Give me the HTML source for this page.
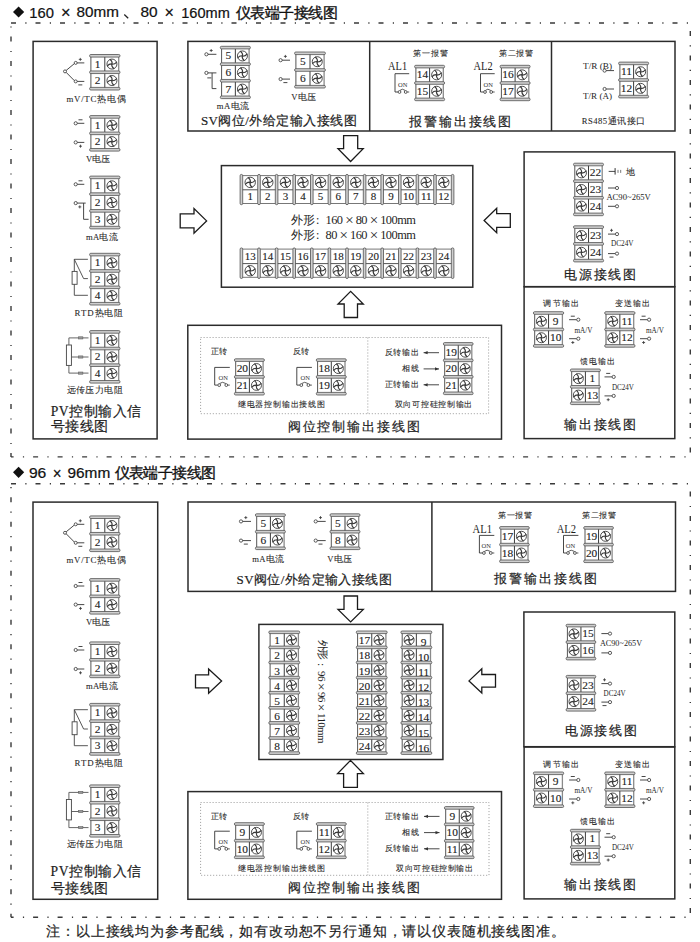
<!DOCTYPE html>
<html><head><meta charset="utf-8"><title>wiring</title>
<style>html,body{margin:0;padding:0;background:#fff;overflow:hidden;width:700px;height:942px;} svg{display:block;}</style></head>
<body><svg width="700" height="942" viewBox="0 0 700 942">

<rect width="700" height="942" fill="#fff"/>
<polygon points="18.6,6.4 24.2,12 18.6,17.6 13,12" fill="#111"/>
<text x="0" y="0" transform="translate(29.35,12.65) scale(1.0545,1)" font-size="14" font-family="'Liberation Sans', sans-serif" fill="#111" stroke="#111" stroke-width="0.2" dominant-baseline="central">160</text>
<text x="0" y="0" transform="translate(60.94,12.65) scale(0.9625,1)" font-size="17" font-family="'Liberation Sans', sans-serif" fill="#111" stroke="#111" stroke-width="0.2" dominant-baseline="central">×</text>
<text x="0" y="0" transform="translate(76.51,12.65) scale(1.0892,1)" font-size="14" font-family="'Liberation Sans', sans-serif" fill="#111" stroke="#111" stroke-width="0.2" dominant-baseline="central">80mm</text>
<text x="0" y="0" transform="translate(140.5,12.65) scale(1.1000,1)" font-size="14" font-family="'Liberation Sans', sans-serif" fill="#111" stroke="#111" stroke-width="0.2" dominant-baseline="central">80</text>
<text x="0" y="0" transform="translate(164.45,12.65) scale(0.9500,1)" font-size="17" font-family="'Liberation Sans', sans-serif" fill="#111" stroke="#111" stroke-width="0.2" dominant-baseline="central">×</text>
<text x="0" y="0" transform="translate(181.26,12.65) scale(1.0400,1)" font-size="14" font-family="'Liberation Sans', sans-serif" fill="#111" stroke="#111" stroke-width="0.2" dominant-baseline="central">160mm</text>
<line x1="124.3" y1="14.6" x2="128.2" y2="18.2" stroke="#222" stroke-width="1.3" />
<text x="235.5" y="12.9" font-size="14.5" text-anchor="start" font-family="'Liberation Sans', sans-serif" fill="#111" font-weight="normal" dominant-baseline="central" stroke="#111" stroke-width="0.35" textLength="102.5" lengthAdjust="spacing">仪表端子接线图</text>
<path d="M11,23 H690.3" stroke="#3a3a3a" stroke-width="1.4" fill="none" stroke-dasharray="5 9.3 1.2 9" stroke-dashoffset="0"/>
<path d="M11,23 V456.9" stroke="#3a3a3a" stroke-width="1.4" fill="none" stroke-dasharray="5 9.3 1.2 9" stroke-dashoffset="10.9"/>
<path d="M690.3,23 V456.9" stroke="#3a3a3a" stroke-width="1.4" fill="none" stroke-dasharray="5 9.3 1.2 9" stroke-dashoffset="16.6"/>
<path d="M11,456.9 H690.3" stroke="#3a3a3a" stroke-width="1.4" fill="none" stroke-dasharray="5 9.3 1.2 9" stroke-dashoffset="2.4"/>
<rect x="33.1" y="41.4" width="124" height="397.5" stroke="#2b2b2b" stroke-width="1.5" fill="none"/>
<rect x="90.8" y="54.55" width="28" height="32.9" fill="#fff" stroke="none"/>
<line x1="90.9" y1="55.55" x2="90.9" y2="88.45" stroke="#555" stroke-width="1" />
<line x1="118.7" y1="55.55" x2="118.7" y2="88.45" stroke="#8a8a8a" stroke-width="1.3" />
<line x1="104.8" y1="55.55" x2="104.8" y2="88.45" stroke="#3c3c3c" stroke-width="1" />
<rect x="89.6" y="54.5" width="30.4" height="2.6" rx="1.2" fill="#cfcfcf" stroke="#505050" stroke-width="0.8"/>
<rect x="89.6" y="70.95" width="30.4" height="2.6" rx="1.2" fill="#cfcfcf" stroke="#505050" stroke-width="0.8"/>
<rect x="89.6" y="87.4" width="30.4" height="2.6" rx="1.2" fill="#cfcfcf" stroke="#505050" stroke-width="0.8"/>
<g transform="translate(111.95,64.07)"><circle r="5" fill="none" stroke="#3a3a3a" stroke-width="0.9"/><path d="M0.2,0.2 C0.4,-1.8 0.2,-3.2 -1.8,-4.5 M-0.2,0.2 C1.8,0.4 3.2,0.2 4.5,-1.8 M-0.2,-0.2 C-0.4,1.8 -0.2,3.2 1.8,4.5 M0.2,-0.2 C-1.8,-0.4 -3.2,-0.2 -4.5,1.8" transform="scale(1)" fill="none" stroke="#3a3a3a" stroke-width="1.1" stroke-linecap="round"/></g>
<text x="97.65" y="63.57" font-size="11.4" text-anchor="middle" font-family="'Liberation Serif', serif" fill="#222" font-weight="normal" dominant-baseline="central" stroke="#222" stroke-width="0.12">1</text>
<g transform="translate(111.95,80.52)"><circle r="5" fill="none" stroke="#3a3a3a" stroke-width="0.9"/><path d="M0.2,0.2 C0.4,-1.8 0.2,-3.2 -1.8,-4.5 M-0.2,0.2 C1.8,0.4 3.2,0.2 4.5,-1.8 M-0.2,-0.2 C-0.4,1.8 -0.2,3.2 1.8,4.5 M0.2,-0.2 C-1.8,-0.4 -3.2,-0.2 -4.5,1.8" transform="scale(1)" fill="none" stroke="#3a3a3a" stroke-width="1.1" stroke-linecap="round"/></g>
<text x="97.65" y="80.02" font-size="11.4" text-anchor="middle" font-family="'Liberation Serif', serif" fill="#222" font-weight="normal" dominant-baseline="central" stroke="#222" stroke-width="0.12">2</text>
<circle cx="65" cy="71.4" r="1.5" fill="#fff" stroke="#333" stroke-width="0.8"/>
<line x1="66.2" y1="70.4" x2="74.5" y2="63.5" stroke="#333" stroke-width="0.9" />
<line x1="66.2" y1="72.4" x2="74.5" y2="80.8" stroke="#333" stroke-width="0.9" />
<circle cx="75.7" cy="62.9" r="1.5" fill="#fff" stroke="#333" stroke-width="0.8"/>
<circle cx="75.7" cy="81.4" r="1.5" fill="#fff" stroke="#333" stroke-width="0.8"/>
<line x1="77.2" y1="62.9" x2="84.3" y2="62.9" stroke="#333" stroke-width="0.9" />
<line x1="77.2" y1="81.4" x2="84.3" y2="81.4" stroke="#333" stroke-width="0.9" />
<line x1="78.8" y1="59.4" x2="81.8" y2="59.4" stroke="#333" stroke-width="0.8" />
<line x1="80.3" y1="57.9" x2="80.3" y2="60.9" stroke="#333" stroke-width="0.8" />
<line x1="78.3" y1="84.9" x2="82.3" y2="84.9" stroke="#333" stroke-width="0.9" />
<text x="96" y="99" font-size="8.84" text-anchor="middle" font-family="'Liberation Serif', serif" fill="#1e1e1e" font-weight="normal" dominant-baseline="central"  textLength="59" lengthAdjust="spacing" stroke="#1e1e1e" stroke-width="0.08">mV/TC热电偶</text>
<rect x="90.8" y="115.65" width="28" height="32.9" fill="#fff" stroke="none"/>
<line x1="90.9" y1="116.65" x2="90.9" y2="149.55" stroke="#555" stroke-width="1" />
<line x1="118.7" y1="116.65" x2="118.7" y2="149.55" stroke="#8a8a8a" stroke-width="1.3" />
<line x1="104.8" y1="116.65" x2="104.8" y2="149.55" stroke="#3c3c3c" stroke-width="1" />
<rect x="89.6" y="115.6" width="30.4" height="2.6" rx="1.2" fill="#cfcfcf" stroke="#505050" stroke-width="0.8"/>
<rect x="89.6" y="132.05" width="30.4" height="2.6" rx="1.2" fill="#cfcfcf" stroke="#505050" stroke-width="0.8"/>
<rect x="89.6" y="148.5" width="30.4" height="2.6" rx="1.2" fill="#cfcfcf" stroke="#505050" stroke-width="0.8"/>
<g transform="translate(111.95,125.17)"><circle r="5" fill="none" stroke="#3a3a3a" stroke-width="0.9"/><path d="M0.2,0.2 C0.4,-1.8 0.2,-3.2 -1.8,-4.5 M-0.2,0.2 C1.8,0.4 3.2,0.2 4.5,-1.8 M-0.2,-0.2 C-0.4,1.8 -0.2,3.2 1.8,4.5 M0.2,-0.2 C-1.8,-0.4 -3.2,-0.2 -4.5,1.8" transform="scale(1)" fill="none" stroke="#3a3a3a" stroke-width="1.1" stroke-linecap="round"/></g>
<text x="97.65" y="124.67" font-size="11.4" text-anchor="middle" font-family="'Liberation Serif', serif" fill="#222" font-weight="normal" dominant-baseline="central" stroke="#222" stroke-width="0.12">1</text>
<g transform="translate(111.95,141.62)"><circle r="5" fill="none" stroke="#3a3a3a" stroke-width="0.9"/><path d="M0.2,0.2 C0.4,-1.8 0.2,-3.2 -1.8,-4.5 M-0.2,0.2 C1.8,0.4 3.2,0.2 4.5,-1.8 M-0.2,-0.2 C-0.4,1.8 -0.2,3.2 1.8,4.5 M0.2,-0.2 C-1.8,-0.4 -3.2,-0.2 -4.5,1.8" transform="scale(1)" fill="none" stroke="#3a3a3a" stroke-width="1.1" stroke-linecap="round"/></g>
<text x="97.65" y="141.12" font-size="11.4" text-anchor="middle" font-family="'Liberation Serif', serif" fill="#222" font-weight="normal" dominant-baseline="central" stroke="#222" stroke-width="0.12">2</text>
<circle cx="75.7" cy="123.3" r="1.6" fill="#fff" stroke="#333" stroke-width="0.8"/>
<line x1="77.3" y1="123.3" x2="84.3" y2="123.3" stroke="#333" stroke-width="0.9" />
<line x1="78.5" y1="119.8" x2="82.5" y2="119.8" stroke="#333" stroke-width="0.9" />
<circle cx="75.7" cy="142.4" r="1.6" fill="#fff" stroke="#333" stroke-width="0.8"/>
<line x1="77.3" y1="142.4" x2="84.3" y2="142.4" stroke="#333" stroke-width="0.9" />
<line x1="79" y1="146.2" x2="82" y2="146.2" stroke="#333" stroke-width="0.8" />
<line x1="80.5" y1="144.7" x2="80.5" y2="147.7" stroke="#333" stroke-width="0.8" />
<text x="98.2" y="159.3" font-size="8.65" text-anchor="middle" font-family="'Liberation Serif', serif" fill="#1e1e1e" font-weight="normal" dominant-baseline="central"  textLength="24.5" lengthAdjust="spacing" stroke="#1e1e1e" stroke-width="0.08">V电压</text>
<rect x="90.8" y="176.15" width="28" height="50.19" fill="#fff" stroke="none"/>
<line x1="90.9" y1="177.15" x2="90.9" y2="227.34" stroke="#555" stroke-width="1" />
<line x1="118.7" y1="177.15" x2="118.7" y2="227.34" stroke="#8a8a8a" stroke-width="1.3" />
<line x1="104.8" y1="177.15" x2="104.8" y2="227.34" stroke="#3c3c3c" stroke-width="1" />
<rect x="89.6" y="176.1" width="30.4" height="2.6" rx="1.2" fill="#cfcfcf" stroke="#505050" stroke-width="0.8"/>
<rect x="89.6" y="192.83" width="30.4" height="2.6" rx="1.2" fill="#cfcfcf" stroke="#505050" stroke-width="0.8"/>
<rect x="89.6" y="209.56" width="30.4" height="2.6" rx="1.2" fill="#cfcfcf" stroke="#505050" stroke-width="0.8"/>
<rect x="89.6" y="226.29" width="30.4" height="2.6" rx="1.2" fill="#cfcfcf" stroke="#505050" stroke-width="0.8"/>
<g transform="translate(111.95,185.82)"><circle r="5" fill="none" stroke="#3a3a3a" stroke-width="0.9"/><path d="M0.2,0.2 C0.4,-1.8 0.2,-3.2 -1.8,-4.5 M-0.2,0.2 C1.8,0.4 3.2,0.2 4.5,-1.8 M-0.2,-0.2 C-0.4,1.8 -0.2,3.2 1.8,4.5 M0.2,-0.2 C-1.8,-0.4 -3.2,-0.2 -4.5,1.8" transform="scale(1)" fill="none" stroke="#3a3a3a" stroke-width="1.1" stroke-linecap="round"/></g>
<text x="97.65" y="185.32" font-size="11.4" text-anchor="middle" font-family="'Liberation Serif', serif" fill="#222" font-weight="normal" dominant-baseline="central" stroke="#222" stroke-width="0.12">1</text>
<g transform="translate(111.95,202.55)"><circle r="5" fill="none" stroke="#3a3a3a" stroke-width="0.9"/><path d="M0.2,0.2 C0.4,-1.8 0.2,-3.2 -1.8,-4.5 M-0.2,0.2 C1.8,0.4 3.2,0.2 4.5,-1.8 M-0.2,-0.2 C-0.4,1.8 -0.2,3.2 1.8,4.5 M0.2,-0.2 C-1.8,-0.4 -3.2,-0.2 -4.5,1.8" transform="scale(1)" fill="none" stroke="#3a3a3a" stroke-width="1.1" stroke-linecap="round"/></g>
<text x="97.65" y="202.05" font-size="11.4" text-anchor="middle" font-family="'Liberation Serif', serif" fill="#222" font-weight="normal" dominant-baseline="central" stroke="#222" stroke-width="0.12">2</text>
<g transform="translate(111.95,219.28)"><circle r="5" fill="none" stroke="#3a3a3a" stroke-width="0.9"/><path d="M0.2,0.2 C0.4,-1.8 0.2,-3.2 -1.8,-4.5 M-0.2,0.2 C1.8,0.4 3.2,0.2 4.5,-1.8 M-0.2,-0.2 C-0.4,1.8 -0.2,3.2 1.8,4.5 M0.2,-0.2 C-1.8,-0.4 -3.2,-0.2 -4.5,1.8" transform="scale(1)" fill="none" stroke="#3a3a3a" stroke-width="1.1" stroke-linecap="round"/></g>
<text x="97.65" y="218.78" font-size="11.4" text-anchor="middle" font-family="'Liberation Serif', serif" fill="#222" font-weight="normal" dominant-baseline="central" stroke="#222" stroke-width="0.12">3</text>
<circle cx="75.7" cy="184.3" r="1.6" fill="#fff" stroke="#333" stroke-width="0.8"/>
<line x1="77.3" y1="184.3" x2="84.3" y2="184.3" stroke="#333" stroke-width="0.9" />
<line x1="78.5" y1="180.8" x2="82.5" y2="180.8" stroke="#333" stroke-width="0.9" />
<circle cx="75.7" cy="203.1" r="1.6" fill="#fff" stroke="#333" stroke-width="0.8"/>
<polyline points="77.3,203.1 85.7,203.1" stroke="#333" stroke-width="0.9" fill="none" stroke-linejoin="miter" />
<polyline points="83.6,203.1 83.6,219.3 88.6,219.3" stroke="#333" stroke-width="0.9" fill="none" stroke-linejoin="miter" />
<line x1="78.3" y1="206.9" x2="81.3" y2="206.9" stroke="#333" stroke-width="0.8" />
<line x1="79.8" y1="205.4" x2="79.8" y2="208.4" stroke="#333" stroke-width="0.8" />
<text x="101.8" y="236.9" font-size="8.65" text-anchor="middle" font-family="'Liberation Serif', serif" fill="#1e1e1e" font-weight="normal" dominant-baseline="central"  textLength="31.5" lengthAdjust="spacing" stroke="#1e1e1e" stroke-width="0.08">mA电流</text>
<rect x="90.8" y="253.35" width="28" height="49.11" fill="#fff" stroke="none"/>
<line x1="90.9" y1="254.35" x2="90.9" y2="303.46" stroke="#555" stroke-width="1" />
<line x1="118.7" y1="254.35" x2="118.7" y2="303.46" stroke="#8a8a8a" stroke-width="1.3" />
<line x1="104.8" y1="254.35" x2="104.8" y2="303.46" stroke="#3c3c3c" stroke-width="1" />
<rect x="89.6" y="253.3" width="30.4" height="2.6" rx="1.2" fill="#cfcfcf" stroke="#505050" stroke-width="0.8"/>
<rect x="89.6" y="269.67" width="30.4" height="2.6" rx="1.2" fill="#cfcfcf" stroke="#505050" stroke-width="0.8"/>
<rect x="89.6" y="286.04" width="30.4" height="2.6" rx="1.2" fill="#cfcfcf" stroke="#505050" stroke-width="0.8"/>
<rect x="89.6" y="302.41" width="30.4" height="2.6" rx="1.2" fill="#cfcfcf" stroke="#505050" stroke-width="0.8"/>
<g transform="translate(111.95,262.83)"><circle r="5" fill="none" stroke="#3a3a3a" stroke-width="0.9"/><path d="M0.2,0.2 C0.4,-1.8 0.2,-3.2 -1.8,-4.5 M-0.2,0.2 C1.8,0.4 3.2,0.2 4.5,-1.8 M-0.2,-0.2 C-0.4,1.8 -0.2,3.2 1.8,4.5 M0.2,-0.2 C-1.8,-0.4 -3.2,-0.2 -4.5,1.8" transform="scale(1)" fill="none" stroke="#3a3a3a" stroke-width="1.1" stroke-linecap="round"/></g>
<text x="97.65" y="262.33" font-size="11.4" text-anchor="middle" font-family="'Liberation Serif', serif" fill="#222" font-weight="normal" dominant-baseline="central" stroke="#222" stroke-width="0.12">1</text>
<g transform="translate(111.95,279.2)"><circle r="5" fill="none" stroke="#3a3a3a" stroke-width="0.9"/><path d="M0.2,0.2 C0.4,-1.8 0.2,-3.2 -1.8,-4.5 M-0.2,0.2 C1.8,0.4 3.2,0.2 4.5,-1.8 M-0.2,-0.2 C-0.4,1.8 -0.2,3.2 1.8,4.5 M0.2,-0.2 C-1.8,-0.4 -3.2,-0.2 -4.5,1.8" transform="scale(1)" fill="none" stroke="#3a3a3a" stroke-width="1.1" stroke-linecap="round"/></g>
<text x="97.65" y="278.7" font-size="11.4" text-anchor="middle" font-family="'Liberation Serif', serif" fill="#222" font-weight="normal" dominant-baseline="central" stroke="#222" stroke-width="0.12">2</text>
<g transform="translate(111.95,295.57)"><circle r="5" fill="none" stroke="#3a3a3a" stroke-width="0.9"/><path d="M0.2,0.2 C0.4,-1.8 0.2,-3.2 -1.8,-4.5 M-0.2,0.2 C1.8,0.4 3.2,0.2 4.5,-1.8 M-0.2,-0.2 C-0.4,1.8 -0.2,3.2 1.8,4.5 M0.2,-0.2 C-1.8,-0.4 -3.2,-0.2 -4.5,1.8" transform="scale(1)" fill="none" stroke="#3a3a3a" stroke-width="1.1" stroke-linecap="round"/></g>
<text x="97.65" y="295.07" font-size="11.4" text-anchor="middle" font-family="'Liberation Serif', serif" fill="#222" font-weight="normal" dominant-baseline="central" stroke="#222" stroke-width="0.12">4</text>
<polyline points="87.9,259.3 74.3,259.3 74.3,271.4" stroke="#444" stroke-width="0.9" fill="none" stroke-linejoin="miter" />
<polyline points="74.3,259.3 83.6,278.6 87.9,278.6" stroke="#444" stroke-width="0.9" fill="none" stroke-linejoin="miter" />
<rect x="72.1" y="271.4" width="5" height="12.9" fill="#fff" stroke="#444" stroke-width="0.9"/>
<polyline points="74.3,284.3 74.3,295.3 87.9,295.3" stroke="#444" stroke-width="0.9" fill="none" stroke-linejoin="miter" />
<text x="99" y="312.9" font-size="8.84" text-anchor="middle" font-family="'Liberation Serif', serif" fill="#1e1e1e" font-weight="normal" dominant-baseline="central"  textLength="48.8" lengthAdjust="spacing" stroke="#1e1e1e" stroke-width="0.08">RTD热电阻</text>
<rect x="90.8" y="330.65" width="28" height="49.89" fill="#fff" stroke="none"/>
<line x1="90.9" y1="331.65" x2="90.9" y2="381.54" stroke="#555" stroke-width="1" />
<line x1="118.7" y1="331.65" x2="118.7" y2="381.54" stroke="#8a8a8a" stroke-width="1.3" />
<line x1="104.8" y1="331.65" x2="104.8" y2="381.54" stroke="#3c3c3c" stroke-width="1" />
<rect x="89.6" y="330.6" width="30.4" height="2.6" rx="1.2" fill="#cfcfcf" stroke="#505050" stroke-width="0.8"/>
<rect x="89.6" y="347.23" width="30.4" height="2.6" rx="1.2" fill="#cfcfcf" stroke="#505050" stroke-width="0.8"/>
<rect x="89.6" y="363.86" width="30.4" height="2.6" rx="1.2" fill="#cfcfcf" stroke="#505050" stroke-width="0.8"/>
<rect x="89.6" y="380.49" width="30.4" height="2.6" rx="1.2" fill="#cfcfcf" stroke="#505050" stroke-width="0.8"/>
<g transform="translate(111.95,340.26)"><circle r="5" fill="none" stroke="#3a3a3a" stroke-width="0.9"/><path d="M0.2,0.2 C0.4,-1.8 0.2,-3.2 -1.8,-4.5 M-0.2,0.2 C1.8,0.4 3.2,0.2 4.5,-1.8 M-0.2,-0.2 C-0.4,1.8 -0.2,3.2 1.8,4.5 M0.2,-0.2 C-1.8,-0.4 -3.2,-0.2 -4.5,1.8" transform="scale(1)" fill="none" stroke="#3a3a3a" stroke-width="1.1" stroke-linecap="round"/></g>
<text x="97.65" y="339.76" font-size="11.4" text-anchor="middle" font-family="'Liberation Serif', serif" fill="#222" font-weight="normal" dominant-baseline="central" stroke="#222" stroke-width="0.12">1</text>
<g transform="translate(111.95,356.89)"><circle r="5" fill="none" stroke="#3a3a3a" stroke-width="0.9"/><path d="M0.2,0.2 C0.4,-1.8 0.2,-3.2 -1.8,-4.5 M-0.2,0.2 C1.8,0.4 3.2,0.2 4.5,-1.8 M-0.2,-0.2 C-0.4,1.8 -0.2,3.2 1.8,4.5 M0.2,-0.2 C-1.8,-0.4 -3.2,-0.2 -4.5,1.8" transform="scale(1)" fill="none" stroke="#3a3a3a" stroke-width="1.1" stroke-linecap="round"/></g>
<text x="97.65" y="356.39" font-size="11.4" text-anchor="middle" font-family="'Liberation Serif', serif" fill="#222" font-weight="normal" dominant-baseline="central" stroke="#222" stroke-width="0.12">2</text>
<g transform="translate(111.95,373.52)"><circle r="5" fill="none" stroke="#3a3a3a" stroke-width="0.9"/><path d="M0.2,0.2 C0.4,-1.8 0.2,-3.2 -1.8,-4.5 M-0.2,0.2 C1.8,0.4 3.2,0.2 4.5,-1.8 M-0.2,-0.2 C-0.4,1.8 -0.2,3.2 1.8,4.5 M0.2,-0.2 C-1.8,-0.4 -3.2,-0.2 -4.5,1.8" transform="scale(1)" fill="none" stroke="#3a3a3a" stroke-width="1.1" stroke-linecap="round"/></g>
<text x="97.65" y="373.02" font-size="11.4" text-anchor="middle" font-family="'Liberation Serif', serif" fill="#222" font-weight="normal" dominant-baseline="central" stroke="#222" stroke-width="0.12">4</text>
<rect x="66.4" y="345" width="5" height="20.4" fill="#fff" stroke="#444" stroke-width="0.9"/>
<polyline points="68.9,345 68.9,337.9 88.5,337.9" stroke="#555" stroke-width="0.9" fill="none" stroke-linejoin="miter" />
<line x1="71.4" y1="357" x2="88.5" y2="357" stroke="#555" stroke-width="0.9" />
<polyline points="68.9,365.4 68.9,373.1 88.5,373.1" stroke="#555" stroke-width="0.9" fill="none" stroke-linejoin="miter" />
<rect x="78.6" y="336.8" width="4.3" height="2.2" fill="#999" stroke="#555" stroke-width="0.5"/>
<rect x="78.6" y="355.9" width="4.3" height="2.2" fill="#999" stroke="#555" stroke-width="0.5"/>
<rect x="78.6" y="372" width="4.3" height="2.2" fill="#999" stroke="#555" stroke-width="0.5"/>
<text x="94.5" y="390" font-size="8.56" text-anchor="middle" font-family="'Liberation Serif', serif" fill="#1e1e1e" font-weight="normal" dominant-baseline="central"  textLength="56" lengthAdjust="spacing" stroke="#1e1e1e" stroke-width="0.08">远传压力电阻</text>
<text x="50.7" y="411.4" font-size="13.6" text-anchor="start" font-family="'Liberation Serif', serif" fill="#1e1e1e" font-weight="normal" dominant-baseline="central"  textLength="90.5" lengthAdjust="spacing" stroke="#1e1e1e" stroke-width="0.2">PV控制输入信</text>
<text x="50.7" y="426.4" font-size="13.6" text-anchor="start" font-family="'Liberation Serif', serif" fill="#1e1e1e" font-weight="normal" dominant-baseline="central"  textLength="57.6" lengthAdjust="spacing" stroke="#1e1e1e" stroke-width="0.2">号接线图</text>
<rect x="187.9" y="41.4" width="487.1" height="89.6" stroke="#2b2b2b" stroke-width="1.5" fill="none"/>
<line x1="369.7" y1="41.4" x2="369.7" y2="131" stroke="#2b2b2b" stroke-width="1.5" />
<line x1="551.5" y1="41.4" x2="551.5" y2="131" stroke="#2b2b2b" stroke-width="1.5" />
<rect x="221.5" y="46.35" width="27.7" height="49.71" fill="#fff" stroke="none"/>
<line x1="221.6" y1="47.35" x2="221.6" y2="97.06" stroke="#555" stroke-width="1" />
<line x1="249.1" y1="47.35" x2="249.1" y2="97.06" stroke="#8a8a8a" stroke-width="1.3" />
<line x1="235.35" y1="47.35" x2="235.35" y2="97.06" stroke="#3c3c3c" stroke-width="1" />
<rect x="220.3" y="46.3" width="30.1" height="2.6" rx="1.2" fill="#cfcfcf" stroke="#505050" stroke-width="0.8"/>
<rect x="220.3" y="62.87" width="30.1" height="2.6" rx="1.2" fill="#cfcfcf" stroke="#505050" stroke-width="0.8"/>
<rect x="220.3" y="79.44" width="30.1" height="2.6" rx="1.2" fill="#cfcfcf" stroke="#505050" stroke-width="0.8"/>
<rect x="220.3" y="96.01" width="30.1" height="2.6" rx="1.2" fill="#cfcfcf" stroke="#505050" stroke-width="0.8"/>
<g transform="translate(242.43,55.94)"><circle r="5" fill="none" stroke="#3a3a3a" stroke-width="0.9"/><path d="M0.2,0.2 C0.4,-1.8 0.2,-3.2 -1.8,-4.5 M-0.2,0.2 C1.8,0.4 3.2,0.2 4.5,-1.8 M-0.2,-0.2 C-0.4,1.8 -0.2,3.2 1.8,4.5 M0.2,-0.2 C-1.8,-0.4 -3.2,-0.2 -4.5,1.8" transform="scale(1)" fill="none" stroke="#3a3a3a" stroke-width="1.1" stroke-linecap="round"/></g>
<text x="228.28" y="55.44" font-size="11.4" text-anchor="middle" font-family="'Liberation Serif', serif" fill="#222" font-weight="normal" dominant-baseline="central" stroke="#222" stroke-width="0.12">5</text>
<g transform="translate(242.43,72.5)"><circle r="5" fill="none" stroke="#3a3a3a" stroke-width="0.9"/><path d="M0.2,0.2 C0.4,-1.8 0.2,-3.2 -1.8,-4.5 M-0.2,0.2 C1.8,0.4 3.2,0.2 4.5,-1.8 M-0.2,-0.2 C-0.4,1.8 -0.2,3.2 1.8,4.5 M0.2,-0.2 C-1.8,-0.4 -3.2,-0.2 -4.5,1.8" transform="scale(1)" fill="none" stroke="#3a3a3a" stroke-width="1.1" stroke-linecap="round"/></g>
<text x="228.28" y="72" font-size="11.4" text-anchor="middle" font-family="'Liberation Serif', serif" fill="#222" font-weight="normal" dominant-baseline="central" stroke="#222" stroke-width="0.12">6</text>
<g transform="translate(242.43,89.08)"><circle r="5" fill="none" stroke="#3a3a3a" stroke-width="0.9"/><path d="M0.2,0.2 C0.4,-1.8 0.2,-3.2 -1.8,-4.5 M-0.2,0.2 C1.8,0.4 3.2,0.2 4.5,-1.8 M-0.2,-0.2 C-0.4,1.8 -0.2,3.2 1.8,4.5 M0.2,-0.2 C-1.8,-0.4 -3.2,-0.2 -4.5,1.8" transform="scale(1)" fill="none" stroke="#3a3a3a" stroke-width="1.1" stroke-linecap="round"/></g>
<text x="228.28" y="88.58" font-size="11.4" text-anchor="middle" font-family="'Liberation Serif', serif" fill="#222" font-weight="normal" dominant-baseline="central" stroke="#222" stroke-width="0.12">7</text>
<circle cx="206.4" cy="54.3" r="1.6" fill="#fff" stroke="#333" stroke-width="0.8"/>
<line x1="208" y1="54.3" x2="216.4" y2="54.3" stroke="#333" stroke-width="0.9" />
<line x1="209.7" y1="50.5" x2="212.7" y2="50.5" stroke="#333" stroke-width="0.8" />
<line x1="211.2" y1="49" x2="211.2" y2="52" stroke="#333" stroke-width="0.8" />
<circle cx="206.4" cy="72.9" r="1.6" fill="#fff" stroke="#333" stroke-width="0.8"/>
<line x1="208" y1="72.9" x2="216.4" y2="72.9" stroke="#333" stroke-width="0.9" />
<polyline points="212.1,72.9 212.1,88.6 216.4,88.6" stroke="#333" stroke-width="0.9" fill="none" stroke-linejoin="miter" />
<line x1="207.3" y1="77.9" x2="211.3" y2="77.9" stroke="#333" stroke-width="0.9" />
<text x="233" y="105.7" font-size="8.65" text-anchor="middle" font-family="'Liberation Serif', serif" fill="#1e1e1e" font-weight="normal" dominant-baseline="central"  textLength="32.4" lengthAdjust="spacing" stroke="#1e1e1e" stroke-width="0.08">mA电流</text>
<rect x="295.8" y="52.05" width="28.4" height="33.4" fill="#fff" stroke="none"/>
<line x1="295.9" y1="53.05" x2="295.9" y2="86.45" stroke="#555" stroke-width="1" />
<line x1="324.1" y1="53.05" x2="324.1" y2="86.45" stroke="#8a8a8a" stroke-width="1.3" />
<line x1="310" y1="53.05" x2="310" y2="86.45" stroke="#3c3c3c" stroke-width="1" />
<rect x="294.6" y="52" width="30.8" height="2.6" rx="1.2" fill="#cfcfcf" stroke="#505050" stroke-width="0.8"/>
<rect x="294.6" y="68.7" width="30.8" height="2.6" rx="1.2" fill="#cfcfcf" stroke="#505050" stroke-width="0.8"/>
<rect x="294.6" y="85.4" width="30.8" height="2.6" rx="1.2" fill="#cfcfcf" stroke="#505050" stroke-width="0.8"/>
<g transform="translate(317.25,61.7)"><circle r="5" fill="none" stroke="#3a3a3a" stroke-width="0.9"/><path d="M0.2,0.2 C0.4,-1.8 0.2,-3.2 -1.8,-4.5 M-0.2,0.2 C1.8,0.4 3.2,0.2 4.5,-1.8 M-0.2,-0.2 C-0.4,1.8 -0.2,3.2 1.8,4.5 M0.2,-0.2 C-1.8,-0.4 -3.2,-0.2 -4.5,1.8" transform="scale(1)" fill="none" stroke="#3a3a3a" stroke-width="1.1" stroke-linecap="round"/></g>
<text x="302.75" y="61.2" font-size="11.4" text-anchor="middle" font-family="'Liberation Serif', serif" fill="#222" font-weight="normal" dominant-baseline="central" stroke="#222" stroke-width="0.12">5</text>
<g transform="translate(317.25,78.4)"><circle r="5" fill="none" stroke="#3a3a3a" stroke-width="0.9"/><path d="M0.2,0.2 C0.4,-1.8 0.2,-3.2 -1.8,-4.5 M-0.2,0.2 C1.8,0.4 3.2,0.2 4.5,-1.8 M-0.2,-0.2 C-0.4,1.8 -0.2,3.2 1.8,4.5 M0.2,-0.2 C-1.8,-0.4 -3.2,-0.2 -4.5,1.8" transform="scale(1)" fill="none" stroke="#3a3a3a" stroke-width="1.1" stroke-linecap="round"/></g>
<text x="302.75" y="77.9" font-size="11.4" text-anchor="middle" font-family="'Liberation Serif', serif" fill="#222" font-weight="normal" dominant-baseline="central" stroke="#222" stroke-width="0.12">6</text>
<circle cx="280.6" cy="60.2" r="1.6" fill="#fff" stroke="#333" stroke-width="0.8"/>
<line x1="282.2" y1="60.2" x2="290" y2="60.2" stroke="#333" stroke-width="0.9" />
<line x1="283.9" y1="56.4" x2="286.9" y2="56.4" stroke="#333" stroke-width="0.8" />
<line x1="285.4" y1="54.9" x2="285.4" y2="57.9" stroke="#333" stroke-width="0.8" />
<circle cx="280.6" cy="79.1" r="1.6" fill="#fff" stroke="#333" stroke-width="0.8"/>
<line x1="282.2" y1="79.1" x2="290" y2="79.1" stroke="#333" stroke-width="0.9" />
<line x1="283.4" y1="82.6" x2="287.4" y2="82.6" stroke="#333" stroke-width="0.9" />
<text x="303.7" y="96.6" font-size="8.65" text-anchor="middle" font-family="'Liberation Serif', serif" fill="#1e1e1e" font-weight="normal" dominant-baseline="central"  textLength="25" lengthAdjust="spacing" stroke="#1e1e1e" stroke-width="0.08">V电压</text>
<text x="278.7" y="120.5" font-size="13" text-anchor="middle" font-family="'Liberation Serif', serif" fill="#1e1e1e" font-weight="normal" dominant-baseline="central"  textLength="155.6" lengthAdjust="spacing" stroke="#1e1e1e" stroke-width="0.2">SV阀位/外给定输入接线图</text>
<rect x="415.8" y="65.35" width="27.6" height="32.8" fill="#fff" stroke="none"/>
<line x1="415.9" y1="66.35" x2="415.9" y2="99.15" stroke="#555" stroke-width="1" />
<line x1="443.3" y1="66.35" x2="443.3" y2="99.15" stroke="#8a8a8a" stroke-width="1.3" />
<line x1="429.6" y1="66.35" x2="429.6" y2="99.15" stroke="#3c3c3c" stroke-width="1" />
<rect x="414.6" y="65.3" width="30" height="2.6" rx="1.2" fill="#cfcfcf" stroke="#505050" stroke-width="0.8"/>
<rect x="414.6" y="81.7" width="30" height="2.6" rx="1.2" fill="#cfcfcf" stroke="#505050" stroke-width="0.8"/>
<rect x="414.6" y="98.1" width="30" height="2.6" rx="1.2" fill="#cfcfcf" stroke="#505050" stroke-width="0.8"/>
<g transform="translate(436.65,74.85)"><circle r="5" fill="none" stroke="#3a3a3a" stroke-width="0.9"/><path d="M0.2,0.2 C0.4,-1.8 0.2,-3.2 -1.8,-4.5 M-0.2,0.2 C1.8,0.4 3.2,0.2 4.5,-1.8 M-0.2,-0.2 C-0.4,1.8 -0.2,3.2 1.8,4.5 M0.2,-0.2 C-1.8,-0.4 -3.2,-0.2 -4.5,1.8" transform="scale(1)" fill="none" stroke="#3a3a3a" stroke-width="1.1" stroke-linecap="round"/></g>
<text x="422.55" y="74.35" font-size="11.4" text-anchor="middle" font-family="'Liberation Serif', serif" fill="#222" font-weight="normal" dominant-baseline="central" stroke="#222" stroke-width="0.12">14</text>
<g transform="translate(436.65,91.25)"><circle r="5" fill="none" stroke="#3a3a3a" stroke-width="0.9"/><path d="M0.2,0.2 C0.4,-1.8 0.2,-3.2 -1.8,-4.5 M-0.2,0.2 C1.8,0.4 3.2,0.2 4.5,-1.8 M-0.2,-0.2 C-0.4,1.8 -0.2,3.2 1.8,4.5 M0.2,-0.2 C-1.8,-0.4 -3.2,-0.2 -4.5,1.8" transform="scale(1)" fill="none" stroke="#3a3a3a" stroke-width="1.1" stroke-linecap="round"/></g>
<text x="422.55" y="90.75" font-size="11.4" text-anchor="middle" font-family="'Liberation Serif', serif" fill="#222" font-weight="normal" dominant-baseline="central" stroke="#222" stroke-width="0.12">15</text>
<text x="430.4" y="53.5" font-size="7.81" text-anchor="middle" font-family="'Liberation Serif', serif" fill="#1e1e1e" font-weight="normal" dominant-baseline="central"  textLength="34.4" lengthAdjust="spacing" stroke="#1e1e1e" stroke-width="0.08">第一报警</text>
<text x="397.6" y="66.4" font-size="12" text-anchor="middle" font-family="'Liberation Serif', serif" fill="#1e1e1e" font-weight="normal" dominant-baseline="central"  textLength="19" lengthAdjust="spacingAndGlyphs">AL1</text>
<polyline points="409.2,73.7 395,73.7 395,92 398,92" stroke="#333" stroke-width="0.9" fill="none" stroke-linejoin="miter" />
<circle cx="399.5" cy="92" r="1.4" fill="#fff" stroke="#333" stroke-width="0.8"/>
<circle cx="405.7" cy="92" r="1.4" fill="#fff" stroke="#333" stroke-width="0.8"/>
<path d="M400,90.4 Q402.1,88 405.2,90.4" stroke="#333" stroke-width="0.8" fill="none"/>
<line x1="407.2" y1="92" x2="409.2" y2="92" stroke="#333" stroke-width="0.8" />
<text x="402.8" y="84.3" font-size="6.5" text-anchor="middle" font-family="'Liberation Serif', serif" fill="#333" font-weight="normal" dominant-baseline="central" >ON</text>
<rect x="501.3" y="65.35" width="27.6" height="32.8" fill="#fff" stroke="none"/>
<line x1="501.4" y1="66.35" x2="501.4" y2="99.15" stroke="#555" stroke-width="1" />
<line x1="528.8" y1="66.35" x2="528.8" y2="99.15" stroke="#8a8a8a" stroke-width="1.3" />
<line x1="515.1" y1="66.35" x2="515.1" y2="99.15" stroke="#3c3c3c" stroke-width="1" />
<rect x="500.1" y="65.3" width="30" height="2.6" rx="1.2" fill="#cfcfcf" stroke="#505050" stroke-width="0.8"/>
<rect x="500.1" y="81.7" width="30" height="2.6" rx="1.2" fill="#cfcfcf" stroke="#505050" stroke-width="0.8"/>
<rect x="500.1" y="98.1" width="30" height="2.6" rx="1.2" fill="#cfcfcf" stroke="#505050" stroke-width="0.8"/>
<g transform="translate(522.15,74.85)"><circle r="5" fill="none" stroke="#3a3a3a" stroke-width="0.9"/><path d="M0.2,0.2 C0.4,-1.8 0.2,-3.2 -1.8,-4.5 M-0.2,0.2 C1.8,0.4 3.2,0.2 4.5,-1.8 M-0.2,-0.2 C-0.4,1.8 -0.2,3.2 1.8,4.5 M0.2,-0.2 C-1.8,-0.4 -3.2,-0.2 -4.5,1.8" transform="scale(1)" fill="none" stroke="#3a3a3a" stroke-width="1.1" stroke-linecap="round"/></g>
<text x="508.05" y="74.35" font-size="11.4" text-anchor="middle" font-family="'Liberation Serif', serif" fill="#222" font-weight="normal" dominant-baseline="central" stroke="#222" stroke-width="0.12">16</text>
<g transform="translate(522.15,91.25)"><circle r="5" fill="none" stroke="#3a3a3a" stroke-width="0.9"/><path d="M0.2,0.2 C0.4,-1.8 0.2,-3.2 -1.8,-4.5 M-0.2,0.2 C1.8,0.4 3.2,0.2 4.5,-1.8 M-0.2,-0.2 C-0.4,1.8 -0.2,3.2 1.8,4.5 M0.2,-0.2 C-1.8,-0.4 -3.2,-0.2 -4.5,1.8" transform="scale(1)" fill="none" stroke="#3a3a3a" stroke-width="1.1" stroke-linecap="round"/></g>
<text x="508.05" y="90.75" font-size="11.4" text-anchor="middle" font-family="'Liberation Serif', serif" fill="#222" font-weight="normal" dominant-baseline="central" stroke="#222" stroke-width="0.12">17</text>
<text x="515.9" y="53.5" font-size="7.81" text-anchor="middle" font-family="'Liberation Serif', serif" fill="#1e1e1e" font-weight="normal" dominant-baseline="central"  textLength="34.4" lengthAdjust="spacing" stroke="#1e1e1e" stroke-width="0.08">第二报警</text>
<text x="483.1" y="66.4" font-size="12" text-anchor="middle" font-family="'Liberation Serif', serif" fill="#1e1e1e" font-weight="normal" dominant-baseline="central"  textLength="19" lengthAdjust="spacingAndGlyphs">AL2</text>
<polyline points="494.7,73.7 480.5,73.7 480.5,92 483.5,92" stroke="#333" stroke-width="0.9" fill="none" stroke-linejoin="miter" />
<circle cx="485" cy="92" r="1.4" fill="#fff" stroke="#333" stroke-width="0.8"/>
<circle cx="491.2" cy="92" r="1.4" fill="#fff" stroke="#333" stroke-width="0.8"/>
<path d="M485.5,90.4 Q487.6,88 490.7,90.4" stroke="#333" stroke-width="0.8" fill="none"/>
<line x1="492.7" y1="92" x2="494.7" y2="92" stroke="#333" stroke-width="0.8" />
<text x="488.3" y="84.3" font-size="6.5" text-anchor="middle" font-family="'Liberation Serif', serif" fill="#333" font-weight="normal" dominant-baseline="central" >ON</text>
<text x="460.3" y="121.1" font-size="13.2" text-anchor="middle" font-family="'Liberation Serif', serif" fill="#1e1e1e" font-weight="normal" dominant-baseline="central"  textLength="101.8" lengthAdjust="spacing" stroke="#1e1e1e" stroke-width="0.2">报警输出接线图</text>
<rect x="619.8" y="62.15" width="27.6" height="33.2" fill="#fff" stroke="none"/>
<line x1="619.9" y1="63.15" x2="619.9" y2="96.35" stroke="#555" stroke-width="1" />
<line x1="647.3" y1="63.15" x2="647.3" y2="96.35" stroke="#8a8a8a" stroke-width="1.3" />
<line x1="633.6" y1="63.15" x2="633.6" y2="96.35" stroke="#3c3c3c" stroke-width="1" />
<rect x="618.6" y="62.1" width="30" height="2.6" rx="1.2" fill="#cfcfcf" stroke="#505050" stroke-width="0.8"/>
<rect x="618.6" y="78.7" width="30" height="2.6" rx="1.2" fill="#cfcfcf" stroke="#505050" stroke-width="0.8"/>
<rect x="618.6" y="95.3" width="30" height="2.6" rx="1.2" fill="#cfcfcf" stroke="#505050" stroke-width="0.8"/>
<g transform="translate(640.65,71.75)"><circle r="5" fill="none" stroke="#3a3a3a" stroke-width="0.9"/><path d="M0.2,0.2 C0.4,-1.8 0.2,-3.2 -1.8,-4.5 M-0.2,0.2 C1.8,0.4 3.2,0.2 4.5,-1.8 M-0.2,-0.2 C-0.4,1.8 -0.2,3.2 1.8,4.5 M0.2,-0.2 C-1.8,-0.4 -3.2,-0.2 -4.5,1.8" transform="scale(1)" fill="none" stroke="#3a3a3a" stroke-width="1.1" stroke-linecap="round"/></g>
<text x="626.55" y="71.25" font-size="11.4" text-anchor="middle" font-family="'Liberation Serif', serif" fill="#222" font-weight="normal" dominant-baseline="central" stroke="#222" stroke-width="0.12">11</text>
<g transform="translate(640.65,88.35)"><circle r="5" fill="none" stroke="#3a3a3a" stroke-width="0.9"/><path d="M0.2,0.2 C0.4,-1.8 0.2,-3.2 -1.8,-4.5 M-0.2,0.2 C1.8,0.4 3.2,0.2 4.5,-1.8 M-0.2,-0.2 C-0.4,1.8 -0.2,3.2 1.8,4.5 M0.2,-0.2 C-1.8,-0.4 -3.2,-0.2 -4.5,1.8" transform="scale(1)" fill="none" stroke="#3a3a3a" stroke-width="1.1" stroke-linecap="round"/></g>
<text x="626.55" y="87.85" font-size="11.4" text-anchor="middle" font-family="'Liberation Serif', serif" fill="#222" font-weight="normal" dominant-baseline="central" stroke="#222" stroke-width="0.12">12</text>
<text x="597.5" y="66.6" font-size="8" text-anchor="middle" font-family="'Liberation Serif', serif" fill="#1e1e1e" font-weight="normal" dominant-baseline="central"  textLength="29" lengthAdjust="spacingAndGlyphs">T/R (B)</text>
<text x="597.5" y="96.5" font-size="8" text-anchor="middle" font-family="'Liberation Serif', serif" fill="#1e1e1e" font-weight="normal" dominant-baseline="central"  textLength="29" lengthAdjust="spacingAndGlyphs">T/R (A)</text>
<circle cx="604.6" cy="70.6" r="1.6" fill="#fff" stroke="#333" stroke-width="0.8"/>
<line x1="606.2" y1="70.6" x2="614" y2="70.6" stroke="#333" stroke-width="0.9" />
<circle cx="604.6" cy="89.0" r="1.6" fill="#fff" stroke="#333" stroke-width="0.8"/>
<line x1="606.2" y1="89" x2="614" y2="89" stroke="#333" stroke-width="0.9" />
<text x="613.4" y="120.8" font-size="8.65" text-anchor="middle" font-family="'Liberation Serif', serif" fill="#1e1e1e" font-weight="normal" dominant-baseline="central"  textLength="63.5" lengthAdjust="spacing" stroke="#1e1e1e" stroke-width="0.08">RS485通讯接口</text>
<rect x="221.4" y="165.6" width="251.4" height="121.6" stroke="#2b2b2b" stroke-width="1.5" fill="none"/>
<rect x="241.4" y="174.4" width="211.2" height="30.3" fill="#fff"/>
<line x1="241.4" y1="175.6" x2="452.6" y2="175.6" stroke="#777" stroke-width="1" />
<line x1="241.4" y1="203.5" x2="452.6" y2="203.5" stroke="#777" stroke-width="1" />
<line x1="241.4" y1="189.8" x2="452.6" y2="189.8" stroke="#555" stroke-width="1" />
<rect x="240.1" y="174.4" width="2.6" height="30.3" rx="1.3" fill="#cfcfcf" stroke="#505050" stroke-width="0.8"/>
<rect x="257.7" y="174.4" width="2.6" height="30.3" rx="1.3" fill="#cfcfcf" stroke="#505050" stroke-width="0.8"/>
<rect x="275.3" y="174.4" width="2.6" height="30.3" rx="1.3" fill="#cfcfcf" stroke="#505050" stroke-width="0.8"/>
<rect x="292.9" y="174.4" width="2.6" height="30.3" rx="1.3" fill="#cfcfcf" stroke="#505050" stroke-width="0.8"/>
<rect x="310.5" y="174.4" width="2.6" height="30.3" rx="1.3" fill="#cfcfcf" stroke="#505050" stroke-width="0.8"/>
<rect x="328.1" y="174.4" width="2.6" height="30.3" rx="1.3" fill="#cfcfcf" stroke="#505050" stroke-width="0.8"/>
<rect x="345.7" y="174.4" width="2.6" height="30.3" rx="1.3" fill="#cfcfcf" stroke="#505050" stroke-width="0.8"/>
<rect x="363.3" y="174.4" width="2.6" height="30.3" rx="1.3" fill="#cfcfcf" stroke="#505050" stroke-width="0.8"/>
<rect x="380.9" y="174.4" width="2.6" height="30.3" rx="1.3" fill="#cfcfcf" stroke="#505050" stroke-width="0.8"/>
<rect x="398.5" y="174.4" width="2.6" height="30.3" rx="1.3" fill="#cfcfcf" stroke="#505050" stroke-width="0.8"/>
<rect x="416.1" y="174.4" width="2.6" height="30.3" rx="1.3" fill="#cfcfcf" stroke="#505050" stroke-width="0.8"/>
<rect x="433.7" y="174.4" width="2.6" height="30.3" rx="1.3" fill="#cfcfcf" stroke="#505050" stroke-width="0.8"/>
<rect x="451.3" y="174.4" width="2.6" height="30.3" rx="1.3" fill="#cfcfcf" stroke="#505050" stroke-width="0.8"/>
<g transform="translate(250.2,182.4)"><circle r="5.2" fill="none" stroke="#3a3a3a" stroke-width="0.9"/><path d="M0.2,0.2 C0.4,-1.8 0.2,-3.2 -1.8,-4.5 M-0.2,0.2 C1.8,0.4 3.2,0.2 4.5,-1.8 M-0.2,-0.2 C-0.4,1.8 -0.2,3.2 1.8,4.5 M0.2,-0.2 C-1.8,-0.4 -3.2,-0.2 -4.5,1.8" transform="scale(1.04)" fill="none" stroke="#3a3a3a" stroke-width="1.1" stroke-linecap="round"/></g>
<text x="250.2" y="196.15" font-size="11" text-anchor="middle" font-family="'Liberation Serif', serif" fill="#222" font-weight="normal" dominant-baseline="central" stroke="#222" stroke-width="0.12">1</text>
<g transform="translate(267.8,182.4)"><circle r="5.2" fill="none" stroke="#3a3a3a" stroke-width="0.9"/><path d="M0.2,0.2 C0.4,-1.8 0.2,-3.2 -1.8,-4.5 M-0.2,0.2 C1.8,0.4 3.2,0.2 4.5,-1.8 M-0.2,-0.2 C-0.4,1.8 -0.2,3.2 1.8,4.5 M0.2,-0.2 C-1.8,-0.4 -3.2,-0.2 -4.5,1.8" transform="scale(1.04)" fill="none" stroke="#3a3a3a" stroke-width="1.1" stroke-linecap="round"/></g>
<text x="267.8" y="196.15" font-size="11" text-anchor="middle" font-family="'Liberation Serif', serif" fill="#222" font-weight="normal" dominant-baseline="central" stroke="#222" stroke-width="0.12">2</text>
<g transform="translate(285.4,182.4)"><circle r="5.2" fill="none" stroke="#3a3a3a" stroke-width="0.9"/><path d="M0.2,0.2 C0.4,-1.8 0.2,-3.2 -1.8,-4.5 M-0.2,0.2 C1.8,0.4 3.2,0.2 4.5,-1.8 M-0.2,-0.2 C-0.4,1.8 -0.2,3.2 1.8,4.5 M0.2,-0.2 C-1.8,-0.4 -3.2,-0.2 -4.5,1.8" transform="scale(1.04)" fill="none" stroke="#3a3a3a" stroke-width="1.1" stroke-linecap="round"/></g>
<text x="285.4" y="196.15" font-size="11" text-anchor="middle" font-family="'Liberation Serif', serif" fill="#222" font-weight="normal" dominant-baseline="central" stroke="#222" stroke-width="0.12">3</text>
<g transform="translate(303,182.4)"><circle r="5.2" fill="none" stroke="#3a3a3a" stroke-width="0.9"/><path d="M0.2,0.2 C0.4,-1.8 0.2,-3.2 -1.8,-4.5 M-0.2,0.2 C1.8,0.4 3.2,0.2 4.5,-1.8 M-0.2,-0.2 C-0.4,1.8 -0.2,3.2 1.8,4.5 M0.2,-0.2 C-1.8,-0.4 -3.2,-0.2 -4.5,1.8" transform="scale(1.04)" fill="none" stroke="#3a3a3a" stroke-width="1.1" stroke-linecap="round"/></g>
<text x="303" y="196.15" font-size="11" text-anchor="middle" font-family="'Liberation Serif', serif" fill="#222" font-weight="normal" dominant-baseline="central" stroke="#222" stroke-width="0.12">4</text>
<g transform="translate(320.6,182.4)"><circle r="5.2" fill="none" stroke="#3a3a3a" stroke-width="0.9"/><path d="M0.2,0.2 C0.4,-1.8 0.2,-3.2 -1.8,-4.5 M-0.2,0.2 C1.8,0.4 3.2,0.2 4.5,-1.8 M-0.2,-0.2 C-0.4,1.8 -0.2,3.2 1.8,4.5 M0.2,-0.2 C-1.8,-0.4 -3.2,-0.2 -4.5,1.8" transform="scale(1.04)" fill="none" stroke="#3a3a3a" stroke-width="1.1" stroke-linecap="round"/></g>
<text x="320.6" y="196.15" font-size="11" text-anchor="middle" font-family="'Liberation Serif', serif" fill="#222" font-weight="normal" dominant-baseline="central" stroke="#222" stroke-width="0.12">5</text>
<g transform="translate(338.2,182.4)"><circle r="5.2" fill="none" stroke="#3a3a3a" stroke-width="0.9"/><path d="M0.2,0.2 C0.4,-1.8 0.2,-3.2 -1.8,-4.5 M-0.2,0.2 C1.8,0.4 3.2,0.2 4.5,-1.8 M-0.2,-0.2 C-0.4,1.8 -0.2,3.2 1.8,4.5 M0.2,-0.2 C-1.8,-0.4 -3.2,-0.2 -4.5,1.8" transform="scale(1.04)" fill="none" stroke="#3a3a3a" stroke-width="1.1" stroke-linecap="round"/></g>
<text x="338.2" y="196.15" font-size="11" text-anchor="middle" font-family="'Liberation Serif', serif" fill="#222" font-weight="normal" dominant-baseline="central" stroke="#222" stroke-width="0.12">6</text>
<g transform="translate(355.8,182.4)"><circle r="5.2" fill="none" stroke="#3a3a3a" stroke-width="0.9"/><path d="M0.2,0.2 C0.4,-1.8 0.2,-3.2 -1.8,-4.5 M-0.2,0.2 C1.8,0.4 3.2,0.2 4.5,-1.8 M-0.2,-0.2 C-0.4,1.8 -0.2,3.2 1.8,4.5 M0.2,-0.2 C-1.8,-0.4 -3.2,-0.2 -4.5,1.8" transform="scale(1.04)" fill="none" stroke="#3a3a3a" stroke-width="1.1" stroke-linecap="round"/></g>
<text x="355.8" y="196.15" font-size="11" text-anchor="middle" font-family="'Liberation Serif', serif" fill="#222" font-weight="normal" dominant-baseline="central" stroke="#222" stroke-width="0.12">7</text>
<g transform="translate(373.4,182.4)"><circle r="5.2" fill="none" stroke="#3a3a3a" stroke-width="0.9"/><path d="M0.2,0.2 C0.4,-1.8 0.2,-3.2 -1.8,-4.5 M-0.2,0.2 C1.8,0.4 3.2,0.2 4.5,-1.8 M-0.2,-0.2 C-0.4,1.8 -0.2,3.2 1.8,4.5 M0.2,-0.2 C-1.8,-0.4 -3.2,-0.2 -4.5,1.8" transform="scale(1.04)" fill="none" stroke="#3a3a3a" stroke-width="1.1" stroke-linecap="round"/></g>
<text x="373.4" y="196.15" font-size="11" text-anchor="middle" font-family="'Liberation Serif', serif" fill="#222" font-weight="normal" dominant-baseline="central" stroke="#222" stroke-width="0.12">8</text>
<g transform="translate(391,182.4)"><circle r="5.2" fill="none" stroke="#3a3a3a" stroke-width="0.9"/><path d="M0.2,0.2 C0.4,-1.8 0.2,-3.2 -1.8,-4.5 M-0.2,0.2 C1.8,0.4 3.2,0.2 4.5,-1.8 M-0.2,-0.2 C-0.4,1.8 -0.2,3.2 1.8,4.5 M0.2,-0.2 C-1.8,-0.4 -3.2,-0.2 -4.5,1.8" transform="scale(1.04)" fill="none" stroke="#3a3a3a" stroke-width="1.1" stroke-linecap="round"/></g>
<text x="391" y="196.15" font-size="11" text-anchor="middle" font-family="'Liberation Serif', serif" fill="#222" font-weight="normal" dominant-baseline="central" stroke="#222" stroke-width="0.12">9</text>
<g transform="translate(408.6,182.4)"><circle r="5.2" fill="none" stroke="#3a3a3a" stroke-width="0.9"/><path d="M0.2,0.2 C0.4,-1.8 0.2,-3.2 -1.8,-4.5 M-0.2,0.2 C1.8,0.4 3.2,0.2 4.5,-1.8 M-0.2,-0.2 C-0.4,1.8 -0.2,3.2 1.8,4.5 M0.2,-0.2 C-1.8,-0.4 -3.2,-0.2 -4.5,1.8" transform="scale(1.04)" fill="none" stroke="#3a3a3a" stroke-width="1.1" stroke-linecap="round"/></g>
<text x="408.6" y="196.15" font-size="11" text-anchor="middle" font-family="'Liberation Serif', serif" fill="#222" font-weight="normal" dominant-baseline="central" stroke="#222" stroke-width="0.12">10</text>
<g transform="translate(426.2,182.4)"><circle r="5.2" fill="none" stroke="#3a3a3a" stroke-width="0.9"/><path d="M0.2,0.2 C0.4,-1.8 0.2,-3.2 -1.8,-4.5 M-0.2,0.2 C1.8,0.4 3.2,0.2 4.5,-1.8 M-0.2,-0.2 C-0.4,1.8 -0.2,3.2 1.8,4.5 M0.2,-0.2 C-1.8,-0.4 -3.2,-0.2 -4.5,1.8" transform="scale(1.04)" fill="none" stroke="#3a3a3a" stroke-width="1.1" stroke-linecap="round"/></g>
<text x="426.2" y="196.15" font-size="11" text-anchor="middle" font-family="'Liberation Serif', serif" fill="#222" font-weight="normal" dominant-baseline="central" stroke="#222" stroke-width="0.12">11</text>
<g transform="translate(443.8,182.4)"><circle r="5.2" fill="none" stroke="#3a3a3a" stroke-width="0.9"/><path d="M0.2,0.2 C0.4,-1.8 0.2,-3.2 -1.8,-4.5 M-0.2,0.2 C1.8,0.4 3.2,0.2 4.5,-1.8 M-0.2,-0.2 C-0.4,1.8 -0.2,3.2 1.8,4.5 M0.2,-0.2 C-1.8,-0.4 -3.2,-0.2 -4.5,1.8" transform="scale(1.04)" fill="none" stroke="#3a3a3a" stroke-width="1.1" stroke-linecap="round"/></g>
<text x="443.8" y="196.15" font-size="11" text-anchor="middle" font-family="'Liberation Serif', serif" fill="#222" font-weight="normal" dominant-baseline="central" stroke="#222" stroke-width="0.12">12</text>
<rect x="241.4" y="247.9" width="211.2" height="30.6" fill="#fff"/>
<line x1="241.4" y1="249.1" x2="452.6" y2="249.1" stroke="#777" stroke-width="1" />
<line x1="241.4" y1="277.3" x2="452.6" y2="277.3" stroke="#777" stroke-width="1" />
<line x1="241.4" y1="263.6" x2="452.6" y2="263.6" stroke="#555" stroke-width="1" />
<rect x="240.1" y="247.9" width="2.6" height="30.6" rx="1.3" fill="#cfcfcf" stroke="#505050" stroke-width="0.8"/>
<rect x="257.7" y="247.9" width="2.6" height="30.6" rx="1.3" fill="#cfcfcf" stroke="#505050" stroke-width="0.8"/>
<rect x="275.3" y="247.9" width="2.6" height="30.6" rx="1.3" fill="#cfcfcf" stroke="#505050" stroke-width="0.8"/>
<rect x="292.9" y="247.9" width="2.6" height="30.6" rx="1.3" fill="#cfcfcf" stroke="#505050" stroke-width="0.8"/>
<rect x="310.5" y="247.9" width="2.6" height="30.6" rx="1.3" fill="#cfcfcf" stroke="#505050" stroke-width="0.8"/>
<rect x="328.1" y="247.9" width="2.6" height="30.6" rx="1.3" fill="#cfcfcf" stroke="#505050" stroke-width="0.8"/>
<rect x="345.7" y="247.9" width="2.6" height="30.6" rx="1.3" fill="#cfcfcf" stroke="#505050" stroke-width="0.8"/>
<rect x="363.3" y="247.9" width="2.6" height="30.6" rx="1.3" fill="#cfcfcf" stroke="#505050" stroke-width="0.8"/>
<rect x="380.9" y="247.9" width="2.6" height="30.6" rx="1.3" fill="#cfcfcf" stroke="#505050" stroke-width="0.8"/>
<rect x="398.5" y="247.9" width="2.6" height="30.6" rx="1.3" fill="#cfcfcf" stroke="#505050" stroke-width="0.8"/>
<rect x="416.1" y="247.9" width="2.6" height="30.6" rx="1.3" fill="#cfcfcf" stroke="#505050" stroke-width="0.8"/>
<rect x="433.7" y="247.9" width="2.6" height="30.6" rx="1.3" fill="#cfcfcf" stroke="#505050" stroke-width="0.8"/>
<rect x="451.3" y="247.9" width="2.6" height="30.6" rx="1.3" fill="#cfcfcf" stroke="#505050" stroke-width="0.8"/>
<text x="250.2" y="256.35" font-size="11" text-anchor="middle" font-family="'Liberation Serif', serif" fill="#222" font-weight="normal" dominant-baseline="central" stroke="#222" stroke-width="0.12">13</text>
<g transform="translate(250.2,270.75)"><circle r="5.2" fill="none" stroke="#3a3a3a" stroke-width="0.9"/><path d="M0.2,0.2 C0.4,-1.8 0.2,-3.2 -1.8,-4.5 M-0.2,0.2 C1.8,0.4 3.2,0.2 4.5,-1.8 M-0.2,-0.2 C-0.4,1.8 -0.2,3.2 1.8,4.5 M0.2,-0.2 C-1.8,-0.4 -3.2,-0.2 -4.5,1.8" transform="scale(1.04)" fill="none" stroke="#3a3a3a" stroke-width="1.1" stroke-linecap="round"/></g>
<text x="267.8" y="256.35" font-size="11" text-anchor="middle" font-family="'Liberation Serif', serif" fill="#222" font-weight="normal" dominant-baseline="central" stroke="#222" stroke-width="0.12">14</text>
<g transform="translate(267.8,270.75)"><circle r="5.2" fill="none" stroke="#3a3a3a" stroke-width="0.9"/><path d="M0.2,0.2 C0.4,-1.8 0.2,-3.2 -1.8,-4.5 M-0.2,0.2 C1.8,0.4 3.2,0.2 4.5,-1.8 M-0.2,-0.2 C-0.4,1.8 -0.2,3.2 1.8,4.5 M0.2,-0.2 C-1.8,-0.4 -3.2,-0.2 -4.5,1.8" transform="scale(1.04)" fill="none" stroke="#3a3a3a" stroke-width="1.1" stroke-linecap="round"/></g>
<text x="285.4" y="256.35" font-size="11" text-anchor="middle" font-family="'Liberation Serif', serif" fill="#222" font-weight="normal" dominant-baseline="central" stroke="#222" stroke-width="0.12">15</text>
<g transform="translate(285.4,270.75)"><circle r="5.2" fill="none" stroke="#3a3a3a" stroke-width="0.9"/><path d="M0.2,0.2 C0.4,-1.8 0.2,-3.2 -1.8,-4.5 M-0.2,0.2 C1.8,0.4 3.2,0.2 4.5,-1.8 M-0.2,-0.2 C-0.4,1.8 -0.2,3.2 1.8,4.5 M0.2,-0.2 C-1.8,-0.4 -3.2,-0.2 -4.5,1.8" transform="scale(1.04)" fill="none" stroke="#3a3a3a" stroke-width="1.1" stroke-linecap="round"/></g>
<text x="303" y="256.35" font-size="11" text-anchor="middle" font-family="'Liberation Serif', serif" fill="#222" font-weight="normal" dominant-baseline="central" stroke="#222" stroke-width="0.12">16</text>
<g transform="translate(303,270.75)"><circle r="5.2" fill="none" stroke="#3a3a3a" stroke-width="0.9"/><path d="M0.2,0.2 C0.4,-1.8 0.2,-3.2 -1.8,-4.5 M-0.2,0.2 C1.8,0.4 3.2,0.2 4.5,-1.8 M-0.2,-0.2 C-0.4,1.8 -0.2,3.2 1.8,4.5 M0.2,-0.2 C-1.8,-0.4 -3.2,-0.2 -4.5,1.8" transform="scale(1.04)" fill="none" stroke="#3a3a3a" stroke-width="1.1" stroke-linecap="round"/></g>
<text x="320.6" y="256.35" font-size="11" text-anchor="middle" font-family="'Liberation Serif', serif" fill="#222" font-weight="normal" dominant-baseline="central" stroke="#222" stroke-width="0.12">17</text>
<g transform="translate(320.6,270.75)"><circle r="5.2" fill="none" stroke="#3a3a3a" stroke-width="0.9"/><path d="M0.2,0.2 C0.4,-1.8 0.2,-3.2 -1.8,-4.5 M-0.2,0.2 C1.8,0.4 3.2,0.2 4.5,-1.8 M-0.2,-0.2 C-0.4,1.8 -0.2,3.2 1.8,4.5 M0.2,-0.2 C-1.8,-0.4 -3.2,-0.2 -4.5,1.8" transform="scale(1.04)" fill="none" stroke="#3a3a3a" stroke-width="1.1" stroke-linecap="round"/></g>
<text x="338.2" y="256.35" font-size="11" text-anchor="middle" font-family="'Liberation Serif', serif" fill="#222" font-weight="normal" dominant-baseline="central" stroke="#222" stroke-width="0.12">18</text>
<g transform="translate(338.2,270.75)"><circle r="5.2" fill="none" stroke="#3a3a3a" stroke-width="0.9"/><path d="M0.2,0.2 C0.4,-1.8 0.2,-3.2 -1.8,-4.5 M-0.2,0.2 C1.8,0.4 3.2,0.2 4.5,-1.8 M-0.2,-0.2 C-0.4,1.8 -0.2,3.2 1.8,4.5 M0.2,-0.2 C-1.8,-0.4 -3.2,-0.2 -4.5,1.8" transform="scale(1.04)" fill="none" stroke="#3a3a3a" stroke-width="1.1" stroke-linecap="round"/></g>
<text x="355.8" y="256.35" font-size="11" text-anchor="middle" font-family="'Liberation Serif', serif" fill="#222" font-weight="normal" dominant-baseline="central" stroke="#222" stroke-width="0.12">19</text>
<g transform="translate(355.8,270.75)"><circle r="5.2" fill="none" stroke="#3a3a3a" stroke-width="0.9"/><path d="M0.2,0.2 C0.4,-1.8 0.2,-3.2 -1.8,-4.5 M-0.2,0.2 C1.8,0.4 3.2,0.2 4.5,-1.8 M-0.2,-0.2 C-0.4,1.8 -0.2,3.2 1.8,4.5 M0.2,-0.2 C-1.8,-0.4 -3.2,-0.2 -4.5,1.8" transform="scale(1.04)" fill="none" stroke="#3a3a3a" stroke-width="1.1" stroke-linecap="round"/></g>
<text x="373.4" y="256.35" font-size="11" text-anchor="middle" font-family="'Liberation Serif', serif" fill="#222" font-weight="normal" dominant-baseline="central" stroke="#222" stroke-width="0.12">20</text>
<g transform="translate(373.4,270.75)"><circle r="5.2" fill="none" stroke="#3a3a3a" stroke-width="0.9"/><path d="M0.2,0.2 C0.4,-1.8 0.2,-3.2 -1.8,-4.5 M-0.2,0.2 C1.8,0.4 3.2,0.2 4.5,-1.8 M-0.2,-0.2 C-0.4,1.8 -0.2,3.2 1.8,4.5 M0.2,-0.2 C-1.8,-0.4 -3.2,-0.2 -4.5,1.8" transform="scale(1.04)" fill="none" stroke="#3a3a3a" stroke-width="1.1" stroke-linecap="round"/></g>
<text x="391" y="256.35" font-size="11" text-anchor="middle" font-family="'Liberation Serif', serif" fill="#222" font-weight="normal" dominant-baseline="central" stroke="#222" stroke-width="0.12">21</text>
<g transform="translate(391,270.75)"><circle r="5.2" fill="none" stroke="#3a3a3a" stroke-width="0.9"/><path d="M0.2,0.2 C0.4,-1.8 0.2,-3.2 -1.8,-4.5 M-0.2,0.2 C1.8,0.4 3.2,0.2 4.5,-1.8 M-0.2,-0.2 C-0.4,1.8 -0.2,3.2 1.8,4.5 M0.2,-0.2 C-1.8,-0.4 -3.2,-0.2 -4.5,1.8" transform="scale(1.04)" fill="none" stroke="#3a3a3a" stroke-width="1.1" stroke-linecap="round"/></g>
<text x="408.6" y="256.35" font-size="11" text-anchor="middle" font-family="'Liberation Serif', serif" fill="#222" font-weight="normal" dominant-baseline="central" stroke="#222" stroke-width="0.12">22</text>
<g transform="translate(408.6,270.75)"><circle r="5.2" fill="none" stroke="#3a3a3a" stroke-width="0.9"/><path d="M0.2,0.2 C0.4,-1.8 0.2,-3.2 -1.8,-4.5 M-0.2,0.2 C1.8,0.4 3.2,0.2 4.5,-1.8 M-0.2,-0.2 C-0.4,1.8 -0.2,3.2 1.8,4.5 M0.2,-0.2 C-1.8,-0.4 -3.2,-0.2 -4.5,1.8" transform="scale(1.04)" fill="none" stroke="#3a3a3a" stroke-width="1.1" stroke-linecap="round"/></g>
<text x="426.2" y="256.35" font-size="11" text-anchor="middle" font-family="'Liberation Serif', serif" fill="#222" font-weight="normal" dominant-baseline="central" stroke="#222" stroke-width="0.12">23</text>
<g transform="translate(426.2,270.75)"><circle r="5.2" fill="none" stroke="#3a3a3a" stroke-width="0.9"/><path d="M0.2,0.2 C0.4,-1.8 0.2,-3.2 -1.8,-4.5 M-0.2,0.2 C1.8,0.4 3.2,0.2 4.5,-1.8 M-0.2,-0.2 C-0.4,1.8 -0.2,3.2 1.8,4.5 M0.2,-0.2 C-1.8,-0.4 -3.2,-0.2 -4.5,1.8" transform="scale(1.04)" fill="none" stroke="#3a3a3a" stroke-width="1.1" stroke-linecap="round"/></g>
<text x="443.8" y="256.35" font-size="11" text-anchor="middle" font-family="'Liberation Serif', serif" fill="#222" font-weight="normal" dominant-baseline="central" stroke="#222" stroke-width="0.12">24</text>
<g transform="translate(443.8,270.75)"><circle r="5.2" fill="none" stroke="#3a3a3a" stroke-width="0.9"/><path d="M0.2,0.2 C0.4,-1.8 0.2,-3.2 -1.8,-4.5 M-0.2,0.2 C1.8,0.4 3.2,0.2 4.5,-1.8 M-0.2,-0.2 C-0.4,1.8 -0.2,3.2 1.8,4.5 M0.2,-0.2 C-1.8,-0.4 -3.2,-0.2 -4.5,1.8" transform="scale(1.04)" fill="none" stroke="#3a3a3a" stroke-width="1.1" stroke-linecap="round"/></g>
<text x="290.8" y="220" font-size="12.2" text-anchor="start" font-family="'Liberation Serif', serif" fill="#1e1e1e" font-weight="normal" dominant-baseline="central"  textLength="24.5" lengthAdjust="spacing">外形</text>
<text x="316" y="220" font-size="12" text-anchor="start" font-family="'Liberation Serif', serif" fill="#1e1e1e" font-weight="normal" dominant-baseline="central" >:</text>
<text x="325.5" y="220" font-size="12.4" text-anchor="start" font-family="'Liberation Serif', serif" fill="#1e1e1e" font-weight="normal" dominant-baseline="central"  textLength="90.5" lengthAdjust="spacing">160 <tspan font-size="15">×</tspan> 80 <tspan font-size="15">×</tspan> 100mm</text>
<text x="290.8" y="235" font-size="12.2" text-anchor="start" font-family="'Liberation Serif', serif" fill="#1e1e1e" font-weight="normal" dominant-baseline="central"  textLength="24.5" lengthAdjust="spacing">外形</text>
<text x="316" y="235" font-size="12" text-anchor="start" font-family="'Liberation Serif', serif" fill="#1e1e1e" font-weight="normal" dominant-baseline="central" >:</text>
<text x="325.5" y="235" font-size="12.4" text-anchor="start" font-family="'Liberation Serif', serif" fill="#1e1e1e" font-weight="normal" dominant-baseline="central"  textLength="90.5" lengthAdjust="spacing">80 <tspan font-size="15">×</tspan> 160 <tspan font-size="15">×</tspan> 100mm</text>
<polygon points="180.2,213.8 194,213.8 194,208.5 206.6,220.9 194,233.3 194,227.9 180.2,227.9" stroke="#1a1a1a" stroke-width="1.3" fill="none" stroke-linejoin="miter" />
<polygon points="343.6,135.7 343.6,148.6 338,148.6 350.6,161.5 363.2,148.6 357.7,148.6 357.7,135.7" stroke="#1a1a1a" stroke-width="1.3" fill="none" stroke-linejoin="miter" />
<polygon points="344.2,317.5 344.2,304 338,304 350.65,291.4 363.3,304 357.5,304 357.5,317.5" stroke="#1a1a1a" stroke-width="1.3" fill="none" stroke-linejoin="miter" />
<polygon points="510.3,213.7 496.7,213.7 496.7,208.3 484.1,220.5 496.7,232.7 496.7,227.4 510.3,227.4" stroke="#1a1a1a" stroke-width="1.3" fill="none" stroke-linejoin="miter" />
<rect x="524.1" y="151.9" width="150.7" height="134.8" stroke="#2b2b2b" stroke-width="1.5" fill="none"/>
<rect x="574.7" y="163.25" width="27.6" height="49.89" fill="#fff" stroke="none"/>
<line x1="574.8" y1="164.25" x2="574.8" y2="214.14" stroke="#555" stroke-width="1" />
<line x1="602.2" y1="164.25" x2="602.2" y2="214.14" stroke="#8a8a8a" stroke-width="1.3" />
<line x1="588.5" y1="164.25" x2="588.5" y2="214.14" stroke="#3c3c3c" stroke-width="1" />
<rect x="573.5" y="163.2" width="30" height="2.6" rx="1.2" fill="#cfcfcf" stroke="#505050" stroke-width="0.8"/>
<rect x="573.5" y="179.83" width="30" height="2.6" rx="1.2" fill="#cfcfcf" stroke="#505050" stroke-width="0.8"/>
<rect x="573.5" y="196.46" width="30" height="2.6" rx="1.2" fill="#cfcfcf" stroke="#505050" stroke-width="0.8"/>
<rect x="573.5" y="213.09" width="30" height="2.6" rx="1.2" fill="#cfcfcf" stroke="#505050" stroke-width="0.8"/>
<g transform="translate(581.45,172.87)"><circle r="5" fill="none" stroke="#3a3a3a" stroke-width="0.9"/><path d="M0.2,0.2 C0.4,-1.8 0.2,-3.2 -1.8,-4.5 M-0.2,0.2 C1.8,0.4 3.2,0.2 4.5,-1.8 M-0.2,-0.2 C-0.4,1.8 -0.2,3.2 1.8,4.5 M0.2,-0.2 C-1.8,-0.4 -3.2,-0.2 -4.5,1.8" transform="scale(1)" fill="none" stroke="#3a3a3a" stroke-width="1.1" stroke-linecap="round"/></g>
<text x="595.55" y="172.37" font-size="11.4" text-anchor="middle" font-family="'Liberation Serif', serif" fill="#222" font-weight="normal" dominant-baseline="central" stroke="#222" stroke-width="0.12">22</text>
<g transform="translate(581.45,189.5)"><circle r="5" fill="none" stroke="#3a3a3a" stroke-width="0.9"/><path d="M0.2,0.2 C0.4,-1.8 0.2,-3.2 -1.8,-4.5 M-0.2,0.2 C1.8,0.4 3.2,0.2 4.5,-1.8 M-0.2,-0.2 C-0.4,1.8 -0.2,3.2 1.8,4.5 M0.2,-0.2 C-1.8,-0.4 -3.2,-0.2 -4.5,1.8" transform="scale(1)" fill="none" stroke="#3a3a3a" stroke-width="1.1" stroke-linecap="round"/></g>
<text x="595.55" y="189" font-size="11.4" text-anchor="middle" font-family="'Liberation Serif', serif" fill="#222" font-weight="normal" dominant-baseline="central" stroke="#222" stroke-width="0.12">23</text>
<g transform="translate(581.45,206.12)"><circle r="5" fill="none" stroke="#3a3a3a" stroke-width="0.9"/><path d="M0.2,0.2 C0.4,-1.8 0.2,-3.2 -1.8,-4.5 M-0.2,0.2 C1.8,0.4 3.2,0.2 4.5,-1.8 M-0.2,-0.2 C-0.4,1.8 -0.2,3.2 1.8,4.5 M0.2,-0.2 C-1.8,-0.4 -3.2,-0.2 -4.5,1.8" transform="scale(1)" fill="none" stroke="#3a3a3a" stroke-width="1.1" stroke-linecap="round"/></g>
<text x="595.55" y="205.62" font-size="11.4" text-anchor="middle" font-family="'Liberation Serif', serif" fill="#222" font-weight="normal" dominant-baseline="central" stroke="#222" stroke-width="0.12">24</text>
<line x1="608.7" y1="171.4" x2="615.1" y2="171.4" stroke="#333" stroke-width="0.9" />
<line x1="615.1" y1="168.1" x2="615.1" y2="174.6" stroke="#333" stroke-width="1" />
<line x1="618" y1="169.9" x2="618" y2="172.9" stroke="#555" stroke-width="0.8" />
<line x1="620.7" y1="169.9" x2="620.7" y2="172.9" stroke="#555" stroke-width="0.8" />
<text x="630.9" y="172" font-size="9.3" text-anchor="middle" font-family="'Liberation Serif', serif" fill="#1e1e1e" font-weight="normal" dominant-baseline="central"  stroke="#1e1e1e" stroke-width="0.08">地</text>
<line x1="608" y1="188" x2="615.4" y2="188" stroke="#333" stroke-width="0.9" />
<circle cx="617" cy="188" r="1.6" fill="#fff" stroke="#333" stroke-width="0.8"/>
<line x1="608" y1="206.3" x2="615.4" y2="206.3" stroke="#333" stroke-width="0.9" />
<circle cx="617" cy="206.3" r="1.6" fill="#fff" stroke="#333" stroke-width="0.8"/>
<text x="628.6" y="197.1" font-size="8.2" text-anchor="middle" font-family="'Liberation Serif', serif" fill="#1e1e1e" font-weight="normal" dominant-baseline="central"  textLength="44.4" lengthAdjust="spacingAndGlyphs">AC90~265V</text>
<rect x="574.7" y="225.85" width="27.7" height="33.5" fill="#fff" stroke="none"/>
<line x1="574.8" y1="226.85" x2="574.8" y2="260.35" stroke="#555" stroke-width="1" />
<line x1="602.3" y1="226.85" x2="602.3" y2="260.35" stroke="#8a8a8a" stroke-width="1.3" />
<line x1="588.55" y1="226.85" x2="588.55" y2="260.35" stroke="#3c3c3c" stroke-width="1" />
<rect x="573.5" y="225.8" width="30.1" height="2.6" rx="1.2" fill="#cfcfcf" stroke="#505050" stroke-width="0.8"/>
<rect x="573.5" y="242.55" width="30.1" height="2.6" rx="1.2" fill="#cfcfcf" stroke="#505050" stroke-width="0.8"/>
<rect x="573.5" y="259.3" width="30.1" height="2.6" rx="1.2" fill="#cfcfcf" stroke="#505050" stroke-width="0.8"/>
<g transform="translate(581.48,235.53)"><circle r="5" fill="none" stroke="#3a3a3a" stroke-width="0.9"/><path d="M0.2,0.2 C0.4,-1.8 0.2,-3.2 -1.8,-4.5 M-0.2,0.2 C1.8,0.4 3.2,0.2 4.5,-1.8 M-0.2,-0.2 C-0.4,1.8 -0.2,3.2 1.8,4.5 M0.2,-0.2 C-1.8,-0.4 -3.2,-0.2 -4.5,1.8" transform="scale(1)" fill="none" stroke="#3a3a3a" stroke-width="1.1" stroke-linecap="round"/></g>
<text x="595.62" y="235.03" font-size="11.4" text-anchor="middle" font-family="'Liberation Serif', serif" fill="#222" font-weight="normal" dominant-baseline="central" stroke="#222" stroke-width="0.12">23</text>
<g transform="translate(581.48,252.28)"><circle r="5" fill="none" stroke="#3a3a3a" stroke-width="0.9"/><path d="M0.2,0.2 C0.4,-1.8 0.2,-3.2 -1.8,-4.5 M-0.2,0.2 C1.8,0.4 3.2,0.2 4.5,-1.8 M-0.2,-0.2 C-0.4,1.8 -0.2,3.2 1.8,4.5 M0.2,-0.2 C-1.8,-0.4 -3.2,-0.2 -4.5,1.8" transform="scale(1)" fill="none" stroke="#3a3a3a" stroke-width="1.1" stroke-linecap="round"/></g>
<text x="595.62" y="251.78" font-size="11.4" text-anchor="middle" font-family="'Liberation Serif', serif" fill="#222" font-weight="normal" dominant-baseline="central" stroke="#222" stroke-width="0.12">24</text>
<line x1="608" y1="234.1" x2="615.4" y2="234.1" stroke="#333" stroke-width="0.9" />
<circle cx="617" cy="234.1" r="1.6" fill="#fff" stroke="#333" stroke-width="0.8"/>
<line x1="610" y1="230.3" x2="613" y2="230.3" stroke="#333" stroke-width="0.8" />
<line x1="611.5" y1="228.8" x2="611.5" y2="231.8" stroke="#333" stroke-width="0.8" />
<line x1="608" y1="253.6" x2="615.4" y2="253.6" stroke="#333" stroke-width="0.9" />
<circle cx="617" cy="253.6" r="1.6" fill="#fff" stroke="#333" stroke-width="0.8"/>
<line x1="609.5" y1="257.1" x2="613.5" y2="257.1" stroke="#333" stroke-width="0.9" />
<text x="622.3" y="243.3" font-size="8.6" text-anchor="middle" font-family="'Liberation Serif', serif" fill="#1e1e1e" font-weight="normal" dominant-baseline="central"  textLength="22.7" lengthAdjust="spacingAndGlyphs">DC24V</text>
<text x="600" y="274.8" font-size="13.2" text-anchor="middle" font-family="'Liberation Serif', serif" fill="#1e1e1e" font-weight="normal" dominant-baseline="central"  textLength="71.8" lengthAdjust="spacing" stroke="#1e1e1e" stroke-width="0.2">电源接线图</text>
<rect x="524.1" y="286.7" width="150.7" height="151.9" stroke="#2b2b2b" stroke-width="1.5" fill="none"/>
<rect x="534.6" y="311.75" width="27.9" height="32.9" fill="#fff" stroke="none"/>
<line x1="534.7" y1="312.75" x2="534.7" y2="345.65" stroke="#555" stroke-width="1" />
<line x1="562.4" y1="312.75" x2="562.4" y2="345.65" stroke="#8a8a8a" stroke-width="1.3" />
<line x1="548.55" y1="312.75" x2="548.55" y2="345.65" stroke="#3c3c3c" stroke-width="1" />
<rect x="533.4" y="311.7" width="30.3" height="2.6" rx="1.2" fill="#cfcfcf" stroke="#505050" stroke-width="0.8"/>
<rect x="533.4" y="328.15" width="30.3" height="2.6" rx="1.2" fill="#cfcfcf" stroke="#505050" stroke-width="0.8"/>
<rect x="533.4" y="344.6" width="30.3" height="2.6" rx="1.2" fill="#cfcfcf" stroke="#505050" stroke-width="0.8"/>
<g transform="translate(541.43,321.28)"><circle r="5" fill="none" stroke="#3a3a3a" stroke-width="0.9"/><path d="M0.2,0.2 C0.4,-1.8 0.2,-3.2 -1.8,-4.5 M-0.2,0.2 C1.8,0.4 3.2,0.2 4.5,-1.8 M-0.2,-0.2 C-0.4,1.8 -0.2,3.2 1.8,4.5 M0.2,-0.2 C-1.8,-0.4 -3.2,-0.2 -4.5,1.8" transform="scale(1)" fill="none" stroke="#3a3a3a" stroke-width="1.1" stroke-linecap="round"/></g>
<text x="555.68" y="320.78" font-size="11.4" text-anchor="middle" font-family="'Liberation Serif', serif" fill="#222" font-weight="normal" dominant-baseline="central" stroke="#222" stroke-width="0.12">9</text>
<g transform="translate(541.43,337.73)"><circle r="5" fill="none" stroke="#3a3a3a" stroke-width="0.9"/><path d="M0.2,0.2 C0.4,-1.8 0.2,-3.2 -1.8,-4.5 M-0.2,0.2 C1.8,0.4 3.2,0.2 4.5,-1.8 M-0.2,-0.2 C-0.4,1.8 -0.2,3.2 1.8,4.5 M0.2,-0.2 C-1.8,-0.4 -3.2,-0.2 -4.5,1.8" transform="scale(1)" fill="none" stroke="#3a3a3a" stroke-width="1.1" stroke-linecap="round"/></g>
<text x="555.68" y="337.23" font-size="11.4" text-anchor="middle" font-family="'Liberation Serif', serif" fill="#222" font-weight="normal" dominant-baseline="central" stroke="#222" stroke-width="0.12">10</text>
<text x="561.1" y="303.7" font-size="8" text-anchor="middle" font-family="'Liberation Serif', serif" fill="#1e1e1e" font-weight="normal" dominant-baseline="central"  textLength="35.3" lengthAdjust="spacing" stroke="#1e1e1e" stroke-width="0.08">调节输出</text>
<line x1="569.1" y1="319.7" x2="576.7" y2="319.7" stroke="#333" stroke-width="0.9" />
<circle cx="578.3" cy="319.7" r="1.6" fill="#fff" stroke="#333" stroke-width="0.8"/>
<line x1="570.8" y1="316.2" x2="574.8" y2="316.2" stroke="#333" stroke-width="0.9" />
<line x1="569.1" y1="338.7" x2="576.7" y2="338.7" stroke="#333" stroke-width="0.9" />
<circle cx="578.3" cy="338.7" r="1.6" fill="#fff" stroke="#333" stroke-width="0.8"/>
<line x1="571.3" y1="342.5" x2="574.3" y2="342.5" stroke="#333" stroke-width="0.8" />
<line x1="572.8" y1="341" x2="572.8" y2="344" stroke="#333" stroke-width="0.8" />
<text x="583.5" y="330.3" font-size="8.4" text-anchor="middle" font-family="'Liberation Serif', serif" fill="#1e1e1e" font-weight="normal" dominant-baseline="central"  textLength="18" lengthAdjust="spacingAndGlyphs">mA/V</text>
<rect x="605.9" y="311.75" width="27.9" height="32.9" fill="#fff" stroke="none"/>
<line x1="606" y1="312.75" x2="606" y2="345.65" stroke="#555" stroke-width="1" />
<line x1="633.7" y1="312.75" x2="633.7" y2="345.65" stroke="#8a8a8a" stroke-width="1.3" />
<line x1="619.85" y1="312.75" x2="619.85" y2="345.65" stroke="#3c3c3c" stroke-width="1" />
<rect x="604.7" y="311.7" width="30.3" height="2.6" rx="1.2" fill="#cfcfcf" stroke="#505050" stroke-width="0.8"/>
<rect x="604.7" y="328.15" width="30.3" height="2.6" rx="1.2" fill="#cfcfcf" stroke="#505050" stroke-width="0.8"/>
<rect x="604.7" y="344.6" width="30.3" height="2.6" rx="1.2" fill="#cfcfcf" stroke="#505050" stroke-width="0.8"/>
<g transform="translate(612.73,321.28)"><circle r="5" fill="none" stroke="#3a3a3a" stroke-width="0.9"/><path d="M0.2,0.2 C0.4,-1.8 0.2,-3.2 -1.8,-4.5 M-0.2,0.2 C1.8,0.4 3.2,0.2 4.5,-1.8 M-0.2,-0.2 C-0.4,1.8 -0.2,3.2 1.8,4.5 M0.2,-0.2 C-1.8,-0.4 -3.2,-0.2 -4.5,1.8" transform="scale(1)" fill="none" stroke="#3a3a3a" stroke-width="1.1" stroke-linecap="round"/></g>
<text x="626.98" y="320.78" font-size="11.4" text-anchor="middle" font-family="'Liberation Serif', serif" fill="#222" font-weight="normal" dominant-baseline="central" stroke="#222" stroke-width="0.12">11</text>
<g transform="translate(612.73,337.73)"><circle r="5" fill="none" stroke="#3a3a3a" stroke-width="0.9"/><path d="M0.2,0.2 C0.4,-1.8 0.2,-3.2 -1.8,-4.5 M-0.2,0.2 C1.8,0.4 3.2,0.2 4.5,-1.8 M-0.2,-0.2 C-0.4,1.8 -0.2,3.2 1.8,4.5 M0.2,-0.2 C-1.8,-0.4 -3.2,-0.2 -4.5,1.8" transform="scale(1)" fill="none" stroke="#3a3a3a" stroke-width="1.1" stroke-linecap="round"/></g>
<text x="626.98" y="337.23" font-size="11.4" text-anchor="middle" font-family="'Liberation Serif', serif" fill="#222" font-weight="normal" dominant-baseline="central" stroke="#222" stroke-width="0.12">12</text>
<text x="632.5" y="303.7" font-size="8" text-anchor="middle" font-family="'Liberation Serif', serif" fill="#1e1e1e" font-weight="normal" dominant-baseline="central"  textLength="35.3" lengthAdjust="spacing" stroke="#1e1e1e" stroke-width="0.08">变送输出</text>
<line x1="640" y1="319.7" x2="647.5" y2="319.7" stroke="#333" stroke-width="0.9" />
<circle cx="649.1" cy="319.7" r="1.6" fill="#fff" stroke="#333" stroke-width="0.8"/>
<line x1="641.6" y1="316.2" x2="645.6" y2="316.2" stroke="#333" stroke-width="0.9" />
<line x1="640" y1="338.7" x2="647.5" y2="338.7" stroke="#333" stroke-width="0.9" />
<circle cx="649.1" cy="338.7" r="1.6" fill="#fff" stroke="#333" stroke-width="0.8"/>
<line x1="642.1" y1="342.5" x2="645.1" y2="342.5" stroke="#333" stroke-width="0.8" />
<line x1="643.6" y1="341" x2="643.6" y2="344" stroke="#333" stroke-width="0.8" />
<text x="654.9" y="330.3" font-size="8.4" text-anchor="middle" font-family="'Liberation Serif', serif" fill="#1e1e1e" font-weight="normal" dominant-baseline="central"  textLength="18" lengthAdjust="spacingAndGlyphs">mA/V</text>
<rect x="571.6" y="369.05" width="27.6" height="33" fill="#fff" stroke="none"/>
<line x1="571.7" y1="370.05" x2="571.7" y2="403.05" stroke="#555" stroke-width="1" />
<line x1="599.1" y1="370.05" x2="599.1" y2="403.05" stroke="#8a8a8a" stroke-width="1.3" />
<line x1="585.4" y1="370.05" x2="585.4" y2="403.05" stroke="#3c3c3c" stroke-width="1" />
<rect x="570.4" y="369" width="30" height="2.6" rx="1.2" fill="#cfcfcf" stroke="#505050" stroke-width="0.8"/>
<rect x="570.4" y="385.5" width="30" height="2.6" rx="1.2" fill="#cfcfcf" stroke="#505050" stroke-width="0.8"/>
<rect x="570.4" y="402" width="30" height="2.6" rx="1.2" fill="#cfcfcf" stroke="#505050" stroke-width="0.8"/>
<g transform="translate(578.35,378.6)"><circle r="5" fill="none" stroke="#3a3a3a" stroke-width="0.9"/><path d="M0.2,0.2 C0.4,-1.8 0.2,-3.2 -1.8,-4.5 M-0.2,0.2 C1.8,0.4 3.2,0.2 4.5,-1.8 M-0.2,-0.2 C-0.4,1.8 -0.2,3.2 1.8,4.5 M0.2,-0.2 C-1.8,-0.4 -3.2,-0.2 -4.5,1.8" transform="scale(1)" fill="none" stroke="#3a3a3a" stroke-width="1.1" stroke-linecap="round"/></g>
<text x="592.45" y="378.1" font-size="11.4" text-anchor="middle" font-family="'Liberation Serif', serif" fill="#222" font-weight="normal" dominant-baseline="central" stroke="#222" stroke-width="0.12">1</text>
<g transform="translate(578.35,395.1)"><circle r="5" fill="none" stroke="#3a3a3a" stroke-width="0.9"/><path d="M0.2,0.2 C0.4,-1.8 0.2,-3.2 -1.8,-4.5 M-0.2,0.2 C1.8,0.4 3.2,0.2 4.5,-1.8 M-0.2,-0.2 C-0.4,1.8 -0.2,3.2 1.8,4.5 M0.2,-0.2 C-1.8,-0.4 -3.2,-0.2 -4.5,1.8" transform="scale(1)" fill="none" stroke="#3a3a3a" stroke-width="1.1" stroke-linecap="round"/></g>
<text x="592.45" y="394.6" font-size="11.4" text-anchor="middle" font-family="'Liberation Serif', serif" fill="#222" font-weight="normal" dominant-baseline="central" stroke="#222" stroke-width="0.12">13</text>
<text x="597.7" y="361.6" font-size="8" text-anchor="middle" font-family="'Liberation Serif', serif" fill="#1e1e1e" font-weight="normal" dominant-baseline="central"  textLength="35.3" lengthAdjust="spacing" stroke="#1e1e1e" stroke-width="0.08">馈电输出</text>
<line x1="604.5" y1="376.9" x2="612.1" y2="376.9" stroke="#333" stroke-width="0.9" />
<circle cx="613.7" cy="376.9" r="1.6" fill="#fff" stroke="#333" stroke-width="0.8"/>
<line x1="606.2" y1="373.4" x2="610.2" y2="373.4" stroke="#333" stroke-width="0.9" />
<line x1="604.5" y1="395.9" x2="612.1" y2="395.9" stroke="#333" stroke-width="0.9" />
<circle cx="613.7" cy="395.9" r="1.6" fill="#fff" stroke="#333" stroke-width="0.8"/>
<line x1="606.7" y1="399.7" x2="609.7" y2="399.7" stroke="#333" stroke-width="0.8" />
<line x1="608.2" y1="398.2" x2="608.2" y2="401.2" stroke="#333" stroke-width="0.8" />
<text x="622.9" y="386.7" font-size="8.6" text-anchor="middle" font-family="'Liberation Serif', serif" fill="#1e1e1e" font-weight="normal" dominant-baseline="central"  textLength="22" lengthAdjust="spacingAndGlyphs">DC24V</text>
<text x="600" y="424" font-size="13.2" text-anchor="middle" font-family="'Liberation Serif', serif" fill="#1e1e1e" font-weight="normal" dominant-baseline="central"  textLength="71.8" lengthAdjust="spacing" stroke="#1e1e1e" stroke-width="0.2">输出接线图</text>
<rect x="187.8" y="325.3" width="313.7" height="113.8" stroke="#2b2b2b" stroke-width="1.5" fill="none"/>
<rect x="200.6" y="337.5" width="288" height="76.2" stroke="#9a9a9a" stroke-width="1" fill="none" stroke-dasharray="1 2"/>
<line x1="367.8" y1="337.5" x2="367.8" y2="413.7" stroke="#9a9a9a" stroke-width="1" fill="none" stroke-dasharray="1 2"/>
<rect x="235.6" y="358.85" width="27.6" height="33.6" fill="#fff" stroke="none"/>
<line x1="235.7" y1="359.85" x2="235.7" y2="393.45" stroke="#555" stroke-width="1" />
<line x1="263.1" y1="359.85" x2="263.1" y2="393.45" stroke="#8a8a8a" stroke-width="1.3" />
<line x1="249.4" y1="359.85" x2="249.4" y2="393.45" stroke="#3c3c3c" stroke-width="1" />
<rect x="234.4" y="358.8" width="30" height="2.6" rx="1.2" fill="#cfcfcf" stroke="#505050" stroke-width="0.8"/>
<rect x="234.4" y="375.6" width="30" height="2.6" rx="1.2" fill="#cfcfcf" stroke="#505050" stroke-width="0.8"/>
<rect x="234.4" y="392.4" width="30" height="2.6" rx="1.2" fill="#cfcfcf" stroke="#505050" stroke-width="0.8"/>
<g transform="translate(256.45,368.55)"><circle r="5" fill="none" stroke="#3a3a3a" stroke-width="0.9"/><path d="M0.2,0.2 C0.4,-1.8 0.2,-3.2 -1.8,-4.5 M-0.2,0.2 C1.8,0.4 3.2,0.2 4.5,-1.8 M-0.2,-0.2 C-0.4,1.8 -0.2,3.2 1.8,4.5 M0.2,-0.2 C-1.8,-0.4 -3.2,-0.2 -4.5,1.8" transform="scale(1)" fill="none" stroke="#3a3a3a" stroke-width="1.1" stroke-linecap="round"/></g>
<text x="242.35" y="368.05" font-size="11.4" text-anchor="middle" font-family="'Liberation Serif', serif" fill="#222" font-weight="normal" dominant-baseline="central" stroke="#222" stroke-width="0.12">20</text>
<g transform="translate(256.45,385.35)"><circle r="5" fill="none" stroke="#3a3a3a" stroke-width="0.9"/><path d="M0.2,0.2 C0.4,-1.8 0.2,-3.2 -1.8,-4.5 M-0.2,0.2 C1.8,0.4 3.2,0.2 4.5,-1.8 M-0.2,-0.2 C-0.4,1.8 -0.2,3.2 1.8,4.5 M0.2,-0.2 C-1.8,-0.4 -3.2,-0.2 -4.5,1.8" transform="scale(1)" fill="none" stroke="#3a3a3a" stroke-width="1.1" stroke-linecap="round"/></g>
<text x="242.35" y="384.85" font-size="11.4" text-anchor="middle" font-family="'Liberation Serif', serif" fill="#222" font-weight="normal" dominant-baseline="central" stroke="#222" stroke-width="0.12">21</text>
<text x="218.9" y="351.6" font-size="8.37" text-anchor="middle" font-family="'Liberation Serif', serif" fill="#1e1e1e" font-weight="normal" dominant-baseline="central"  stroke="#1e1e1e" stroke-width="0.08">正转</text>
<polyline points="229.8,367.4 214.7,367.4 214.7,385.1 217.7,385.1" stroke="#333" stroke-width="0.9" fill="none" stroke-linejoin="miter" />
<circle cx="219.2" cy="385.1" r="1.4" fill="#fff" stroke="#333" stroke-width="0.8"/>
<circle cx="226.3" cy="385.1" r="1.4" fill="#fff" stroke="#333" stroke-width="0.8"/>
<path d="M219.7,383.5 Q222.25,381.1 225.8,383.5" stroke="#333" stroke-width="0.8" fill="none"/>
<line x1="227.8" y1="385.1" x2="229.8" y2="385.1" stroke="#333" stroke-width="0.8" />
<text x="223.2" y="377.8" font-size="6.5" text-anchor="middle" font-family="'Liberation Serif', serif" fill="#333" font-weight="normal" dominant-baseline="central" >ON</text>
<rect x="317.5" y="358.85" width="27.6" height="33.6" fill="#fff" stroke="none"/>
<line x1="317.6" y1="359.85" x2="317.6" y2="393.45" stroke="#555" stroke-width="1" />
<line x1="345" y1="359.85" x2="345" y2="393.45" stroke="#8a8a8a" stroke-width="1.3" />
<line x1="331.3" y1="359.85" x2="331.3" y2="393.45" stroke="#3c3c3c" stroke-width="1" />
<rect x="316.3" y="358.8" width="30" height="2.6" rx="1.2" fill="#cfcfcf" stroke="#505050" stroke-width="0.8"/>
<rect x="316.3" y="375.6" width="30" height="2.6" rx="1.2" fill="#cfcfcf" stroke="#505050" stroke-width="0.8"/>
<rect x="316.3" y="392.4" width="30" height="2.6" rx="1.2" fill="#cfcfcf" stroke="#505050" stroke-width="0.8"/>
<g transform="translate(338.35,368.55)"><circle r="5" fill="none" stroke="#3a3a3a" stroke-width="0.9"/><path d="M0.2,0.2 C0.4,-1.8 0.2,-3.2 -1.8,-4.5 M-0.2,0.2 C1.8,0.4 3.2,0.2 4.5,-1.8 M-0.2,-0.2 C-0.4,1.8 -0.2,3.2 1.8,4.5 M0.2,-0.2 C-1.8,-0.4 -3.2,-0.2 -4.5,1.8" transform="scale(1)" fill="none" stroke="#3a3a3a" stroke-width="1.1" stroke-linecap="round"/></g>
<text x="324.25" y="368.05" font-size="11.4" text-anchor="middle" font-family="'Liberation Serif', serif" fill="#222" font-weight="normal" dominant-baseline="central" stroke="#222" stroke-width="0.12">18</text>
<g transform="translate(338.35,385.35)"><circle r="5" fill="none" stroke="#3a3a3a" stroke-width="0.9"/><path d="M0.2,0.2 C0.4,-1.8 0.2,-3.2 -1.8,-4.5 M-0.2,0.2 C1.8,0.4 3.2,0.2 4.5,-1.8 M-0.2,-0.2 C-0.4,1.8 -0.2,3.2 1.8,4.5 M0.2,-0.2 C-1.8,-0.4 -3.2,-0.2 -4.5,1.8" transform="scale(1)" fill="none" stroke="#3a3a3a" stroke-width="1.1" stroke-linecap="round"/></g>
<text x="324.25" y="384.85" font-size="11.4" text-anchor="middle" font-family="'Liberation Serif', serif" fill="#222" font-weight="normal" dominant-baseline="central" stroke="#222" stroke-width="0.12">19</text>
<text x="301.4" y="351.6" font-size="8.37" text-anchor="middle" font-family="'Liberation Serif', serif" fill="#1e1e1e" font-weight="normal" dominant-baseline="central"  stroke="#1e1e1e" stroke-width="0.08">反转</text>
<polyline points="311.9,367.4 296.8,367.4 296.8,385.1 299.8,385.1" stroke="#333" stroke-width="0.9" fill="none" stroke-linejoin="miter" />
<circle cx="301.3" cy="385.1" r="1.4" fill="#fff" stroke="#333" stroke-width="0.8"/>
<circle cx="308.4" cy="385.1" r="1.4" fill="#fff" stroke="#333" stroke-width="0.8"/>
<path d="M301.8,383.5 Q304.35,381.1 307.9,383.5" stroke="#333" stroke-width="0.8" fill="none"/>
<line x1="309.9" y1="385.1" x2="311.9" y2="385.1" stroke="#333" stroke-width="0.8" />
<text x="305.3" y="377.8" font-size="6.5" text-anchor="middle" font-family="'Liberation Serif', serif" fill="#333" font-weight="normal" dominant-baseline="central" >ON</text>
<text x="281.4" y="404.5" font-size="8" text-anchor="middle" font-family="'Liberation Serif', serif" fill="#1e1e1e" font-weight="normal" dominant-baseline="central"  textLength="87.2" lengthAdjust="spacing" stroke="#1e1e1e" stroke-width="0.08">继电器控制输出接线图</text>
<rect x="444.6" y="342.65" width="27.3" height="49.41" fill="#fff" stroke="none"/>
<line x1="444.7" y1="343.65" x2="444.7" y2="393.06" stroke="#555" stroke-width="1" />
<line x1="471.8" y1="343.65" x2="471.8" y2="393.06" stroke="#8a8a8a" stroke-width="1.3" />
<line x1="458.25" y1="343.65" x2="458.25" y2="393.06" stroke="#3c3c3c" stroke-width="1" />
<rect x="443.4" y="342.6" width="29.7" height="2.6" rx="1.2" fill="#cfcfcf" stroke="#505050" stroke-width="0.8"/>
<rect x="443.4" y="359.07" width="29.7" height="2.6" rx="1.2" fill="#cfcfcf" stroke="#505050" stroke-width="0.8"/>
<rect x="443.4" y="375.54" width="29.7" height="2.6" rx="1.2" fill="#cfcfcf" stroke="#505050" stroke-width="0.8"/>
<rect x="443.4" y="392.01" width="29.7" height="2.6" rx="1.2" fill="#cfcfcf" stroke="#505050" stroke-width="0.8"/>
<g transform="translate(465.22,352.19)"><circle r="5" fill="none" stroke="#3a3a3a" stroke-width="0.9"/><path d="M0.2,0.2 C0.4,-1.8 0.2,-3.2 -1.8,-4.5 M-0.2,0.2 C1.8,0.4 3.2,0.2 4.5,-1.8 M-0.2,-0.2 C-0.4,1.8 -0.2,3.2 1.8,4.5 M0.2,-0.2 C-1.8,-0.4 -3.2,-0.2 -4.5,1.8" transform="scale(1)" fill="none" stroke="#3a3a3a" stroke-width="1.1" stroke-linecap="round"/></g>
<text x="451.28" y="351.69" font-size="11.4" text-anchor="middle" font-family="'Liberation Serif', serif" fill="#222" font-weight="normal" dominant-baseline="central" stroke="#222" stroke-width="0.12">19</text>
<g transform="translate(465.22,368.66)"><circle r="5" fill="none" stroke="#3a3a3a" stroke-width="0.9"/><path d="M0.2,0.2 C0.4,-1.8 0.2,-3.2 -1.8,-4.5 M-0.2,0.2 C1.8,0.4 3.2,0.2 4.5,-1.8 M-0.2,-0.2 C-0.4,1.8 -0.2,3.2 1.8,4.5 M0.2,-0.2 C-1.8,-0.4 -3.2,-0.2 -4.5,1.8" transform="scale(1)" fill="none" stroke="#3a3a3a" stroke-width="1.1" stroke-linecap="round"/></g>
<text x="451.28" y="368.16" font-size="11.4" text-anchor="middle" font-family="'Liberation Serif', serif" fill="#222" font-weight="normal" dominant-baseline="central" stroke="#222" stroke-width="0.12">20</text>
<g transform="translate(465.22,385.12)"><circle r="5" fill="none" stroke="#3a3a3a" stroke-width="0.9"/><path d="M0.2,0.2 C0.4,-1.8 0.2,-3.2 -1.8,-4.5 M-0.2,0.2 C1.8,0.4 3.2,0.2 4.5,-1.8 M-0.2,-0.2 C-0.4,1.8 -0.2,3.2 1.8,4.5 M0.2,-0.2 C-1.8,-0.4 -3.2,-0.2 -4.5,1.8" transform="scale(1)" fill="none" stroke="#3a3a3a" stroke-width="1.1" stroke-linecap="round"/></g>
<text x="451.28" y="384.62" font-size="11.4" text-anchor="middle" font-family="'Liberation Serif', serif" fill="#222" font-weight="normal" dominant-baseline="central" stroke="#222" stroke-width="0.12">21</text>
<text x="401.7" y="352.7" font-size="7.91" text-anchor="middle" font-family="'Liberation Serif', serif" fill="#1e1e1e" font-weight="normal" dominant-baseline="central"  textLength="34.4" lengthAdjust="spacing" stroke="#1e1e1e" stroke-width="0.08">反转输出</text>
<line x1="439" y1="352.7" x2="423.6" y2="352.7" stroke="#333" stroke-width="0.9" />
<polygon points="423.6,352.7 427.6,351.1 427.6,354.3" fill="#333"/>
<text x="410.7" y="368.9" font-size="7.91" text-anchor="middle" font-family="'Liberation Serif', serif" fill="#1e1e1e" font-weight="normal" dominant-baseline="central"  textLength="16.5" lengthAdjust="spacing" stroke="#1e1e1e" stroke-width="0.08">相线</text>
<line x1="423.6" y1="368.9" x2="439" y2="368.9" stroke="#333" stroke-width="0.9" />
<polygon points="439,368.9 435,367.3 435,370.5" fill="#333"/>
<text x="401.7" y="384.8" font-size="7.91" text-anchor="middle" font-family="'Liberation Serif', serif" fill="#1e1e1e" font-weight="normal" dominant-baseline="central"  textLength="34.4" lengthAdjust="spacing" stroke="#1e1e1e" stroke-width="0.08">正转输出</text>
<line x1="439" y1="384.8" x2="423.6" y2="384.8" stroke="#333" stroke-width="0.9" />
<polygon points="423.6,384.8 427.6,383.2 427.6,386.4" fill="#333"/>
<text x="433.5" y="404.3" font-size="7.91" text-anchor="middle" font-family="'Liberation Serif', serif" fill="#1e1e1e" font-weight="normal" dominant-baseline="central"  textLength="77.4" lengthAdjust="spacing" stroke="#1e1e1e" stroke-width="0.08">双向可控硅控制输出</text>
<text x="353.9" y="426.5" font-size="13.2" text-anchor="middle" font-family="'Liberation Serif', serif" fill="#1e1e1e" font-weight="normal" dominant-baseline="central"  textLength="132.6" lengthAdjust="spacing" stroke="#1e1e1e" stroke-width="0.2">阀位控制输出接线图</text>
<polygon points="18.6,466.7 24.2,472.3 18.6,477.9 13,472.3" fill="#111"/>
<text x="0" y="0" transform="translate(28.88,473) scale(1.1214,1)" font-size="14" font-family="'Liberation Sans', sans-serif" fill="#111" stroke="#111" stroke-width="0.2" dominant-baseline="central">96</text>
<text x="0" y="0" transform="translate(52.71,473) scale(0.8875,1)" font-size="17" font-family="'Liberation Sans', sans-serif" fill="#111" stroke="#111" stroke-width="0.2" dominant-baseline="central">×</text>
<text x="0" y="0" transform="translate(67.5,473) scale(1.1000,1)" font-size="14" font-family="'Liberation Sans', sans-serif" fill="#111" stroke="#111" stroke-width="0.2" dominant-baseline="central">96mm</text>
<text x="114.5" y="473.2" font-size="14.5" text-anchor="start" font-family="'Liberation Sans', sans-serif" fill="#111" font-weight="normal" dominant-baseline="central" stroke="#111" stroke-width="0.35" textLength="101.7" lengthAdjust="spacing">仪表端子接线图</text>
<path d="M11,483.7 H690.3" stroke="#3a3a3a" stroke-width="1.4" fill="none" stroke-dasharray="5 9.3 1.2 9" stroke-dashoffset="0"/>
<path d="M11,483.7 V917.2" stroke="#3a3a3a" stroke-width="1.4" fill="none" stroke-dasharray="5 9.3 1.2 9" stroke-dashoffset="10.9"/>
<path d="M690.3,483.7 V917.2" stroke="#3a3a3a" stroke-width="1.4" fill="none" stroke-dasharray="5 9.3 1.2 9" stroke-dashoffset="16.6"/>
<path d="M11,917.2 H690.3" stroke="#3a3a3a" stroke-width="1.4" fill="none" stroke-dasharray="5 9.3 1.2 9" stroke-dashoffset="2.4"/>
<rect x="33" y="502.1" width="124.7" height="397.2" stroke="#2b2b2b" stroke-width="1.5" fill="none"/>
<rect x="90.8" y="515.95" width="28" height="33.1" fill="#fff" stroke="none"/>
<line x1="90.9" y1="516.95" x2="90.9" y2="550.05" stroke="#555" stroke-width="1" />
<line x1="118.7" y1="516.95" x2="118.7" y2="550.05" stroke="#8a8a8a" stroke-width="1.3" />
<line x1="104.8" y1="516.95" x2="104.8" y2="550.05" stroke="#3c3c3c" stroke-width="1" />
<rect x="89.6" y="515.9" width="30.4" height="2.6" rx="1.2" fill="#cfcfcf" stroke="#505050" stroke-width="0.8"/>
<rect x="89.6" y="532.45" width="30.4" height="2.6" rx="1.2" fill="#cfcfcf" stroke="#505050" stroke-width="0.8"/>
<rect x="89.6" y="549" width="30.4" height="2.6" rx="1.2" fill="#cfcfcf" stroke="#505050" stroke-width="0.8"/>
<g transform="translate(111.95,525.52)"><circle r="5" fill="none" stroke="#3a3a3a" stroke-width="0.9"/><path d="M0.2,0.2 C0.4,-1.8 0.2,-3.2 -1.8,-4.5 M-0.2,0.2 C1.8,0.4 3.2,0.2 4.5,-1.8 M-0.2,-0.2 C-0.4,1.8 -0.2,3.2 1.8,4.5 M0.2,-0.2 C-1.8,-0.4 -3.2,-0.2 -4.5,1.8" transform="scale(1)" fill="none" stroke="#3a3a3a" stroke-width="1.1" stroke-linecap="round"/></g>
<text x="97.65" y="525.02" font-size="11.4" text-anchor="middle" font-family="'Liberation Serif', serif" fill="#222" font-weight="normal" dominant-baseline="central" stroke="#222" stroke-width="0.12">1</text>
<g transform="translate(111.95,542.07)"><circle r="5" fill="none" stroke="#3a3a3a" stroke-width="0.9"/><path d="M0.2,0.2 C0.4,-1.8 0.2,-3.2 -1.8,-4.5 M-0.2,0.2 C1.8,0.4 3.2,0.2 4.5,-1.8 M-0.2,-0.2 C-0.4,1.8 -0.2,3.2 1.8,4.5 M0.2,-0.2 C-1.8,-0.4 -3.2,-0.2 -4.5,1.8" transform="scale(1)" fill="none" stroke="#3a3a3a" stroke-width="1.1" stroke-linecap="round"/></g>
<text x="97.65" y="541.57" font-size="11.4" text-anchor="middle" font-family="'Liberation Serif', serif" fill="#222" font-weight="normal" dominant-baseline="central" stroke="#222" stroke-width="0.12">2</text>
<circle cx="65" cy="532.8" r="1.5" fill="#fff" stroke="#333" stroke-width="0.8"/>
<line x1="66.2" y1="531.8" x2="74.5" y2="524.9" stroke="#333" stroke-width="0.9" />
<line x1="66.2" y1="533.8" x2="74.5" y2="542.2" stroke="#333" stroke-width="0.9" />
<circle cx="75.7" cy="524.3" r="1.5" fill="#fff" stroke="#333" stroke-width="0.8"/>
<circle cx="75.7" cy="542.8" r="1.5" fill="#fff" stroke="#333" stroke-width="0.8"/>
<line x1="77.2" y1="524.3" x2="84.3" y2="524.3" stroke="#333" stroke-width="0.9" />
<line x1="77.2" y1="542.8" x2="84.3" y2="542.8" stroke="#333" stroke-width="0.9" />
<line x1="78.8" y1="520.8" x2="81.8" y2="520.8" stroke="#333" stroke-width="0.8" />
<line x1="80.3" y1="519.3" x2="80.3" y2="522.3" stroke="#333" stroke-width="0.8" />
<line x1="78.3" y1="546.3" x2="82.3" y2="546.3" stroke="#333" stroke-width="0.9" />
<text x="96" y="560.4" font-size="8.84" text-anchor="middle" font-family="'Liberation Serif', serif" fill="#1e1e1e" font-weight="normal" dominant-baseline="central"  textLength="59" lengthAdjust="spacing" stroke="#1e1e1e" stroke-width="0.08">mV/TC热电偶</text>
<rect x="90.8" y="578.65" width="28" height="32.9" fill="#fff" stroke="none"/>
<line x1="90.9" y1="579.65" x2="90.9" y2="612.55" stroke="#555" stroke-width="1" />
<line x1="118.7" y1="579.65" x2="118.7" y2="612.55" stroke="#8a8a8a" stroke-width="1.3" />
<line x1="104.8" y1="579.65" x2="104.8" y2="612.55" stroke="#3c3c3c" stroke-width="1" />
<rect x="89.6" y="578.6" width="30.4" height="2.6" rx="1.2" fill="#cfcfcf" stroke="#505050" stroke-width="0.8"/>
<rect x="89.6" y="595.05" width="30.4" height="2.6" rx="1.2" fill="#cfcfcf" stroke="#505050" stroke-width="0.8"/>
<rect x="89.6" y="611.5" width="30.4" height="2.6" rx="1.2" fill="#cfcfcf" stroke="#505050" stroke-width="0.8"/>
<g transform="translate(111.95,588.17)"><circle r="5" fill="none" stroke="#3a3a3a" stroke-width="0.9"/><path d="M0.2,0.2 C0.4,-1.8 0.2,-3.2 -1.8,-4.5 M-0.2,0.2 C1.8,0.4 3.2,0.2 4.5,-1.8 M-0.2,-0.2 C-0.4,1.8 -0.2,3.2 1.8,4.5 M0.2,-0.2 C-1.8,-0.4 -3.2,-0.2 -4.5,1.8" transform="scale(1)" fill="none" stroke="#3a3a3a" stroke-width="1.1" stroke-linecap="round"/></g>
<text x="97.65" y="587.67" font-size="11.4" text-anchor="middle" font-family="'Liberation Serif', serif" fill="#222" font-weight="normal" dominant-baseline="central" stroke="#222" stroke-width="0.12">1</text>
<g transform="translate(111.95,604.62)"><circle r="5" fill="none" stroke="#3a3a3a" stroke-width="0.9"/><path d="M0.2,0.2 C0.4,-1.8 0.2,-3.2 -1.8,-4.5 M-0.2,0.2 C1.8,0.4 3.2,0.2 4.5,-1.8 M-0.2,-0.2 C-0.4,1.8 -0.2,3.2 1.8,4.5 M0.2,-0.2 C-1.8,-0.4 -3.2,-0.2 -4.5,1.8" transform="scale(1)" fill="none" stroke="#3a3a3a" stroke-width="1.1" stroke-linecap="round"/></g>
<text x="97.65" y="604.12" font-size="11.4" text-anchor="middle" font-family="'Liberation Serif', serif" fill="#222" font-weight="normal" dominant-baseline="central" stroke="#222" stroke-width="0.12">4</text>
<circle cx="75.7" cy="586" r="1.6" fill="#fff" stroke="#333" stroke-width="0.8"/>
<line x1="77.3" y1="586" x2="84.3" y2="586" stroke="#333" stroke-width="0.9" />
<line x1="78.5" y1="582.5" x2="82.5" y2="582.5" stroke="#333" stroke-width="0.9" />
<circle cx="75.7" cy="604.6" r="1.6" fill="#fff" stroke="#333" stroke-width="0.8"/>
<line x1="77.3" y1="604.6" x2="84.3" y2="604.6" stroke="#333" stroke-width="0.9" />
<line x1="79" y1="608.4" x2="82" y2="608.4" stroke="#333" stroke-width="0.8" />
<line x1="80.5" y1="606.9" x2="80.5" y2="609.9" stroke="#333" stroke-width="0.8" />
<text x="98.2" y="622.1" font-size="8.65" text-anchor="middle" font-family="'Liberation Serif', serif" fill="#1e1e1e" font-weight="normal" dominant-baseline="central"  textLength="24.5" lengthAdjust="spacing" stroke="#1e1e1e" stroke-width="0.08">V电压</text>
<rect x="90.8" y="641.95" width="28" height="33.2" fill="#fff" stroke="none"/>
<line x1="90.9" y1="642.95" x2="90.9" y2="676.15" stroke="#555" stroke-width="1" />
<line x1="118.7" y1="642.95" x2="118.7" y2="676.15" stroke="#8a8a8a" stroke-width="1.3" />
<line x1="104.8" y1="642.95" x2="104.8" y2="676.15" stroke="#3c3c3c" stroke-width="1" />
<rect x="89.6" y="641.9" width="30.4" height="2.6" rx="1.2" fill="#cfcfcf" stroke="#505050" stroke-width="0.8"/>
<rect x="89.6" y="658.5" width="30.4" height="2.6" rx="1.2" fill="#cfcfcf" stroke="#505050" stroke-width="0.8"/>
<rect x="89.6" y="675.1" width="30.4" height="2.6" rx="1.2" fill="#cfcfcf" stroke="#505050" stroke-width="0.8"/>
<g transform="translate(111.95,651.55)"><circle r="5" fill="none" stroke="#3a3a3a" stroke-width="0.9"/><path d="M0.2,0.2 C0.4,-1.8 0.2,-3.2 -1.8,-4.5 M-0.2,0.2 C1.8,0.4 3.2,0.2 4.5,-1.8 M-0.2,-0.2 C-0.4,1.8 -0.2,3.2 1.8,4.5 M0.2,-0.2 C-1.8,-0.4 -3.2,-0.2 -4.5,1.8" transform="scale(1)" fill="none" stroke="#3a3a3a" stroke-width="1.1" stroke-linecap="round"/></g>
<text x="97.65" y="651.05" font-size="11.4" text-anchor="middle" font-family="'Liberation Serif', serif" fill="#222" font-weight="normal" dominant-baseline="central" stroke="#222" stroke-width="0.12">1</text>
<g transform="translate(111.95,668.15)"><circle r="5" fill="none" stroke="#3a3a3a" stroke-width="0.9"/><path d="M0.2,0.2 C0.4,-1.8 0.2,-3.2 -1.8,-4.5 M-0.2,0.2 C1.8,0.4 3.2,0.2 4.5,-1.8 M-0.2,-0.2 C-0.4,1.8 -0.2,3.2 1.8,4.5 M0.2,-0.2 C-1.8,-0.4 -3.2,-0.2 -4.5,1.8" transform="scale(1)" fill="none" stroke="#3a3a3a" stroke-width="1.1" stroke-linecap="round"/></g>
<text x="97.65" y="667.65" font-size="11.4" text-anchor="middle" font-family="'Liberation Serif', serif" fill="#222" font-weight="normal" dominant-baseline="central" stroke="#222" stroke-width="0.12">2</text>
<circle cx="75.7" cy="650" r="1.6" fill="#fff" stroke="#333" stroke-width="0.8"/>
<line x1="77.3" y1="650" x2="84.3" y2="650" stroke="#333" stroke-width="0.9" />
<line x1="78.5" y1="646.5" x2="82.5" y2="646.5" stroke="#333" stroke-width="0.9" />
<circle cx="75.7" cy="669" r="1.6" fill="#fff" stroke="#333" stroke-width="0.8"/>
<line x1="77.3" y1="669" x2="84.3" y2="669" stroke="#333" stroke-width="0.9" />
<line x1="79" y1="672.8" x2="82" y2="672.8" stroke="#333" stroke-width="0.8" />
<line x1="80.5" y1="671.3" x2="80.5" y2="674.3" stroke="#333" stroke-width="0.8" />
<text x="101.8" y="686.4" font-size="8.65" text-anchor="middle" font-family="'Liberation Serif', serif" fill="#1e1e1e" font-weight="normal" dominant-baseline="central"  textLength="31.5" lengthAdjust="spacing" stroke="#1e1e1e" stroke-width="0.08">mA电流</text>
<rect x="90.8" y="703.45" width="28" height="49.2" fill="#fff" stroke="none"/>
<line x1="90.9" y1="704.45" x2="90.9" y2="753.65" stroke="#555" stroke-width="1" />
<line x1="118.7" y1="704.45" x2="118.7" y2="753.65" stroke="#8a8a8a" stroke-width="1.3" />
<line x1="104.8" y1="704.45" x2="104.8" y2="753.65" stroke="#3c3c3c" stroke-width="1" />
<rect x="89.6" y="703.4" width="30.4" height="2.6" rx="1.2" fill="#cfcfcf" stroke="#505050" stroke-width="0.8"/>
<rect x="89.6" y="719.8" width="30.4" height="2.6" rx="1.2" fill="#cfcfcf" stroke="#505050" stroke-width="0.8"/>
<rect x="89.6" y="736.2" width="30.4" height="2.6" rx="1.2" fill="#cfcfcf" stroke="#505050" stroke-width="0.8"/>
<rect x="89.6" y="752.6" width="30.4" height="2.6" rx="1.2" fill="#cfcfcf" stroke="#505050" stroke-width="0.8"/>
<g transform="translate(111.95,712.95)"><circle r="5" fill="none" stroke="#3a3a3a" stroke-width="0.9"/><path d="M0.2,0.2 C0.4,-1.8 0.2,-3.2 -1.8,-4.5 M-0.2,0.2 C1.8,0.4 3.2,0.2 4.5,-1.8 M-0.2,-0.2 C-0.4,1.8 -0.2,3.2 1.8,4.5 M0.2,-0.2 C-1.8,-0.4 -3.2,-0.2 -4.5,1.8" transform="scale(1)" fill="none" stroke="#3a3a3a" stroke-width="1.1" stroke-linecap="round"/></g>
<text x="97.65" y="712.45" font-size="11.4" text-anchor="middle" font-family="'Liberation Serif', serif" fill="#222" font-weight="normal" dominant-baseline="central" stroke="#222" stroke-width="0.12">1</text>
<g transform="translate(111.95,729.35)"><circle r="5" fill="none" stroke="#3a3a3a" stroke-width="0.9"/><path d="M0.2,0.2 C0.4,-1.8 0.2,-3.2 -1.8,-4.5 M-0.2,0.2 C1.8,0.4 3.2,0.2 4.5,-1.8 M-0.2,-0.2 C-0.4,1.8 -0.2,3.2 1.8,4.5 M0.2,-0.2 C-1.8,-0.4 -3.2,-0.2 -4.5,1.8" transform="scale(1)" fill="none" stroke="#3a3a3a" stroke-width="1.1" stroke-linecap="round"/></g>
<text x="97.65" y="728.85" font-size="11.4" text-anchor="middle" font-family="'Liberation Serif', serif" fill="#222" font-weight="normal" dominant-baseline="central" stroke="#222" stroke-width="0.12">2</text>
<g transform="translate(111.95,745.75)"><circle r="5" fill="none" stroke="#3a3a3a" stroke-width="0.9"/><path d="M0.2,0.2 C0.4,-1.8 0.2,-3.2 -1.8,-4.5 M-0.2,0.2 C1.8,0.4 3.2,0.2 4.5,-1.8 M-0.2,-0.2 C-0.4,1.8 -0.2,3.2 1.8,4.5 M0.2,-0.2 C-1.8,-0.4 -3.2,-0.2 -4.5,1.8" transform="scale(1)" fill="none" stroke="#3a3a3a" stroke-width="1.1" stroke-linecap="round"/></g>
<text x="97.65" y="745.25" font-size="11.4" text-anchor="middle" font-family="'Liberation Serif', serif" fill="#222" font-weight="normal" dominant-baseline="central" stroke="#222" stroke-width="0.12">3</text>
<polyline points="87.9,709.7 74.3,709.7 74.3,721.8" stroke="#444" stroke-width="0.9" fill="none" stroke-linejoin="miter" />
<polyline points="74.3,709.7 83.6,729 87.9,729" stroke="#444" stroke-width="0.9" fill="none" stroke-linejoin="miter" />
<rect x="72.1" y="721.8" width="5" height="12.9" fill="#fff" stroke="#444" stroke-width="0.9"/>
<polyline points="74.3,734.7 74.3,745.7 87.9,745.7" stroke="#444" stroke-width="0.9" fill="none" stroke-linejoin="miter" />
<text x="99" y="763.3" font-size="8.84" text-anchor="middle" font-family="'Liberation Serif', serif" fill="#1e1e1e" font-weight="normal" dominant-baseline="central"  textLength="48.8" lengthAdjust="spacing" stroke="#1e1e1e" stroke-width="0.08">RTD热电阻</text>
<rect x="90.8" y="784.95" width="28" height="49.59" fill="#fff" stroke="none"/>
<line x1="90.9" y1="785.95" x2="90.9" y2="835.54" stroke="#555" stroke-width="1" />
<line x1="118.7" y1="785.95" x2="118.7" y2="835.54" stroke="#8a8a8a" stroke-width="1.3" />
<line x1="104.8" y1="785.95" x2="104.8" y2="835.54" stroke="#3c3c3c" stroke-width="1" />
<rect x="89.6" y="784.9" width="30.4" height="2.6" rx="1.2" fill="#cfcfcf" stroke="#505050" stroke-width="0.8"/>
<rect x="89.6" y="801.43" width="30.4" height="2.6" rx="1.2" fill="#cfcfcf" stroke="#505050" stroke-width="0.8"/>
<rect x="89.6" y="817.96" width="30.4" height="2.6" rx="1.2" fill="#cfcfcf" stroke="#505050" stroke-width="0.8"/>
<rect x="89.6" y="834.49" width="30.4" height="2.6" rx="1.2" fill="#cfcfcf" stroke="#505050" stroke-width="0.8"/>
<g transform="translate(111.95,794.51)"><circle r="5" fill="none" stroke="#3a3a3a" stroke-width="0.9"/><path d="M0.2,0.2 C0.4,-1.8 0.2,-3.2 -1.8,-4.5 M-0.2,0.2 C1.8,0.4 3.2,0.2 4.5,-1.8 M-0.2,-0.2 C-0.4,1.8 -0.2,3.2 1.8,4.5 M0.2,-0.2 C-1.8,-0.4 -3.2,-0.2 -4.5,1.8" transform="scale(1)" fill="none" stroke="#3a3a3a" stroke-width="1.1" stroke-linecap="round"/></g>
<text x="97.65" y="794.01" font-size="11.4" text-anchor="middle" font-family="'Liberation Serif', serif" fill="#222" font-weight="normal" dominant-baseline="central" stroke="#222" stroke-width="0.12">1</text>
<g transform="translate(111.95,811.04)"><circle r="5" fill="none" stroke="#3a3a3a" stroke-width="0.9"/><path d="M0.2,0.2 C0.4,-1.8 0.2,-3.2 -1.8,-4.5 M-0.2,0.2 C1.8,0.4 3.2,0.2 4.5,-1.8 M-0.2,-0.2 C-0.4,1.8 -0.2,3.2 1.8,4.5 M0.2,-0.2 C-1.8,-0.4 -3.2,-0.2 -4.5,1.8" transform="scale(1)" fill="none" stroke="#3a3a3a" stroke-width="1.1" stroke-linecap="round"/></g>
<text x="97.65" y="810.54" font-size="11.4" text-anchor="middle" font-family="'Liberation Serif', serif" fill="#222" font-weight="normal" dominant-baseline="central" stroke="#222" stroke-width="0.12">2</text>
<g transform="translate(111.95,827.57)"><circle r="5" fill="none" stroke="#3a3a3a" stroke-width="0.9"/><path d="M0.2,0.2 C0.4,-1.8 0.2,-3.2 -1.8,-4.5 M-0.2,0.2 C1.8,0.4 3.2,0.2 4.5,-1.8 M-0.2,-0.2 C-0.4,1.8 -0.2,3.2 1.8,4.5 M0.2,-0.2 C-1.8,-0.4 -3.2,-0.2 -4.5,1.8" transform="scale(1)" fill="none" stroke="#3a3a3a" stroke-width="1.1" stroke-linecap="round"/></g>
<text x="97.65" y="827.07" font-size="11.4" text-anchor="middle" font-family="'Liberation Serif', serif" fill="#222" font-weight="normal" dominant-baseline="central" stroke="#222" stroke-width="0.12">3</text>
<rect x="66.4" y="799.5" width="5" height="20.4" fill="#fff" stroke="#444" stroke-width="0.9"/>
<polyline points="68.9,799.5 68.9,792.4 88.5,792.4" stroke="#555" stroke-width="0.9" fill="none" stroke-linejoin="miter" />
<line x1="71.4" y1="811.5" x2="88.5" y2="811.5" stroke="#555" stroke-width="0.9" />
<polyline points="68.9,819.9 68.9,827.6 88.5,827.6" stroke="#555" stroke-width="0.9" fill="none" stroke-linejoin="miter" />
<rect x="78.6" y="791.3" width="4.3" height="2.2" fill="#999" stroke="#555" stroke-width="0.5"/>
<rect x="78.6" y="810.4" width="4.3" height="2.2" fill="#999" stroke="#555" stroke-width="0.5"/>
<rect x="78.6" y="826.5" width="4.3" height="2.2" fill="#999" stroke="#555" stroke-width="0.5"/>
<text x="94.5" y="844.4" font-size="8.56" text-anchor="middle" font-family="'Liberation Serif', serif" fill="#1e1e1e" font-weight="normal" dominant-baseline="central"  textLength="56" lengthAdjust="spacing" stroke="#1e1e1e" stroke-width="0.08">远传压力电阻</text>
<text x="50.6" y="871.9" font-size="13.6" text-anchor="start" font-family="'Liberation Serif', serif" fill="#1e1e1e" font-weight="normal" dominant-baseline="central"  textLength="90.5" lengthAdjust="spacing" stroke="#1e1e1e" stroke-width="0.2">PV控制输入信</text>
<text x="50.6" y="888.1" font-size="13.6" text-anchor="start" font-family="'Liberation Serif', serif" fill="#1e1e1e" font-weight="normal" dominant-baseline="central"  textLength="57.6" lengthAdjust="spacing" stroke="#1e1e1e" stroke-width="0.2">号接线图</text>
<rect x="188" y="502" width="487.5" height="89.4" stroke="#2b2b2b" stroke-width="1.5" fill="none"/>
<line x1="431.9" y1="502" x2="431.9" y2="591.4" stroke="#2b2b2b" stroke-width="1.5" />
<rect x="256.6" y="513.85" width="27.6" height="33.2" fill="#fff" stroke="none"/>
<line x1="256.7" y1="514.85" x2="256.7" y2="548.05" stroke="#555" stroke-width="1" />
<line x1="284.1" y1="514.85" x2="284.1" y2="548.05" stroke="#8a8a8a" stroke-width="1.3" />
<line x1="270.4" y1="514.85" x2="270.4" y2="548.05" stroke="#3c3c3c" stroke-width="1" />
<rect x="255.4" y="513.8" width="30" height="2.6" rx="1.2" fill="#cfcfcf" stroke="#505050" stroke-width="0.8"/>
<rect x="255.4" y="530.4" width="30" height="2.6" rx="1.2" fill="#cfcfcf" stroke="#505050" stroke-width="0.8"/>
<rect x="255.4" y="547" width="30" height="2.6" rx="1.2" fill="#cfcfcf" stroke="#505050" stroke-width="0.8"/>
<g transform="translate(277.45,523.45)"><circle r="5" fill="none" stroke="#3a3a3a" stroke-width="0.9"/><path d="M0.2,0.2 C0.4,-1.8 0.2,-3.2 -1.8,-4.5 M-0.2,0.2 C1.8,0.4 3.2,0.2 4.5,-1.8 M-0.2,-0.2 C-0.4,1.8 -0.2,3.2 1.8,4.5 M0.2,-0.2 C-1.8,-0.4 -3.2,-0.2 -4.5,1.8" transform="scale(1)" fill="none" stroke="#3a3a3a" stroke-width="1.1" stroke-linecap="round"/></g>
<text x="263.35" y="522.95" font-size="11.4" text-anchor="middle" font-family="'Liberation Serif', serif" fill="#222" font-weight="normal" dominant-baseline="central" stroke="#222" stroke-width="0.12">5</text>
<g transform="translate(277.45,540.05)"><circle r="5" fill="none" stroke="#3a3a3a" stroke-width="0.9"/><path d="M0.2,0.2 C0.4,-1.8 0.2,-3.2 -1.8,-4.5 M-0.2,0.2 C1.8,0.4 3.2,0.2 4.5,-1.8 M-0.2,-0.2 C-0.4,1.8 -0.2,3.2 1.8,4.5 M0.2,-0.2 C-1.8,-0.4 -3.2,-0.2 -4.5,1.8" transform="scale(1)" fill="none" stroke="#3a3a3a" stroke-width="1.1" stroke-linecap="round"/></g>
<text x="263.35" y="539.55" font-size="11.4" text-anchor="middle" font-family="'Liberation Serif', serif" fill="#222" font-weight="normal" dominant-baseline="central" stroke="#222" stroke-width="0.12">6</text>
<circle cx="241" cy="521.4" r="1.6" fill="#fff" stroke="#333" stroke-width="0.8"/>
<line x1="242.6" y1="521.4" x2="251" y2="521.4" stroke="#333" stroke-width="0.9" />
<line x1="244.3" y1="517.6" x2="247.3" y2="517.6" stroke="#333" stroke-width="0.8" />
<line x1="245.8" y1="516.1" x2="245.8" y2="519.1" stroke="#333" stroke-width="0.8" />
<circle cx="241" cy="540.6" r="1.6" fill="#fff" stroke="#333" stroke-width="0.8"/>
<line x1="242.6" y1="540.6" x2="251" y2="540.6" stroke="#333" stroke-width="0.9" />
<line x1="243.8" y1="544.1" x2="247.8" y2="544.1" stroke="#333" stroke-width="0.9" />
<text x="268" y="559" font-size="8.65" text-anchor="middle" font-family="'Liberation Serif', serif" fill="#1e1e1e" font-weight="normal" dominant-baseline="central"  textLength="31.6" lengthAdjust="spacing" stroke="#1e1e1e" stroke-width="0.08">mA电流</text>
<rect x="331.2" y="513.85" width="27.6" height="33.2" fill="#fff" stroke="none"/>
<line x1="331.3" y1="514.85" x2="331.3" y2="548.05" stroke="#555" stroke-width="1" />
<line x1="358.7" y1="514.85" x2="358.7" y2="548.05" stroke="#8a8a8a" stroke-width="1.3" />
<line x1="345" y1="514.85" x2="345" y2="548.05" stroke="#3c3c3c" stroke-width="1" />
<rect x="330" y="513.8" width="30" height="2.6" rx="1.2" fill="#cfcfcf" stroke="#505050" stroke-width="0.8"/>
<rect x="330" y="530.4" width="30" height="2.6" rx="1.2" fill="#cfcfcf" stroke="#505050" stroke-width="0.8"/>
<rect x="330" y="547" width="30" height="2.6" rx="1.2" fill="#cfcfcf" stroke="#505050" stroke-width="0.8"/>
<g transform="translate(352.05,523.45)"><circle r="5" fill="none" stroke="#3a3a3a" stroke-width="0.9"/><path d="M0.2,0.2 C0.4,-1.8 0.2,-3.2 -1.8,-4.5 M-0.2,0.2 C1.8,0.4 3.2,0.2 4.5,-1.8 M-0.2,-0.2 C-0.4,1.8 -0.2,3.2 1.8,4.5 M0.2,-0.2 C-1.8,-0.4 -3.2,-0.2 -4.5,1.8" transform="scale(1)" fill="none" stroke="#3a3a3a" stroke-width="1.1" stroke-linecap="round"/></g>
<text x="337.95" y="522.95" font-size="11.4" text-anchor="middle" font-family="'Liberation Serif', serif" fill="#222" font-weight="normal" dominant-baseline="central" stroke="#222" stroke-width="0.12">5</text>
<g transform="translate(352.05,540.05)"><circle r="5" fill="none" stroke="#3a3a3a" stroke-width="0.9"/><path d="M0.2,0.2 C0.4,-1.8 0.2,-3.2 -1.8,-4.5 M-0.2,0.2 C1.8,0.4 3.2,0.2 4.5,-1.8 M-0.2,-0.2 C-0.4,1.8 -0.2,3.2 1.8,4.5 M0.2,-0.2 C-1.8,-0.4 -3.2,-0.2 -4.5,1.8" transform="scale(1)" fill="none" stroke="#3a3a3a" stroke-width="1.1" stroke-linecap="round"/></g>
<text x="337.95" y="539.55" font-size="11.4" text-anchor="middle" font-family="'Liberation Serif', serif" fill="#222" font-weight="normal" dominant-baseline="central" stroke="#222" stroke-width="0.12">8</text>
<circle cx="315.7" cy="521.4" r="1.6" fill="#fff" stroke="#333" stroke-width="0.8"/>
<line x1="317.3" y1="521.4" x2="325.7" y2="521.4" stroke="#333" stroke-width="0.9" />
<line x1="319" y1="517.6" x2="322" y2="517.6" stroke="#333" stroke-width="0.8" />
<line x1="320.5" y1="516.1" x2="320.5" y2="519.1" stroke="#333" stroke-width="0.8" />
<circle cx="315.7" cy="540.6" r="1.6" fill="#fff" stroke="#333" stroke-width="0.8"/>
<line x1="317.3" y1="540.6" x2="325.7" y2="540.6" stroke="#333" stroke-width="0.9" />
<line x1="318.5" y1="544.1" x2="322.5" y2="544.1" stroke="#333" stroke-width="0.9" />
<text x="339.7" y="559" font-size="8.65" text-anchor="middle" font-family="'Liberation Serif', serif" fill="#1e1e1e" font-weight="normal" dominant-baseline="central"  textLength="25" lengthAdjust="spacing" stroke="#1e1e1e" stroke-width="0.08">V电压</text>
<text x="314" y="579" font-size="13" text-anchor="middle" font-family="'Liberation Serif', serif" fill="#1e1e1e" font-weight="normal" dominant-baseline="central"  textLength="155" lengthAdjust="spacing" stroke="#1e1e1e" stroke-width="0.2">SV阀位/外给定输入接线图</text>
<rect x="500.8" y="526.65" width="27.3" height="33.4" fill="#fff" stroke="none"/>
<line x1="500.9" y1="527.65" x2="500.9" y2="561.05" stroke="#555" stroke-width="1" />
<line x1="528" y1="527.65" x2="528" y2="561.05" stroke="#8a8a8a" stroke-width="1.3" />
<line x1="514.45" y1="527.65" x2="514.45" y2="561.05" stroke="#3c3c3c" stroke-width="1" />
<rect x="499.6" y="526.6" width="29.7" height="2.6" rx="1.2" fill="#cfcfcf" stroke="#505050" stroke-width="0.8"/>
<rect x="499.6" y="543.3" width="29.7" height="2.6" rx="1.2" fill="#cfcfcf" stroke="#505050" stroke-width="0.8"/>
<rect x="499.6" y="560" width="29.7" height="2.6" rx="1.2" fill="#cfcfcf" stroke="#505050" stroke-width="0.8"/>
<g transform="translate(521.43,536.3)"><circle r="5" fill="none" stroke="#3a3a3a" stroke-width="0.9"/><path d="M0.2,0.2 C0.4,-1.8 0.2,-3.2 -1.8,-4.5 M-0.2,0.2 C1.8,0.4 3.2,0.2 4.5,-1.8 M-0.2,-0.2 C-0.4,1.8 -0.2,3.2 1.8,4.5 M0.2,-0.2 C-1.8,-0.4 -3.2,-0.2 -4.5,1.8" transform="scale(1)" fill="none" stroke="#3a3a3a" stroke-width="1.1" stroke-linecap="round"/></g>
<text x="507.48" y="535.8" font-size="11.4" text-anchor="middle" font-family="'Liberation Serif', serif" fill="#222" font-weight="normal" dominant-baseline="central" stroke="#222" stroke-width="0.12">17</text>
<g transform="translate(521.43,553)"><circle r="5" fill="none" stroke="#3a3a3a" stroke-width="0.9"/><path d="M0.2,0.2 C0.4,-1.8 0.2,-3.2 -1.8,-4.5 M-0.2,0.2 C1.8,0.4 3.2,0.2 4.5,-1.8 M-0.2,-0.2 C-0.4,1.8 -0.2,3.2 1.8,4.5 M0.2,-0.2 C-1.8,-0.4 -3.2,-0.2 -4.5,1.8" transform="scale(1)" fill="none" stroke="#3a3a3a" stroke-width="1.1" stroke-linecap="round"/></g>
<text x="507.48" y="552.5" font-size="11.4" text-anchor="middle" font-family="'Liberation Serif', serif" fill="#222" font-weight="normal" dominant-baseline="central" stroke="#222" stroke-width="0.12">18</text>
<text x="514.9" y="515.5" font-size="7.81" text-anchor="middle" font-family="'Liberation Serif', serif" fill="#1e1e1e" font-weight="normal" dominant-baseline="central"  textLength="34.4" lengthAdjust="spacing" stroke="#1e1e1e" stroke-width="0.08">第一报警</text>
<text x="482.3" y="528.6" font-size="12" text-anchor="middle" font-family="'Liberation Serif', serif" fill="#1e1e1e" font-weight="normal" dominant-baseline="central"  textLength="19.4" lengthAdjust="spacingAndGlyphs">AL1</text>
<polyline points="494.3,535.4 479.4,535.4 479.4,553 482.4,553" stroke="#333" stroke-width="0.9" fill="none" stroke-linejoin="miter" />
<circle cx="483.9" cy="553" r="1.4" fill="#fff" stroke="#333" stroke-width="0.8"/>
<circle cx="490.8" cy="553" r="1.4" fill="#fff" stroke="#333" stroke-width="0.8"/>
<path d="M484.4,551.4 Q486.85,549 490.3,551.4" stroke="#333" stroke-width="0.8" fill="none"/>
<line x1="492.3" y1="553" x2="494.3" y2="553" stroke="#333" stroke-width="0.8" />
<text x="486.3" y="545.3" font-size="6.5" text-anchor="middle" font-family="'Liberation Serif', serif" fill="#333" font-weight="normal" dominant-baseline="central" >ON</text>
<rect x="584.9" y="526.65" width="27.3" height="33.4" fill="#fff" stroke="none"/>
<line x1="585" y1="527.65" x2="585" y2="561.05" stroke="#555" stroke-width="1" />
<line x1="612.1" y1="527.65" x2="612.1" y2="561.05" stroke="#8a8a8a" stroke-width="1.3" />
<line x1="598.55" y1="527.65" x2="598.55" y2="561.05" stroke="#3c3c3c" stroke-width="1" />
<rect x="583.7" y="526.6" width="29.7" height="2.6" rx="1.2" fill="#cfcfcf" stroke="#505050" stroke-width="0.8"/>
<rect x="583.7" y="543.3" width="29.7" height="2.6" rx="1.2" fill="#cfcfcf" stroke="#505050" stroke-width="0.8"/>
<rect x="583.7" y="560" width="29.7" height="2.6" rx="1.2" fill="#cfcfcf" stroke="#505050" stroke-width="0.8"/>
<g transform="translate(605.52,536.3)"><circle r="5" fill="none" stroke="#3a3a3a" stroke-width="0.9"/><path d="M0.2,0.2 C0.4,-1.8 0.2,-3.2 -1.8,-4.5 M-0.2,0.2 C1.8,0.4 3.2,0.2 4.5,-1.8 M-0.2,-0.2 C-0.4,1.8 -0.2,3.2 1.8,4.5 M0.2,-0.2 C-1.8,-0.4 -3.2,-0.2 -4.5,1.8" transform="scale(1)" fill="none" stroke="#3a3a3a" stroke-width="1.1" stroke-linecap="round"/></g>
<text x="591.58" y="535.8" font-size="11.4" text-anchor="middle" font-family="'Liberation Serif', serif" fill="#222" font-weight="normal" dominant-baseline="central" stroke="#222" stroke-width="0.12">19</text>
<g transform="translate(605.52,553)"><circle r="5" fill="none" stroke="#3a3a3a" stroke-width="0.9"/><path d="M0.2,0.2 C0.4,-1.8 0.2,-3.2 -1.8,-4.5 M-0.2,0.2 C1.8,0.4 3.2,0.2 4.5,-1.8 M-0.2,-0.2 C-0.4,1.8 -0.2,3.2 1.8,4.5 M0.2,-0.2 C-1.8,-0.4 -3.2,-0.2 -4.5,1.8" transform="scale(1)" fill="none" stroke="#3a3a3a" stroke-width="1.1" stroke-linecap="round"/></g>
<text x="591.58" y="552.5" font-size="11.4" text-anchor="middle" font-family="'Liberation Serif', serif" fill="#222" font-weight="normal" dominant-baseline="central" stroke="#222" stroke-width="0.12">20</text>
<text x="599" y="515.5" font-size="7.81" text-anchor="middle" font-family="'Liberation Serif', serif" fill="#1e1e1e" font-weight="normal" dominant-baseline="central"  textLength="34.4" lengthAdjust="spacing" stroke="#1e1e1e" stroke-width="0.08">第二报警</text>
<text x="566.4" y="528.6" font-size="12" text-anchor="middle" font-family="'Liberation Serif', serif" fill="#1e1e1e" font-weight="normal" dominant-baseline="central"  textLength="19.4" lengthAdjust="spacingAndGlyphs">AL2</text>
<polyline points="578.4,535.4 563.5,535.4 563.5,553 566.5,553" stroke="#333" stroke-width="0.9" fill="none" stroke-linejoin="miter" />
<circle cx="568" cy="553" r="1.4" fill="#fff" stroke="#333" stroke-width="0.8"/>
<circle cx="574.9" cy="553" r="1.4" fill="#fff" stroke="#333" stroke-width="0.8"/>
<path d="M568.5,551.4 Q570.95,549 574.4,551.4" stroke="#333" stroke-width="0.8" fill="none"/>
<line x1="576.4" y1="553" x2="578.4" y2="553" stroke="#333" stroke-width="0.8" />
<text x="570.4" y="545.3" font-size="6.5" text-anchor="middle" font-family="'Liberation Serif', serif" fill="#333" font-weight="normal" dominant-baseline="central" >ON</text>
<text x="545.5" y="578.2" font-size="13.2" text-anchor="middle" font-family="'Liberation Serif', serif" fill="#1e1e1e" font-weight="normal" dominant-baseline="central"  textLength="102.4" lengthAdjust="spacing" stroke="#1e1e1e" stroke-width="0.2">报警输出接线图</text>
<rect x="258.9" y="624.4" width="184" height="135.1" stroke="#2b2b2b" stroke-width="1.5" fill="none"/>
<rect x="270" y="631.05" width="28.5" height="120.8" fill="#fff" stroke="none"/>
<line x1="270.1" y1="632.05" x2="270.1" y2="752.85" stroke="#555" stroke-width="1" />
<line x1="298.4" y1="632.05" x2="298.4" y2="752.85" stroke="#8a8a8a" stroke-width="1.3" />
<line x1="284.25" y1="632.05" x2="284.25" y2="752.85" stroke="#3c3c3c" stroke-width="1" />
<rect x="268.8" y="631" width="30.9" height="2.6" rx="1.2" fill="#cfcfcf" stroke="#505050" stroke-width="0.8"/>
<rect x="268.8" y="646.1" width="30.9" height="2.6" rx="1.2" fill="#cfcfcf" stroke="#505050" stroke-width="0.8"/>
<rect x="268.8" y="661.2" width="30.9" height="2.6" rx="1.2" fill="#cfcfcf" stroke="#505050" stroke-width="0.8"/>
<rect x="268.8" y="676.3" width="30.9" height="2.6" rx="1.2" fill="#cfcfcf" stroke="#505050" stroke-width="0.8"/>
<rect x="268.8" y="691.4" width="30.9" height="2.6" rx="1.2" fill="#cfcfcf" stroke="#505050" stroke-width="0.8"/>
<rect x="268.8" y="706.5" width="30.9" height="2.6" rx="1.2" fill="#cfcfcf" stroke="#505050" stroke-width="0.8"/>
<rect x="268.8" y="721.6" width="30.9" height="2.6" rx="1.2" fill="#cfcfcf" stroke="#505050" stroke-width="0.8"/>
<rect x="268.8" y="736.7" width="30.9" height="2.6" rx="1.2" fill="#cfcfcf" stroke="#505050" stroke-width="0.8"/>
<rect x="268.8" y="751.8" width="30.9" height="2.6" rx="1.2" fill="#cfcfcf" stroke="#505050" stroke-width="0.8"/>
<g transform="translate(291.52,639.9)"><circle r="5" fill="none" stroke="#3a3a3a" stroke-width="0.9"/><path d="M0.2,0.2 C0.4,-1.8 0.2,-3.2 -1.8,-4.5 M-0.2,0.2 C1.8,0.4 3.2,0.2 4.5,-1.8 M-0.2,-0.2 C-0.4,1.8 -0.2,3.2 1.8,4.5 M0.2,-0.2 C-1.8,-0.4 -3.2,-0.2 -4.5,1.8" transform="scale(1)" fill="none" stroke="#3a3a3a" stroke-width="1.1" stroke-linecap="round"/></g>
<text x="276.98" y="640.3" font-size="11.4" text-anchor="middle" font-family="'Liberation Serif', serif" fill="#222" font-weight="normal" dominant-baseline="central" stroke="#222" stroke-width="0.12">1</text>
<g transform="translate(291.52,655)"><circle r="5" fill="none" stroke="#3a3a3a" stroke-width="0.9"/><path d="M0.2,0.2 C0.4,-1.8 0.2,-3.2 -1.8,-4.5 M-0.2,0.2 C1.8,0.4 3.2,0.2 4.5,-1.8 M-0.2,-0.2 C-0.4,1.8 -0.2,3.2 1.8,4.5 M0.2,-0.2 C-1.8,-0.4 -3.2,-0.2 -4.5,1.8" transform="scale(1)" fill="none" stroke="#3a3a3a" stroke-width="1.1" stroke-linecap="round"/></g>
<text x="276.98" y="655.4" font-size="11.4" text-anchor="middle" font-family="'Liberation Serif', serif" fill="#222" font-weight="normal" dominant-baseline="central" stroke="#222" stroke-width="0.12">2</text>
<g transform="translate(291.52,670.1)"><circle r="5" fill="none" stroke="#3a3a3a" stroke-width="0.9"/><path d="M0.2,0.2 C0.4,-1.8 0.2,-3.2 -1.8,-4.5 M-0.2,0.2 C1.8,0.4 3.2,0.2 4.5,-1.8 M-0.2,-0.2 C-0.4,1.8 -0.2,3.2 1.8,4.5 M0.2,-0.2 C-1.8,-0.4 -3.2,-0.2 -4.5,1.8" transform="scale(1)" fill="none" stroke="#3a3a3a" stroke-width="1.1" stroke-linecap="round"/></g>
<text x="276.98" y="670.5" font-size="11.4" text-anchor="middle" font-family="'Liberation Serif', serif" fill="#222" font-weight="normal" dominant-baseline="central" stroke="#222" stroke-width="0.12">3</text>
<g transform="translate(291.52,685.2)"><circle r="5" fill="none" stroke="#3a3a3a" stroke-width="0.9"/><path d="M0.2,0.2 C0.4,-1.8 0.2,-3.2 -1.8,-4.5 M-0.2,0.2 C1.8,0.4 3.2,0.2 4.5,-1.8 M-0.2,-0.2 C-0.4,1.8 -0.2,3.2 1.8,4.5 M0.2,-0.2 C-1.8,-0.4 -3.2,-0.2 -4.5,1.8" transform="scale(1)" fill="none" stroke="#3a3a3a" stroke-width="1.1" stroke-linecap="round"/></g>
<text x="276.98" y="685.6" font-size="11.4" text-anchor="middle" font-family="'Liberation Serif', serif" fill="#222" font-weight="normal" dominant-baseline="central" stroke="#222" stroke-width="0.12">4</text>
<g transform="translate(291.52,700.3)"><circle r="5" fill="none" stroke="#3a3a3a" stroke-width="0.9"/><path d="M0.2,0.2 C0.4,-1.8 0.2,-3.2 -1.8,-4.5 M-0.2,0.2 C1.8,0.4 3.2,0.2 4.5,-1.8 M-0.2,-0.2 C-0.4,1.8 -0.2,3.2 1.8,4.5 M0.2,-0.2 C-1.8,-0.4 -3.2,-0.2 -4.5,1.8" transform="scale(1)" fill="none" stroke="#3a3a3a" stroke-width="1.1" stroke-linecap="round"/></g>
<text x="276.98" y="700.7" font-size="11.4" text-anchor="middle" font-family="'Liberation Serif', serif" fill="#222" font-weight="normal" dominant-baseline="central" stroke="#222" stroke-width="0.12">5</text>
<g transform="translate(291.52,715.4)"><circle r="5" fill="none" stroke="#3a3a3a" stroke-width="0.9"/><path d="M0.2,0.2 C0.4,-1.8 0.2,-3.2 -1.8,-4.5 M-0.2,0.2 C1.8,0.4 3.2,0.2 4.5,-1.8 M-0.2,-0.2 C-0.4,1.8 -0.2,3.2 1.8,4.5 M0.2,-0.2 C-1.8,-0.4 -3.2,-0.2 -4.5,1.8" transform="scale(1)" fill="none" stroke="#3a3a3a" stroke-width="1.1" stroke-linecap="round"/></g>
<text x="276.98" y="715.8" font-size="11.4" text-anchor="middle" font-family="'Liberation Serif', serif" fill="#222" font-weight="normal" dominant-baseline="central" stroke="#222" stroke-width="0.12">6</text>
<g transform="translate(291.52,730.5)"><circle r="5" fill="none" stroke="#3a3a3a" stroke-width="0.9"/><path d="M0.2,0.2 C0.4,-1.8 0.2,-3.2 -1.8,-4.5 M-0.2,0.2 C1.8,0.4 3.2,0.2 4.5,-1.8 M-0.2,-0.2 C-0.4,1.8 -0.2,3.2 1.8,4.5 M0.2,-0.2 C-1.8,-0.4 -3.2,-0.2 -4.5,1.8" transform="scale(1)" fill="none" stroke="#3a3a3a" stroke-width="1.1" stroke-linecap="round"/></g>
<text x="276.98" y="730.9" font-size="11.4" text-anchor="middle" font-family="'Liberation Serif', serif" fill="#222" font-weight="normal" dominant-baseline="central" stroke="#222" stroke-width="0.12">7</text>
<g transform="translate(291.52,745.6)"><circle r="5" fill="none" stroke="#3a3a3a" stroke-width="0.9"/><path d="M0.2,0.2 C0.4,-1.8 0.2,-3.2 -1.8,-4.5 M-0.2,0.2 C1.8,0.4 3.2,0.2 4.5,-1.8 M-0.2,-0.2 C-0.4,1.8 -0.2,3.2 1.8,4.5 M0.2,-0.2 C-1.8,-0.4 -3.2,-0.2 -4.5,1.8" transform="scale(1)" fill="none" stroke="#3a3a3a" stroke-width="1.1" stroke-linecap="round"/></g>
<text x="276.98" y="746" font-size="11.4" text-anchor="middle" font-family="'Liberation Serif', serif" fill="#222" font-weight="normal" dominant-baseline="central" stroke="#222" stroke-width="0.12">8</text>
<rect x="357.5" y="631.05" width="28.5" height="120.8" fill="#fff" stroke="none"/>
<line x1="357.6" y1="632.05" x2="357.6" y2="752.85" stroke="#555" stroke-width="1" />
<line x1="385.9" y1="632.05" x2="385.9" y2="752.85" stroke="#8a8a8a" stroke-width="1.3" />
<line x1="371.75" y1="632.05" x2="371.75" y2="752.85" stroke="#3c3c3c" stroke-width="1" />
<rect x="356.3" y="631" width="30.9" height="2.6" rx="1.2" fill="#cfcfcf" stroke="#505050" stroke-width="0.8"/>
<rect x="356.3" y="646.1" width="30.9" height="2.6" rx="1.2" fill="#cfcfcf" stroke="#505050" stroke-width="0.8"/>
<rect x="356.3" y="661.2" width="30.9" height="2.6" rx="1.2" fill="#cfcfcf" stroke="#505050" stroke-width="0.8"/>
<rect x="356.3" y="676.3" width="30.9" height="2.6" rx="1.2" fill="#cfcfcf" stroke="#505050" stroke-width="0.8"/>
<rect x="356.3" y="691.4" width="30.9" height="2.6" rx="1.2" fill="#cfcfcf" stroke="#505050" stroke-width="0.8"/>
<rect x="356.3" y="706.5" width="30.9" height="2.6" rx="1.2" fill="#cfcfcf" stroke="#505050" stroke-width="0.8"/>
<rect x="356.3" y="721.6" width="30.9" height="2.6" rx="1.2" fill="#cfcfcf" stroke="#505050" stroke-width="0.8"/>
<rect x="356.3" y="736.7" width="30.9" height="2.6" rx="1.2" fill="#cfcfcf" stroke="#505050" stroke-width="0.8"/>
<rect x="356.3" y="751.8" width="30.9" height="2.6" rx="1.2" fill="#cfcfcf" stroke="#505050" stroke-width="0.8"/>
<g transform="translate(379.02,639.9)"><circle r="5" fill="none" stroke="#3a3a3a" stroke-width="0.9"/><path d="M0.2,0.2 C0.4,-1.8 0.2,-3.2 -1.8,-4.5 M-0.2,0.2 C1.8,0.4 3.2,0.2 4.5,-1.8 M-0.2,-0.2 C-0.4,1.8 -0.2,3.2 1.8,4.5 M0.2,-0.2 C-1.8,-0.4 -3.2,-0.2 -4.5,1.8" transform="scale(1)" fill="none" stroke="#3a3a3a" stroke-width="1.1" stroke-linecap="round"/></g>
<text x="364.48" y="640.3" font-size="11.4" text-anchor="middle" font-family="'Liberation Serif', serif" fill="#222" font-weight="normal" dominant-baseline="central" stroke="#222" stroke-width="0.12">17</text>
<g transform="translate(379.02,655)"><circle r="5" fill="none" stroke="#3a3a3a" stroke-width="0.9"/><path d="M0.2,0.2 C0.4,-1.8 0.2,-3.2 -1.8,-4.5 M-0.2,0.2 C1.8,0.4 3.2,0.2 4.5,-1.8 M-0.2,-0.2 C-0.4,1.8 -0.2,3.2 1.8,4.5 M0.2,-0.2 C-1.8,-0.4 -3.2,-0.2 -4.5,1.8" transform="scale(1)" fill="none" stroke="#3a3a3a" stroke-width="1.1" stroke-linecap="round"/></g>
<text x="364.48" y="655.4" font-size="11.4" text-anchor="middle" font-family="'Liberation Serif', serif" fill="#222" font-weight="normal" dominant-baseline="central" stroke="#222" stroke-width="0.12">18</text>
<g transform="translate(379.02,670.1)"><circle r="5" fill="none" stroke="#3a3a3a" stroke-width="0.9"/><path d="M0.2,0.2 C0.4,-1.8 0.2,-3.2 -1.8,-4.5 M-0.2,0.2 C1.8,0.4 3.2,0.2 4.5,-1.8 M-0.2,-0.2 C-0.4,1.8 -0.2,3.2 1.8,4.5 M0.2,-0.2 C-1.8,-0.4 -3.2,-0.2 -4.5,1.8" transform="scale(1)" fill="none" stroke="#3a3a3a" stroke-width="1.1" stroke-linecap="round"/></g>
<text x="364.48" y="670.5" font-size="11.4" text-anchor="middle" font-family="'Liberation Serif', serif" fill="#222" font-weight="normal" dominant-baseline="central" stroke="#222" stroke-width="0.12">19</text>
<g transform="translate(379.02,685.2)"><circle r="5" fill="none" stroke="#3a3a3a" stroke-width="0.9"/><path d="M0.2,0.2 C0.4,-1.8 0.2,-3.2 -1.8,-4.5 M-0.2,0.2 C1.8,0.4 3.2,0.2 4.5,-1.8 M-0.2,-0.2 C-0.4,1.8 -0.2,3.2 1.8,4.5 M0.2,-0.2 C-1.8,-0.4 -3.2,-0.2 -4.5,1.8" transform="scale(1)" fill="none" stroke="#3a3a3a" stroke-width="1.1" stroke-linecap="round"/></g>
<text x="364.48" y="685.6" font-size="11.4" text-anchor="middle" font-family="'Liberation Serif', serif" fill="#222" font-weight="normal" dominant-baseline="central" stroke="#222" stroke-width="0.12">20</text>
<g transform="translate(379.02,700.3)"><circle r="5" fill="none" stroke="#3a3a3a" stroke-width="0.9"/><path d="M0.2,0.2 C0.4,-1.8 0.2,-3.2 -1.8,-4.5 M-0.2,0.2 C1.8,0.4 3.2,0.2 4.5,-1.8 M-0.2,-0.2 C-0.4,1.8 -0.2,3.2 1.8,4.5 M0.2,-0.2 C-1.8,-0.4 -3.2,-0.2 -4.5,1.8" transform="scale(1)" fill="none" stroke="#3a3a3a" stroke-width="1.1" stroke-linecap="round"/></g>
<text x="364.48" y="700.7" font-size="11.4" text-anchor="middle" font-family="'Liberation Serif', serif" fill="#222" font-weight="normal" dominant-baseline="central" stroke="#222" stroke-width="0.12">21</text>
<g transform="translate(379.02,715.4)"><circle r="5" fill="none" stroke="#3a3a3a" stroke-width="0.9"/><path d="M0.2,0.2 C0.4,-1.8 0.2,-3.2 -1.8,-4.5 M-0.2,0.2 C1.8,0.4 3.2,0.2 4.5,-1.8 M-0.2,-0.2 C-0.4,1.8 -0.2,3.2 1.8,4.5 M0.2,-0.2 C-1.8,-0.4 -3.2,-0.2 -4.5,1.8" transform="scale(1)" fill="none" stroke="#3a3a3a" stroke-width="1.1" stroke-linecap="round"/></g>
<text x="364.48" y="715.8" font-size="11.4" text-anchor="middle" font-family="'Liberation Serif', serif" fill="#222" font-weight="normal" dominant-baseline="central" stroke="#222" stroke-width="0.12">22</text>
<g transform="translate(379.02,730.5)"><circle r="5" fill="none" stroke="#3a3a3a" stroke-width="0.9"/><path d="M0.2,0.2 C0.4,-1.8 0.2,-3.2 -1.8,-4.5 M-0.2,0.2 C1.8,0.4 3.2,0.2 4.5,-1.8 M-0.2,-0.2 C-0.4,1.8 -0.2,3.2 1.8,4.5 M0.2,-0.2 C-1.8,-0.4 -3.2,-0.2 -4.5,1.8" transform="scale(1)" fill="none" stroke="#3a3a3a" stroke-width="1.1" stroke-linecap="round"/></g>
<text x="364.48" y="730.9" font-size="11.4" text-anchor="middle" font-family="'Liberation Serif', serif" fill="#222" font-weight="normal" dominant-baseline="central" stroke="#222" stroke-width="0.12">23</text>
<g transform="translate(379.02,745.6)"><circle r="5" fill="none" stroke="#3a3a3a" stroke-width="0.9"/><path d="M0.2,0.2 C0.4,-1.8 0.2,-3.2 -1.8,-4.5 M-0.2,0.2 C1.8,0.4 3.2,0.2 4.5,-1.8 M-0.2,-0.2 C-0.4,1.8 -0.2,3.2 1.8,4.5 M0.2,-0.2 C-1.8,-0.4 -3.2,-0.2 -4.5,1.8" transform="scale(1)" fill="none" stroke="#3a3a3a" stroke-width="1.1" stroke-linecap="round"/></g>
<text x="364.48" y="746" font-size="11.4" text-anchor="middle" font-family="'Liberation Serif', serif" fill="#222" font-weight="normal" dominant-baseline="central" stroke="#222" stroke-width="0.12">24</text>
<rect x="402.1" y="631.05" width="28.5" height="120.8" fill="#fff" stroke="none"/>
<line x1="402.2" y1="632.05" x2="402.2" y2="752.85" stroke="#555" stroke-width="1" />
<line x1="430.5" y1="632.05" x2="430.5" y2="752.85" stroke="#8a8a8a" stroke-width="1.3" />
<line x1="416.35" y1="632.05" x2="416.35" y2="752.85" stroke="#3c3c3c" stroke-width="1" />
<rect x="400.9" y="631" width="30.9" height="2.6" rx="1.2" fill="#cfcfcf" stroke="#505050" stroke-width="0.8"/>
<rect x="400.9" y="646.1" width="30.9" height="2.6" rx="1.2" fill="#cfcfcf" stroke="#505050" stroke-width="0.8"/>
<rect x="400.9" y="661.2" width="30.9" height="2.6" rx="1.2" fill="#cfcfcf" stroke="#505050" stroke-width="0.8"/>
<rect x="400.9" y="676.3" width="30.9" height="2.6" rx="1.2" fill="#cfcfcf" stroke="#505050" stroke-width="0.8"/>
<rect x="400.9" y="691.4" width="30.9" height="2.6" rx="1.2" fill="#cfcfcf" stroke="#505050" stroke-width="0.8"/>
<rect x="400.9" y="706.5" width="30.9" height="2.6" rx="1.2" fill="#cfcfcf" stroke="#505050" stroke-width="0.8"/>
<rect x="400.9" y="721.6" width="30.9" height="2.6" rx="1.2" fill="#cfcfcf" stroke="#505050" stroke-width="0.8"/>
<rect x="400.9" y="736.7" width="30.9" height="2.6" rx="1.2" fill="#cfcfcf" stroke="#505050" stroke-width="0.8"/>
<rect x="400.9" y="751.8" width="30.9" height="2.6" rx="1.2" fill="#cfcfcf" stroke="#505050" stroke-width="0.8"/>
<g transform="translate(409.08,639.9)"><circle r="5" fill="none" stroke="#3a3a3a" stroke-width="0.9"/><path d="M0.2,0.2 C0.4,-1.8 0.2,-3.2 -1.8,-4.5 M-0.2,0.2 C1.8,0.4 3.2,0.2 4.5,-1.8 M-0.2,-0.2 C-0.4,1.8 -0.2,3.2 1.8,4.5 M0.2,-0.2 C-1.8,-0.4 -3.2,-0.2 -4.5,1.8" transform="scale(1)" fill="none" stroke="#3a3a3a" stroke-width="1.1" stroke-linecap="round"/></g>
<text x="423.62" y="641.9" font-size="11.4" text-anchor="middle" font-family="'Liberation Serif', serif" fill="#222" font-weight="normal" dominant-baseline="central" stroke="#222" stroke-width="0.12">9</text>
<g transform="translate(409.08,655)"><circle r="5" fill="none" stroke="#3a3a3a" stroke-width="0.9"/><path d="M0.2,0.2 C0.4,-1.8 0.2,-3.2 -1.8,-4.5 M-0.2,0.2 C1.8,0.4 3.2,0.2 4.5,-1.8 M-0.2,-0.2 C-0.4,1.8 -0.2,3.2 1.8,4.5 M0.2,-0.2 C-1.8,-0.4 -3.2,-0.2 -4.5,1.8" transform="scale(1)" fill="none" stroke="#3a3a3a" stroke-width="1.1" stroke-linecap="round"/></g>
<text x="423.62" y="657" font-size="11.4" text-anchor="middle" font-family="'Liberation Serif', serif" fill="#222" font-weight="normal" dominant-baseline="central" stroke="#222" stroke-width="0.12">10</text>
<g transform="translate(409.08,670.1)"><circle r="5" fill="none" stroke="#3a3a3a" stroke-width="0.9"/><path d="M0.2,0.2 C0.4,-1.8 0.2,-3.2 -1.8,-4.5 M-0.2,0.2 C1.8,0.4 3.2,0.2 4.5,-1.8 M-0.2,-0.2 C-0.4,1.8 -0.2,3.2 1.8,4.5 M0.2,-0.2 C-1.8,-0.4 -3.2,-0.2 -4.5,1.8" transform="scale(1)" fill="none" stroke="#3a3a3a" stroke-width="1.1" stroke-linecap="round"/></g>
<text x="423.62" y="672.1" font-size="11.4" text-anchor="middle" font-family="'Liberation Serif', serif" fill="#222" font-weight="normal" dominant-baseline="central" stroke="#222" stroke-width="0.12">11</text>
<g transform="translate(409.08,685.2)"><circle r="5" fill="none" stroke="#3a3a3a" stroke-width="0.9"/><path d="M0.2,0.2 C0.4,-1.8 0.2,-3.2 -1.8,-4.5 M-0.2,0.2 C1.8,0.4 3.2,0.2 4.5,-1.8 M-0.2,-0.2 C-0.4,1.8 -0.2,3.2 1.8,4.5 M0.2,-0.2 C-1.8,-0.4 -3.2,-0.2 -4.5,1.8" transform="scale(1)" fill="none" stroke="#3a3a3a" stroke-width="1.1" stroke-linecap="round"/></g>
<text x="423.62" y="687.2" font-size="11.4" text-anchor="middle" font-family="'Liberation Serif', serif" fill="#222" font-weight="normal" dominant-baseline="central" stroke="#222" stroke-width="0.12">12</text>
<g transform="translate(409.08,700.3)"><circle r="5" fill="none" stroke="#3a3a3a" stroke-width="0.9"/><path d="M0.2,0.2 C0.4,-1.8 0.2,-3.2 -1.8,-4.5 M-0.2,0.2 C1.8,0.4 3.2,0.2 4.5,-1.8 M-0.2,-0.2 C-0.4,1.8 -0.2,3.2 1.8,4.5 M0.2,-0.2 C-1.8,-0.4 -3.2,-0.2 -4.5,1.8" transform="scale(1)" fill="none" stroke="#3a3a3a" stroke-width="1.1" stroke-linecap="round"/></g>
<text x="423.62" y="702.3" font-size="11.4" text-anchor="middle" font-family="'Liberation Serif', serif" fill="#222" font-weight="normal" dominant-baseline="central" stroke="#222" stroke-width="0.12">13</text>
<g transform="translate(409.08,715.4)"><circle r="5" fill="none" stroke="#3a3a3a" stroke-width="0.9"/><path d="M0.2,0.2 C0.4,-1.8 0.2,-3.2 -1.8,-4.5 M-0.2,0.2 C1.8,0.4 3.2,0.2 4.5,-1.8 M-0.2,-0.2 C-0.4,1.8 -0.2,3.2 1.8,4.5 M0.2,-0.2 C-1.8,-0.4 -3.2,-0.2 -4.5,1.8" transform="scale(1)" fill="none" stroke="#3a3a3a" stroke-width="1.1" stroke-linecap="round"/></g>
<text x="423.62" y="717.4" font-size="11.4" text-anchor="middle" font-family="'Liberation Serif', serif" fill="#222" font-weight="normal" dominant-baseline="central" stroke="#222" stroke-width="0.12">14</text>
<g transform="translate(409.08,730.5)"><circle r="5" fill="none" stroke="#3a3a3a" stroke-width="0.9"/><path d="M0.2,0.2 C0.4,-1.8 0.2,-3.2 -1.8,-4.5 M-0.2,0.2 C1.8,0.4 3.2,0.2 4.5,-1.8 M-0.2,-0.2 C-0.4,1.8 -0.2,3.2 1.8,4.5 M0.2,-0.2 C-1.8,-0.4 -3.2,-0.2 -4.5,1.8" transform="scale(1)" fill="none" stroke="#3a3a3a" stroke-width="1.1" stroke-linecap="round"/></g>
<text x="423.62" y="732.5" font-size="11.4" text-anchor="middle" font-family="'Liberation Serif', serif" fill="#222" font-weight="normal" dominant-baseline="central" stroke="#222" stroke-width="0.12">15</text>
<g transform="translate(409.08,745.6)"><circle r="5" fill="none" stroke="#3a3a3a" stroke-width="0.9"/><path d="M0.2,0.2 C0.4,-1.8 0.2,-3.2 -1.8,-4.5 M-0.2,0.2 C1.8,0.4 3.2,0.2 4.5,-1.8 M-0.2,-0.2 C-0.4,1.8 -0.2,3.2 1.8,4.5 M0.2,-0.2 C-1.8,-0.4 -3.2,-0.2 -4.5,1.8" transform="scale(1)" fill="none" stroke="#3a3a3a" stroke-width="1.1" stroke-linecap="round"/></g>
<text x="423.62" y="747.6" font-size="11.4" text-anchor="middle" font-family="'Liberation Serif', serif" fill="#222" font-weight="normal" dominant-baseline="central" stroke="#222" stroke-width="0.12">16</text>
<g transform="rotate(90 322.1 692)">
<text x="270.6" y="692" font-size="10.6" text-anchor="start" font-family="'Liberation Serif', serif" fill="#1e1e1e" font-weight="normal" dominant-baseline="central"  textLength="20" lengthAdjust="spacing">外形</text>
<text x="293" y="692" font-size="11" text-anchor="start" font-family="'Liberation Serif', serif" fill="#1e1e1e" font-weight="normal" dominant-baseline="central" >:</text>
<text x="301.2" y="692.3" font-size="11" text-anchor="start" font-family="'Liberation Serif', serif" fill="#1e1e1e" font-weight="normal" dominant-baseline="central"  textLength="72.5" lengthAdjust="spacing">96 <tspan font-size="13.5">×</tspan> 96 <tspan font-size="13.5">×</tspan> 110mm</text>
</g>
<polygon points="344,596 344,609.4 338,609.4 350.65,621.9 363.3,609.4 357.5,609.4 357.5,596" stroke="#1a1a1a" stroke-width="1.3" fill="none" stroke-linejoin="miter" />
<polygon points="343.6,787.4 343.6,773.6 337.6,773.6 350.5,760.4 363.4,773.6 357.4,773.6 357.4,787.4" stroke="#1a1a1a" stroke-width="1.3" fill="none" stroke-linejoin="miter" />
<polygon points="195.5,674.8 208.6,674.8 208.6,669 221.6,681.1 208.6,693.2 208.6,687.8 195.5,687.8" stroke="#1a1a1a" stroke-width="1.3" fill="none" stroke-linejoin="miter" />
<polygon points="495.5,674.5 481.8,674.5 481.8,668.8 469,680.9 481.8,693 481.8,687.2 495.5,687.2" stroke="#1a1a1a" stroke-width="1.3" fill="none" stroke-linejoin="miter" />
<rect x="523.9" y="612" width="150.9" height="134.7" stroke="#2b2b2b" stroke-width="1.5" fill="none"/>
<rect x="567.3" y="624.35" width="27.3" height="33" fill="#fff" stroke="none"/>
<line x1="567.4" y1="625.35" x2="567.4" y2="658.35" stroke="#555" stroke-width="1" />
<line x1="594.5" y1="625.35" x2="594.5" y2="658.35" stroke="#8a8a8a" stroke-width="1.3" />
<line x1="580.95" y1="625.35" x2="580.95" y2="658.35" stroke="#3c3c3c" stroke-width="1" />
<rect x="566.1" y="624.3" width="29.7" height="2.6" rx="1.2" fill="#cfcfcf" stroke="#505050" stroke-width="0.8"/>
<rect x="566.1" y="640.8" width="29.7" height="2.6" rx="1.2" fill="#cfcfcf" stroke="#505050" stroke-width="0.8"/>
<rect x="566.1" y="657.3" width="29.7" height="2.6" rx="1.2" fill="#cfcfcf" stroke="#505050" stroke-width="0.8"/>
<g transform="translate(573.98,633.9)"><circle r="5" fill="none" stroke="#3a3a3a" stroke-width="0.9"/><path d="M0.2,0.2 C0.4,-1.8 0.2,-3.2 -1.8,-4.5 M-0.2,0.2 C1.8,0.4 3.2,0.2 4.5,-1.8 M-0.2,-0.2 C-0.4,1.8 -0.2,3.2 1.8,4.5 M0.2,-0.2 C-1.8,-0.4 -3.2,-0.2 -4.5,1.8" transform="scale(1)" fill="none" stroke="#3a3a3a" stroke-width="1.1" stroke-linecap="round"/></g>
<text x="587.92" y="633.4" font-size="11.4" text-anchor="middle" font-family="'Liberation Serif', serif" fill="#222" font-weight="normal" dominant-baseline="central" stroke="#222" stroke-width="0.12">15</text>
<g transform="translate(573.98,650.4)"><circle r="5" fill="none" stroke="#3a3a3a" stroke-width="0.9"/><path d="M0.2,0.2 C0.4,-1.8 0.2,-3.2 -1.8,-4.5 M-0.2,0.2 C1.8,0.4 3.2,0.2 4.5,-1.8 M-0.2,-0.2 C-0.4,1.8 -0.2,3.2 1.8,4.5 M0.2,-0.2 C-1.8,-0.4 -3.2,-0.2 -4.5,1.8" transform="scale(1)" fill="none" stroke="#3a3a3a" stroke-width="1.1" stroke-linecap="round"/></g>
<text x="587.92" y="649.9" font-size="11.4" text-anchor="middle" font-family="'Liberation Serif', serif" fill="#222" font-weight="normal" dominant-baseline="central" stroke="#222" stroke-width="0.12">16</text>
<line x1="601.4" y1="633.6" x2="608.4" y2="633.6" stroke="#333" stroke-width="0.9" />
<circle cx="610" cy="633.6" r="1.6" fill="#fff" stroke="#333" stroke-width="0.8"/>
<line x1="601.4" y1="652.9" x2="608.4" y2="652.9" stroke="#333" stroke-width="0.9" />
<circle cx="610" cy="652.9" r="1.6" fill="#fff" stroke="#333" stroke-width="0.8"/>
<text x="621" y="643.3" font-size="8.2" text-anchor="middle" font-family="'Liberation Serif', serif" fill="#1e1e1e" font-weight="normal" dominant-baseline="central"  textLength="42.1" lengthAdjust="spacingAndGlyphs">AC90~265V</text>
<rect x="567.3" y="675.45" width="27.3" height="33.1" fill="#fff" stroke="none"/>
<line x1="567.4" y1="676.45" x2="567.4" y2="709.55" stroke="#555" stroke-width="1" />
<line x1="594.5" y1="676.45" x2="594.5" y2="709.55" stroke="#8a8a8a" stroke-width="1.3" />
<line x1="580.95" y1="676.45" x2="580.95" y2="709.55" stroke="#3c3c3c" stroke-width="1" />
<rect x="566.1" y="675.4" width="29.7" height="2.6" rx="1.2" fill="#cfcfcf" stroke="#505050" stroke-width="0.8"/>
<rect x="566.1" y="691.95" width="29.7" height="2.6" rx="1.2" fill="#cfcfcf" stroke="#505050" stroke-width="0.8"/>
<rect x="566.1" y="708.5" width="29.7" height="2.6" rx="1.2" fill="#cfcfcf" stroke="#505050" stroke-width="0.8"/>
<g transform="translate(573.98,685.02)"><circle r="5" fill="none" stroke="#3a3a3a" stroke-width="0.9"/><path d="M0.2,0.2 C0.4,-1.8 0.2,-3.2 -1.8,-4.5 M-0.2,0.2 C1.8,0.4 3.2,0.2 4.5,-1.8 M-0.2,-0.2 C-0.4,1.8 -0.2,3.2 1.8,4.5 M0.2,-0.2 C-1.8,-0.4 -3.2,-0.2 -4.5,1.8" transform="scale(1)" fill="none" stroke="#3a3a3a" stroke-width="1.1" stroke-linecap="round"/></g>
<text x="587.92" y="684.52" font-size="11.4" text-anchor="middle" font-family="'Liberation Serif', serif" fill="#222" font-weight="normal" dominant-baseline="central" stroke="#222" stroke-width="0.12">23</text>
<g transform="translate(573.98,701.57)"><circle r="5" fill="none" stroke="#3a3a3a" stroke-width="0.9"/><path d="M0.2,0.2 C0.4,-1.8 0.2,-3.2 -1.8,-4.5 M-0.2,0.2 C1.8,0.4 3.2,0.2 4.5,-1.8 M-0.2,-0.2 C-0.4,1.8 -0.2,3.2 1.8,4.5 M0.2,-0.2 C-1.8,-0.4 -3.2,-0.2 -4.5,1.8" transform="scale(1)" fill="none" stroke="#3a3a3a" stroke-width="1.1" stroke-linecap="round"/></g>
<text x="587.92" y="701.07" font-size="11.4" text-anchor="middle" font-family="'Liberation Serif', serif" fill="#222" font-weight="normal" dominant-baseline="central" stroke="#222" stroke-width="0.12">24</text>
<line x1="601.4" y1="683.6" x2="608.4" y2="683.6" stroke="#333" stroke-width="0.9" />
<circle cx="610" cy="683.6" r="1.6" fill="#fff" stroke="#333" stroke-width="0.8"/>
<line x1="603" y1="679.8" x2="606" y2="679.8" stroke="#333" stroke-width="0.8" />
<line x1="604.5" y1="678.3" x2="604.5" y2="681.3" stroke="#333" stroke-width="0.8" />
<line x1="601.4" y1="702.1" x2="608.4" y2="702.1" stroke="#333" stroke-width="0.9" />
<circle cx="610" cy="702.1" r="1.6" fill="#fff" stroke="#333" stroke-width="0.8"/>
<line x1="602.5" y1="705.6" x2="606.5" y2="705.6" stroke="#333" stroke-width="0.9" />
<text x="614.6" y="693.3" font-size="8.6" text-anchor="middle" font-family="'Liberation Serif', serif" fill="#1e1e1e" font-weight="normal" dominant-baseline="central"  textLength="22.1" lengthAdjust="spacingAndGlyphs">DC24V</text>
<text x="600.8" y="730.3" font-size="13.2" text-anchor="middle" font-family="'Liberation Serif', serif" fill="#1e1e1e" font-weight="normal" dominant-baseline="central"  textLength="72" lengthAdjust="spacing" stroke="#1e1e1e" stroke-width="0.2">电源接线图</text>
<rect x="524.1" y="747" width="150.7" height="151.9" stroke="#2b2b2b" stroke-width="1.5" fill="none"/>
<rect x="534.6" y="772.05" width="27.9" height="32.9" fill="#fff" stroke="none"/>
<line x1="534.7" y1="773.05" x2="534.7" y2="805.95" stroke="#555" stroke-width="1" />
<line x1="562.4" y1="773.05" x2="562.4" y2="805.95" stroke="#8a8a8a" stroke-width="1.3" />
<line x1="548.55" y1="773.05" x2="548.55" y2="805.95" stroke="#3c3c3c" stroke-width="1" />
<rect x="533.4" y="772" width="30.3" height="2.6" rx="1.2" fill="#cfcfcf" stroke="#505050" stroke-width="0.8"/>
<rect x="533.4" y="788.45" width="30.3" height="2.6" rx="1.2" fill="#cfcfcf" stroke="#505050" stroke-width="0.8"/>
<rect x="533.4" y="804.9" width="30.3" height="2.6" rx="1.2" fill="#cfcfcf" stroke="#505050" stroke-width="0.8"/>
<g transform="translate(541.43,781.57)"><circle r="5" fill="none" stroke="#3a3a3a" stroke-width="0.9"/><path d="M0.2,0.2 C0.4,-1.8 0.2,-3.2 -1.8,-4.5 M-0.2,0.2 C1.8,0.4 3.2,0.2 4.5,-1.8 M-0.2,-0.2 C-0.4,1.8 -0.2,3.2 1.8,4.5 M0.2,-0.2 C-1.8,-0.4 -3.2,-0.2 -4.5,1.8" transform="scale(1)" fill="none" stroke="#3a3a3a" stroke-width="1.1" stroke-linecap="round"/></g>
<text x="555.68" y="781.07" font-size="11.4" text-anchor="middle" font-family="'Liberation Serif', serif" fill="#222" font-weight="normal" dominant-baseline="central" stroke="#222" stroke-width="0.12">9</text>
<g transform="translate(541.43,798.02)"><circle r="5" fill="none" stroke="#3a3a3a" stroke-width="0.9"/><path d="M0.2,0.2 C0.4,-1.8 0.2,-3.2 -1.8,-4.5 M-0.2,0.2 C1.8,0.4 3.2,0.2 4.5,-1.8 M-0.2,-0.2 C-0.4,1.8 -0.2,3.2 1.8,4.5 M0.2,-0.2 C-1.8,-0.4 -3.2,-0.2 -4.5,1.8" transform="scale(1)" fill="none" stroke="#3a3a3a" stroke-width="1.1" stroke-linecap="round"/></g>
<text x="555.68" y="797.52" font-size="11.4" text-anchor="middle" font-family="'Liberation Serif', serif" fill="#222" font-weight="normal" dominant-baseline="central" stroke="#222" stroke-width="0.12">10</text>
<text x="561.1" y="764" font-size="8" text-anchor="middle" font-family="'Liberation Serif', serif" fill="#1e1e1e" font-weight="normal" dominant-baseline="central"  textLength="35.3" lengthAdjust="spacing" stroke="#1e1e1e" stroke-width="0.08">调节输出</text>
<line x1="569.1" y1="780" x2="576.7" y2="780" stroke="#333" stroke-width="0.9" />
<circle cx="578.3" cy="780" r="1.6" fill="#fff" stroke="#333" stroke-width="0.8"/>
<line x1="570.8" y1="776.5" x2="574.8" y2="776.5" stroke="#333" stroke-width="0.9" />
<line x1="569.1" y1="799" x2="576.7" y2="799" stroke="#333" stroke-width="0.9" />
<circle cx="578.3" cy="799" r="1.6" fill="#fff" stroke="#333" stroke-width="0.8"/>
<line x1="571.3" y1="802.8" x2="574.3" y2="802.8" stroke="#333" stroke-width="0.8" />
<line x1="572.8" y1="801.3" x2="572.8" y2="804.3" stroke="#333" stroke-width="0.8" />
<text x="583.5" y="790.6" font-size="8.4" text-anchor="middle" font-family="'Liberation Serif', serif" fill="#1e1e1e" font-weight="normal" dominant-baseline="central"  textLength="18" lengthAdjust="spacingAndGlyphs">mA/V</text>
<rect x="605.9" y="772.05" width="27.9" height="32.9" fill="#fff" stroke="none"/>
<line x1="606" y1="773.05" x2="606" y2="805.95" stroke="#555" stroke-width="1" />
<line x1="633.7" y1="773.05" x2="633.7" y2="805.95" stroke="#8a8a8a" stroke-width="1.3" />
<line x1="619.85" y1="773.05" x2="619.85" y2="805.95" stroke="#3c3c3c" stroke-width="1" />
<rect x="604.7" y="772" width="30.3" height="2.6" rx="1.2" fill="#cfcfcf" stroke="#505050" stroke-width="0.8"/>
<rect x="604.7" y="788.45" width="30.3" height="2.6" rx="1.2" fill="#cfcfcf" stroke="#505050" stroke-width="0.8"/>
<rect x="604.7" y="804.9" width="30.3" height="2.6" rx="1.2" fill="#cfcfcf" stroke="#505050" stroke-width="0.8"/>
<g transform="translate(612.73,781.57)"><circle r="5" fill="none" stroke="#3a3a3a" stroke-width="0.9"/><path d="M0.2,0.2 C0.4,-1.8 0.2,-3.2 -1.8,-4.5 M-0.2,0.2 C1.8,0.4 3.2,0.2 4.5,-1.8 M-0.2,-0.2 C-0.4,1.8 -0.2,3.2 1.8,4.5 M0.2,-0.2 C-1.8,-0.4 -3.2,-0.2 -4.5,1.8" transform="scale(1)" fill="none" stroke="#3a3a3a" stroke-width="1.1" stroke-linecap="round"/></g>
<text x="626.98" y="781.07" font-size="11.4" text-anchor="middle" font-family="'Liberation Serif', serif" fill="#222" font-weight="normal" dominant-baseline="central" stroke="#222" stroke-width="0.12">11</text>
<g transform="translate(612.73,798.02)"><circle r="5" fill="none" stroke="#3a3a3a" stroke-width="0.9"/><path d="M0.2,0.2 C0.4,-1.8 0.2,-3.2 -1.8,-4.5 M-0.2,0.2 C1.8,0.4 3.2,0.2 4.5,-1.8 M-0.2,-0.2 C-0.4,1.8 -0.2,3.2 1.8,4.5 M0.2,-0.2 C-1.8,-0.4 -3.2,-0.2 -4.5,1.8" transform="scale(1)" fill="none" stroke="#3a3a3a" stroke-width="1.1" stroke-linecap="round"/></g>
<text x="626.98" y="797.52" font-size="11.4" text-anchor="middle" font-family="'Liberation Serif', serif" fill="#222" font-weight="normal" dominant-baseline="central" stroke="#222" stroke-width="0.12">12</text>
<text x="632.5" y="764" font-size="8" text-anchor="middle" font-family="'Liberation Serif', serif" fill="#1e1e1e" font-weight="normal" dominant-baseline="central"  textLength="35.3" lengthAdjust="spacing" stroke="#1e1e1e" stroke-width="0.08">变送输出</text>
<line x1="640" y1="780" x2="647.5" y2="780" stroke="#333" stroke-width="0.9" />
<circle cx="649.1" cy="780" r="1.6" fill="#fff" stroke="#333" stroke-width="0.8"/>
<line x1="641.6" y1="776.5" x2="645.6" y2="776.5" stroke="#333" stroke-width="0.9" />
<line x1="640" y1="799" x2="647.5" y2="799" stroke="#333" stroke-width="0.9" />
<circle cx="649.1" cy="799" r="1.6" fill="#fff" stroke="#333" stroke-width="0.8"/>
<line x1="642.1" y1="802.8" x2="645.1" y2="802.8" stroke="#333" stroke-width="0.8" />
<line x1="643.6" y1="801.3" x2="643.6" y2="804.3" stroke="#333" stroke-width="0.8" />
<text x="654.9" y="790.6" font-size="8.4" text-anchor="middle" font-family="'Liberation Serif', serif" fill="#1e1e1e" font-weight="normal" dominant-baseline="central"  textLength="18" lengthAdjust="spacingAndGlyphs">mA/V</text>
<rect x="571.6" y="829.35" width="27.6" height="33" fill="#fff" stroke="none"/>
<line x1="571.7" y1="830.35" x2="571.7" y2="863.35" stroke="#555" stroke-width="1" />
<line x1="599.1" y1="830.35" x2="599.1" y2="863.35" stroke="#8a8a8a" stroke-width="1.3" />
<line x1="585.4" y1="830.35" x2="585.4" y2="863.35" stroke="#3c3c3c" stroke-width="1" />
<rect x="570.4" y="829.3" width="30" height="2.6" rx="1.2" fill="#cfcfcf" stroke="#505050" stroke-width="0.8"/>
<rect x="570.4" y="845.8" width="30" height="2.6" rx="1.2" fill="#cfcfcf" stroke="#505050" stroke-width="0.8"/>
<rect x="570.4" y="862.3" width="30" height="2.6" rx="1.2" fill="#cfcfcf" stroke="#505050" stroke-width="0.8"/>
<g transform="translate(578.35,838.9)"><circle r="5" fill="none" stroke="#3a3a3a" stroke-width="0.9"/><path d="M0.2,0.2 C0.4,-1.8 0.2,-3.2 -1.8,-4.5 M-0.2,0.2 C1.8,0.4 3.2,0.2 4.5,-1.8 M-0.2,-0.2 C-0.4,1.8 -0.2,3.2 1.8,4.5 M0.2,-0.2 C-1.8,-0.4 -3.2,-0.2 -4.5,1.8" transform="scale(1)" fill="none" stroke="#3a3a3a" stroke-width="1.1" stroke-linecap="round"/></g>
<text x="592.45" y="838.4" font-size="11.4" text-anchor="middle" font-family="'Liberation Serif', serif" fill="#222" font-weight="normal" dominant-baseline="central" stroke="#222" stroke-width="0.12">1</text>
<g transform="translate(578.35,855.4)"><circle r="5" fill="none" stroke="#3a3a3a" stroke-width="0.9"/><path d="M0.2,0.2 C0.4,-1.8 0.2,-3.2 -1.8,-4.5 M-0.2,0.2 C1.8,0.4 3.2,0.2 4.5,-1.8 M-0.2,-0.2 C-0.4,1.8 -0.2,3.2 1.8,4.5 M0.2,-0.2 C-1.8,-0.4 -3.2,-0.2 -4.5,1.8" transform="scale(1)" fill="none" stroke="#3a3a3a" stroke-width="1.1" stroke-linecap="round"/></g>
<text x="592.45" y="854.9" font-size="11.4" text-anchor="middle" font-family="'Liberation Serif', serif" fill="#222" font-weight="normal" dominant-baseline="central" stroke="#222" stroke-width="0.12">13</text>
<text x="597.7" y="821.9" font-size="8" text-anchor="middle" font-family="'Liberation Serif', serif" fill="#1e1e1e" font-weight="normal" dominant-baseline="central"  textLength="35.3" lengthAdjust="spacing" stroke="#1e1e1e" stroke-width="0.08">馈电输出</text>
<line x1="604.5" y1="837.2" x2="612.1" y2="837.2" stroke="#333" stroke-width="0.9" />
<circle cx="613.7" cy="837.2" r="1.6" fill="#fff" stroke="#333" stroke-width="0.8"/>
<line x1="606.2" y1="833.7" x2="610.2" y2="833.7" stroke="#333" stroke-width="0.9" />
<line x1="604.5" y1="856.2" x2="612.1" y2="856.2" stroke="#333" stroke-width="0.9" />
<circle cx="613.7" cy="856.2" r="1.6" fill="#fff" stroke="#333" stroke-width="0.8"/>
<line x1="606.7" y1="860" x2="609.7" y2="860" stroke="#333" stroke-width="0.8" />
<line x1="608.2" y1="858.5" x2="608.2" y2="861.5" stroke="#333" stroke-width="0.8" />
<text x="622.9" y="847" font-size="8.6" text-anchor="middle" font-family="'Liberation Serif', serif" fill="#1e1e1e" font-weight="normal" dominant-baseline="central"  textLength="22" lengthAdjust="spacingAndGlyphs">DC24V</text>
<text x="600" y="884.3" font-size="13.2" text-anchor="middle" font-family="'Liberation Serif', serif" fill="#1e1e1e" font-weight="normal" dominant-baseline="central"  textLength="71.8" lengthAdjust="spacing" stroke="#1e1e1e" stroke-width="0.2">输出接线图</text>
<rect x="187.9" y="791.6" width="313.6" height="107.7" stroke="#2b2b2b" stroke-width="1.5" fill="none"/>
<rect x="200.6" y="802.5" width="288.4" height="72.8" stroke="#9a9a9a" stroke-width="1" fill="none" stroke-dasharray="1 2"/>
<line x1="367.8" y1="802.5" x2="367.8" y2="875.3" stroke="#9a9a9a" stroke-width="1" fill="none" stroke-dasharray="1 2"/>
<rect x="235.6" y="822.75" width="27.6" height="33.3" fill="#fff" stroke="none"/>
<line x1="235.7" y1="823.75" x2="235.7" y2="857.05" stroke="#555" stroke-width="1" />
<line x1="263.1" y1="823.75" x2="263.1" y2="857.05" stroke="#8a8a8a" stroke-width="1.3" />
<line x1="249.4" y1="823.75" x2="249.4" y2="857.05" stroke="#3c3c3c" stroke-width="1" />
<rect x="234.4" y="822.7" width="30" height="2.6" rx="1.2" fill="#cfcfcf" stroke="#505050" stroke-width="0.8"/>
<rect x="234.4" y="839.35" width="30" height="2.6" rx="1.2" fill="#cfcfcf" stroke="#505050" stroke-width="0.8"/>
<rect x="234.4" y="856" width="30" height="2.6" rx="1.2" fill="#cfcfcf" stroke="#505050" stroke-width="0.8"/>
<g transform="translate(256.45,832.38)"><circle r="5" fill="none" stroke="#3a3a3a" stroke-width="0.9"/><path d="M0.2,0.2 C0.4,-1.8 0.2,-3.2 -1.8,-4.5 M-0.2,0.2 C1.8,0.4 3.2,0.2 4.5,-1.8 M-0.2,-0.2 C-0.4,1.8 -0.2,3.2 1.8,4.5 M0.2,-0.2 C-1.8,-0.4 -3.2,-0.2 -4.5,1.8" transform="scale(1)" fill="none" stroke="#3a3a3a" stroke-width="1.1" stroke-linecap="round"/></g>
<text x="242.35" y="831.88" font-size="11.4" text-anchor="middle" font-family="'Liberation Serif', serif" fill="#222" font-weight="normal" dominant-baseline="central" stroke="#222" stroke-width="0.12">9</text>
<g transform="translate(256.45,849.02)"><circle r="5" fill="none" stroke="#3a3a3a" stroke-width="0.9"/><path d="M0.2,0.2 C0.4,-1.8 0.2,-3.2 -1.8,-4.5 M-0.2,0.2 C1.8,0.4 3.2,0.2 4.5,-1.8 M-0.2,-0.2 C-0.4,1.8 -0.2,3.2 1.8,4.5 M0.2,-0.2 C-1.8,-0.4 -3.2,-0.2 -4.5,1.8" transform="scale(1)" fill="none" stroke="#3a3a3a" stroke-width="1.1" stroke-linecap="round"/></g>
<text x="242.35" y="848.52" font-size="11.4" text-anchor="middle" font-family="'Liberation Serif', serif" fill="#222" font-weight="normal" dominant-baseline="central" stroke="#222" stroke-width="0.12">10</text>
<text x="218.9" y="816.1" font-size="8.37" text-anchor="middle" font-family="'Liberation Serif', serif" fill="#1e1e1e" font-weight="normal" dominant-baseline="central"  stroke="#1e1e1e" stroke-width="0.08">正转</text>
<polyline points="229.8,831.2 214.7,831.2 214.7,848.9 217.7,848.9" stroke="#333" stroke-width="0.9" fill="none" stroke-linejoin="miter" />
<circle cx="219.2" cy="848.9" r="1.4" fill="#fff" stroke="#333" stroke-width="0.8"/>
<circle cx="226.3" cy="848.9" r="1.4" fill="#fff" stroke="#333" stroke-width="0.8"/>
<path d="M219.7,847.3 Q222.25,844.9 225.8,847.3" stroke="#333" stroke-width="0.8" fill="none"/>
<line x1="227.8" y1="848.9" x2="229.8" y2="848.9" stroke="#333" stroke-width="0.8" />
<text x="223.2" y="841.6" font-size="6.5" text-anchor="middle" font-family="'Liberation Serif', serif" fill="#333" font-weight="normal" dominant-baseline="central" >ON</text>
<rect x="317.5" y="822.75" width="27.6" height="33.3" fill="#fff" stroke="none"/>
<line x1="317.6" y1="823.75" x2="317.6" y2="857.05" stroke="#555" stroke-width="1" />
<line x1="345" y1="823.75" x2="345" y2="857.05" stroke="#8a8a8a" stroke-width="1.3" />
<line x1="331.3" y1="823.75" x2="331.3" y2="857.05" stroke="#3c3c3c" stroke-width="1" />
<rect x="316.3" y="822.7" width="30" height="2.6" rx="1.2" fill="#cfcfcf" stroke="#505050" stroke-width="0.8"/>
<rect x="316.3" y="839.35" width="30" height="2.6" rx="1.2" fill="#cfcfcf" stroke="#505050" stroke-width="0.8"/>
<rect x="316.3" y="856" width="30" height="2.6" rx="1.2" fill="#cfcfcf" stroke="#505050" stroke-width="0.8"/>
<g transform="translate(338.35,832.38)"><circle r="5" fill="none" stroke="#3a3a3a" stroke-width="0.9"/><path d="M0.2,0.2 C0.4,-1.8 0.2,-3.2 -1.8,-4.5 M-0.2,0.2 C1.8,0.4 3.2,0.2 4.5,-1.8 M-0.2,-0.2 C-0.4,1.8 -0.2,3.2 1.8,4.5 M0.2,-0.2 C-1.8,-0.4 -3.2,-0.2 -4.5,1.8" transform="scale(1)" fill="none" stroke="#3a3a3a" stroke-width="1.1" stroke-linecap="round"/></g>
<text x="324.25" y="831.88" font-size="11.4" text-anchor="middle" font-family="'Liberation Serif', serif" fill="#222" font-weight="normal" dominant-baseline="central" stroke="#222" stroke-width="0.12">11</text>
<g transform="translate(338.35,849.02)"><circle r="5" fill="none" stroke="#3a3a3a" stroke-width="0.9"/><path d="M0.2,0.2 C0.4,-1.8 0.2,-3.2 -1.8,-4.5 M-0.2,0.2 C1.8,0.4 3.2,0.2 4.5,-1.8 M-0.2,-0.2 C-0.4,1.8 -0.2,3.2 1.8,4.5 M0.2,-0.2 C-1.8,-0.4 -3.2,-0.2 -4.5,1.8" transform="scale(1)" fill="none" stroke="#3a3a3a" stroke-width="1.1" stroke-linecap="round"/></g>
<text x="324.25" y="848.52" font-size="11.4" text-anchor="middle" font-family="'Liberation Serif', serif" fill="#222" font-weight="normal" dominant-baseline="central" stroke="#222" stroke-width="0.12">12</text>
<text x="301.4" y="816.1" font-size="8.37" text-anchor="middle" font-family="'Liberation Serif', serif" fill="#1e1e1e" font-weight="normal" dominant-baseline="central"  stroke="#1e1e1e" stroke-width="0.08">反转</text>
<polyline points="311.9,831.2 296.8,831.2 296.8,848.9 299.8,848.9" stroke="#333" stroke-width="0.9" fill="none" stroke-linejoin="miter" />
<circle cx="301.3" cy="848.9" r="1.4" fill="#fff" stroke="#333" stroke-width="0.8"/>
<circle cx="308.4" cy="848.9" r="1.4" fill="#fff" stroke="#333" stroke-width="0.8"/>
<path d="M301.8,847.3 Q304.35,844.9 307.9,847.3" stroke="#333" stroke-width="0.8" fill="none"/>
<line x1="309.9" y1="848.9" x2="311.9" y2="848.9" stroke="#333" stroke-width="0.8" />
<text x="305.3" y="841.6" font-size="6.5" text-anchor="middle" font-family="'Liberation Serif', serif" fill="#333" font-weight="normal" dominant-baseline="central" >ON</text>
<text x="281.4" y="868" font-size="8" text-anchor="middle" font-family="'Liberation Serif', serif" fill="#1e1e1e" font-weight="normal" dominant-baseline="central"  textLength="87.2" lengthAdjust="spacing" stroke="#1e1e1e" stroke-width="0.08">继电器控制输出接线图</text>
<rect x="445.6" y="806.65" width="27.3" height="49.41" fill="#fff" stroke="none"/>
<line x1="445.7" y1="807.65" x2="445.7" y2="857.06" stroke="#555" stroke-width="1" />
<line x1="472.8" y1="807.65" x2="472.8" y2="857.06" stroke="#8a8a8a" stroke-width="1.3" />
<line x1="459.25" y1="807.65" x2="459.25" y2="857.06" stroke="#3c3c3c" stroke-width="1" />
<rect x="444.4" y="806.6" width="29.7" height="2.6" rx="1.2" fill="#cfcfcf" stroke="#505050" stroke-width="0.8"/>
<rect x="444.4" y="823.07" width="29.7" height="2.6" rx="1.2" fill="#cfcfcf" stroke="#505050" stroke-width="0.8"/>
<rect x="444.4" y="839.54" width="29.7" height="2.6" rx="1.2" fill="#cfcfcf" stroke="#505050" stroke-width="0.8"/>
<rect x="444.4" y="856.01" width="29.7" height="2.6" rx="1.2" fill="#cfcfcf" stroke="#505050" stroke-width="0.8"/>
<g transform="translate(466.22,816.18)"><circle r="5" fill="none" stroke="#3a3a3a" stroke-width="0.9"/><path d="M0.2,0.2 C0.4,-1.8 0.2,-3.2 -1.8,-4.5 M-0.2,0.2 C1.8,0.4 3.2,0.2 4.5,-1.8 M-0.2,-0.2 C-0.4,1.8 -0.2,3.2 1.8,4.5 M0.2,-0.2 C-1.8,-0.4 -3.2,-0.2 -4.5,1.8" transform="scale(1)" fill="none" stroke="#3a3a3a" stroke-width="1.1" stroke-linecap="round"/></g>
<text x="452.28" y="815.68" font-size="11.4" text-anchor="middle" font-family="'Liberation Serif', serif" fill="#222" font-weight="normal" dominant-baseline="central" stroke="#222" stroke-width="0.12">9</text>
<g transform="translate(466.22,832.65)"><circle r="5" fill="none" stroke="#3a3a3a" stroke-width="0.9"/><path d="M0.2,0.2 C0.4,-1.8 0.2,-3.2 -1.8,-4.5 M-0.2,0.2 C1.8,0.4 3.2,0.2 4.5,-1.8 M-0.2,-0.2 C-0.4,1.8 -0.2,3.2 1.8,4.5 M0.2,-0.2 C-1.8,-0.4 -3.2,-0.2 -4.5,1.8" transform="scale(1)" fill="none" stroke="#3a3a3a" stroke-width="1.1" stroke-linecap="round"/></g>
<text x="452.28" y="832.15" font-size="11.4" text-anchor="middle" font-family="'Liberation Serif', serif" fill="#222" font-weight="normal" dominant-baseline="central" stroke="#222" stroke-width="0.12">10</text>
<g transform="translate(466.22,849.12)"><circle r="5" fill="none" stroke="#3a3a3a" stroke-width="0.9"/><path d="M0.2,0.2 C0.4,-1.8 0.2,-3.2 -1.8,-4.5 M-0.2,0.2 C1.8,0.4 3.2,0.2 4.5,-1.8 M-0.2,-0.2 C-0.4,1.8 -0.2,3.2 1.8,4.5 M0.2,-0.2 C-1.8,-0.4 -3.2,-0.2 -4.5,1.8" transform="scale(1)" fill="none" stroke="#3a3a3a" stroke-width="1.1" stroke-linecap="round"/></g>
<text x="452.28" y="848.62" font-size="11.4" text-anchor="middle" font-family="'Liberation Serif', serif" fill="#222" font-weight="normal" dominant-baseline="central" stroke="#222" stroke-width="0.12">11</text>
<text x="401.7" y="816.4" font-size="7.91" text-anchor="middle" font-family="'Liberation Serif', serif" fill="#1e1e1e" font-weight="normal" dominant-baseline="central"  textLength="34.4" lengthAdjust="spacing" stroke="#1e1e1e" stroke-width="0.08">正转输出</text>
<line x1="439.5" y1="816.4" x2="424" y2="816.4" stroke="#333" stroke-width="0.9" />
<polygon points="424,816.4 428,814.8 428,818" fill="#333"/>
<text x="410.7" y="832.6" font-size="7.91" text-anchor="middle" font-family="'Liberation Serif', serif" fill="#1e1e1e" font-weight="normal" dominant-baseline="central"  textLength="16.5" lengthAdjust="spacing" stroke="#1e1e1e" stroke-width="0.08">相线</text>
<line x1="424" y1="832.6" x2="439.5" y2="832.6" stroke="#333" stroke-width="0.9" />
<polygon points="439.5,832.6 435.5,831 435.5,834.2" fill="#333"/>
<text x="401.7" y="848.8" font-size="7.91" text-anchor="middle" font-family="'Liberation Serif', serif" fill="#1e1e1e" font-weight="normal" dominant-baseline="central"  textLength="34.4" lengthAdjust="spacing" stroke="#1e1e1e" stroke-width="0.08">反转输出</text>
<line x1="439.5" y1="848.8" x2="424" y2="848.8" stroke="#333" stroke-width="0.9" />
<polygon points="424,848.8 428,847.2 428,850.4" fill="#333"/>
<text x="434.5" y="868.6" font-size="7.91" text-anchor="middle" font-family="'Liberation Serif', serif" fill="#1e1e1e" font-weight="normal" dominant-baseline="central"  textLength="76.8" lengthAdjust="spacing" stroke="#1e1e1e" stroke-width="0.08">双向可控硅控制输出</text>
<text x="353.9" y="887.7" font-size="13.2" text-anchor="middle" font-family="'Liberation Serif', serif" fill="#1e1e1e" font-weight="normal" dominant-baseline="central"  textLength="132.6" lengthAdjust="spacing" stroke="#1e1e1e" stroke-width="0.2">阀位控制输出接线图</text>
<text x="46.3" y="931.3" font-size="13.6" text-anchor="start" font-family="'Liberation Serif', serif" fill="#1e1e1e" font-weight="normal" dominant-baseline="central"  textLength="518.5" lengthAdjust="spacing" stroke="#1e1e1e" stroke-width="0.2">注：以上接线均为参考配线，如有改动恕不另行通知，请以仪表随机接线图准。</text>
</svg></body></html>
